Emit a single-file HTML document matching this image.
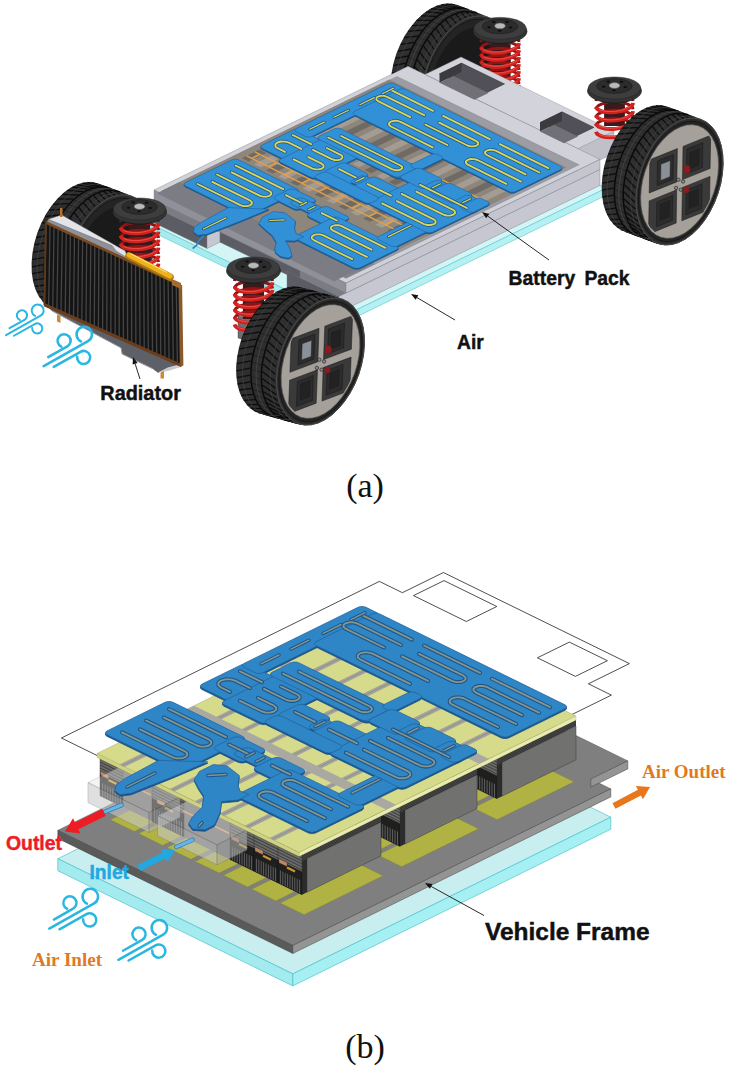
<!DOCTYPE html>
<html><head><meta charset="utf-8"><title>Battery pack cooling figure</title>
<style>html,body{margin:0;padding:0;background:#fff}svg{display:block}</style></head>
<body><svg width="730" height="1066" viewBox="0 0 730 1066">
<rect width="730" height="1066" fill="#fff"/>
<polygon points="57.8,858.7 292.8,973.9 610.8,817.2 375.8,702.1" fill="#c9eeef" stroke="#4cc3cc" stroke-width="0.70" stroke-linejoin="round"/>
<polygon points="57.8,858.7 292.8,973.9 292.8,985.9 57.8,870.7" fill="#a3ebef" stroke="#4cc3cc" stroke-width="0.70" stroke-linejoin="round"/>
<polygon points="292.8,973.9 610.8,817.2 610.8,829.2 292.8,985.9" fill="#a6f0f4" stroke="#4cc3cc" stroke-width="0.70" stroke-linejoin="round"/>
<polygon points="57.8,830.4 292.8,945.5 610.8,788.9 590.8,779.1 627.8,760.9 432.8,665.4 395.8,683.6 375.8,673.8" fill="#7f7f7f" stroke="#444" stroke-width="0.50" stroke-linejoin="round"/>
<polygon points="57.8,830.4 292.8,945.5 292.8,953.5 57.8,838.4" fill="#5a5a5a" stroke="#444" stroke-width="0.50" stroke-linejoin="round"/>
<polygon points="292.8,945.5 610.8,788.9 610.8,796.9 292.8,953.5" fill="#949494" stroke="#444" stroke-width="0.50" stroke-linejoin="round"/>
<polygon points="590.8,779.1 627.8,760.9 627.8,768.9 590.8,787.1" fill="#949494" stroke="#444" stroke-width="0.50" stroke-linejoin="round"/>
<polygon points="280.1,903 359.1,864.1 383.1,875.8 304.1,914.7" fill="#b0b344" stroke="#7d8028" stroke-width="0.40" stroke-linejoin="round"/>
<polygon points="377.7,854.9 454.6,817 478.6,828.8 401.7,866.7" fill="#b0b344" stroke="#7d8028" stroke-width="0.40" stroke-linejoin="round"/>
<polygon points="473.1,807.9 550.1,770 574.1,781.8 497.1,819.7" fill="#b0b344" stroke="#7d8028" stroke-width="0.40" stroke-linejoin="round"/>
<polygon points="251.8,889.1 330.8,850.2 354.8,862 275.8,900.9" fill="#b0b344" stroke="#7d8028" stroke-width="0.40" stroke-linejoin="round"/>
<polygon points="349.4,841 426.3,803.2 450.3,814.9 373.4,852.8" fill="#b0b344" stroke="#7d8028" stroke-width="0.40" stroke-linejoin="round"/>
<polygon points="444.8,794.1 521.8,756.1 545.8,767.9 468.8,805.8" fill="#b0b344" stroke="#7d8028" stroke-width="0.40" stroke-linejoin="round"/>
<polygon points="223.5,875.2 302.5,836.3 326.5,848.1 247.5,887" fill="#b0b344" stroke="#7d8028" stroke-width="0.40" stroke-linejoin="round"/>
<polygon points="321.1,827.2 398,789.3 422,801.1 345.1,838.9" fill="#b0b344" stroke="#7d8028" stroke-width="0.40" stroke-linejoin="round"/>
<polygon points="416.5,780.2 493.5,742.3 517.5,754 440.5,791.9" fill="#b0b344" stroke="#7d8028" stroke-width="0.40" stroke-linejoin="round"/>
<polygon points="195.2,861.4 274.2,822.5 298.2,834.2 219.2,873.1" fill="#b0b344" stroke="#7d8028" stroke-width="0.40" stroke-linejoin="round"/>
<polygon points="292.8,813.3 369.7,775.4 393.7,787.2 316.8,825.1" fill="#b0b344" stroke="#7d8028" stroke-width="0.40" stroke-linejoin="round"/>
<polygon points="388.2,766.3 465.2,728.4 489.2,740.2 412.2,778.1" fill="#b0b344" stroke="#7d8028" stroke-width="0.40" stroke-linejoin="round"/>
<polygon points="166.9,847.5 245.9,808.6 269.9,820.4 190.9,859.3" fill="#b0b344" stroke="#7d8028" stroke-width="0.40" stroke-linejoin="round"/>
<polygon points="264.5,799.4 341.4,761.6 365.4,773.3 288.5,811.2" fill="#b0b344" stroke="#7d8028" stroke-width="0.40" stroke-linejoin="round"/>
<polygon points="359.9,752.5 436.9,714.5 460.9,726.3 383.9,764.2" fill="#b0b344" stroke="#7d8028" stroke-width="0.40" stroke-linejoin="round"/>
<polygon points="138.6,833.6 217.6,794.7 241.6,806.5 162.6,845.4" fill="#b0b344" stroke="#7d8028" stroke-width="0.40" stroke-linejoin="round"/>
<polygon points="236.2,785.6 313.1,747.7 337.1,759.5 260.2,797.3" fill="#b0b344" stroke="#7d8028" stroke-width="0.40" stroke-linejoin="round"/>
<polygon points="331.6,738.6 408.6,700.7 432.6,712.4 355.6,750.3" fill="#b0b344" stroke="#7d8028" stroke-width="0.40" stroke-linejoin="round"/>
<polygon points="110.3,819.8 189.3,780.9 213.3,792.6 134.3,831.5" fill="#b0b344" stroke="#7d8028" stroke-width="0.40" stroke-linejoin="round"/>
<polygon points="207.9,771.7 284.8,733.8 308.8,745.6 231.9,783.5" fill="#b0b344" stroke="#7d8028" stroke-width="0.40" stroke-linejoin="round"/>
<polygon points="303.3,724.7 380.3,686.8 404.3,698.6 327.3,736.5" fill="#b0b344" stroke="#7d8028" stroke-width="0.40" stroke-linejoin="round"/>
<polygon points="61.4,738 293.4,851.7 611.4,695.1 588.4,683.8 629.4,663.6 443.4,572.5 402.4,592.7 379.4,581.4" fill="none" stroke="#222" stroke-width="0.80" stroke-linejoin="round"/>
<polygon points="413.5,595.6 444,580.6 496.8,606.5 466.3,621.5" fill="none" stroke="#222" stroke-width="0.80" stroke-linejoin="round"/>
<polygon points="537.4,657.8 569.4,642.1 607.4,660.7 575.4,676.4" fill="none" stroke="#222" stroke-width="0.80" stroke-linejoin="round"/>
<polygon points="445,733.5 497,759 497,776 445,750.5" fill="#6a6a68" stroke="#333" stroke-width="0.40" stroke-linejoin="round"/>
<polyline points="445,736.5 497,762" fill="none" stroke="#2a2a2a" stroke-width="0.70" stroke-linecap="butt" stroke-linejoin="round"/>
<polyline points="445,739.5 497,765" fill="none" stroke="#2a2a2a" stroke-width="0.70" stroke-linecap="butt" stroke-linejoin="round"/>
<polyline points="445,742.5 497,768" fill="none" stroke="#2a2a2a" stroke-width="0.70" stroke-linecap="butt" stroke-linejoin="round"/>
<polyline points="445,745.5 497,771" fill="none" stroke="#2a2a2a" stroke-width="0.70" stroke-linecap="butt" stroke-linejoin="round"/>
<polyline points="445,748.5 497,774" fill="none" stroke="#2a2a2a" stroke-width="0.70" stroke-linecap="butt" stroke-linejoin="round"/>
<polygon points="445,750.5 497,776 497,798.7 445,773.2" fill="#1f1f1f" stroke="#111" stroke-width="0.40" stroke-linejoin="round"/>
<polyline points="447.5,760.7 447.5,773.9" fill="none" stroke="#8a8a8a" stroke-width="0.60" stroke-linecap="butt" stroke-linejoin="round"/>
<polyline points="450,761.9 450,775.1" fill="none" stroke="#8a8a8a" stroke-width="0.60" stroke-linecap="butt" stroke-linejoin="round"/>
<polyline points="452.4,763.1 452.4,776.3" fill="none" stroke="#8a8a8a" stroke-width="0.60" stroke-linecap="butt" stroke-linejoin="round"/>
<polyline points="454.9,764.3 454.9,777.5" fill="none" stroke="#8a8a8a" stroke-width="0.60" stroke-linecap="butt" stroke-linejoin="round"/>
<polyline points="457.4,765.6 457.4,778.8" fill="none" stroke="#8a8a8a" stroke-width="0.60" stroke-linecap="butt" stroke-linejoin="round"/>
<polyline points="459.9,766.8 459.9,780" fill="none" stroke="#8a8a8a" stroke-width="0.60" stroke-linecap="butt" stroke-linejoin="round"/>
<polyline points="462.3,768 462.3,781.2" fill="none" stroke="#8a8a8a" stroke-width="0.60" stroke-linecap="butt" stroke-linejoin="round"/>
<polyline points="464.8,769.2 464.8,782.4" fill="none" stroke="#8a8a8a" stroke-width="0.60" stroke-linecap="butt" stroke-linejoin="round"/>
<polyline points="467.3,770.4 467.3,783.6" fill="none" stroke="#8a8a8a" stroke-width="0.60" stroke-linecap="butt" stroke-linejoin="round"/>
<polyline points="469.8,771.6 469.8,784.8" fill="none" stroke="#8a8a8a" stroke-width="0.60" stroke-linecap="butt" stroke-linejoin="round"/>
<polyline points="472.2,772.8 472.2,786" fill="none" stroke="#8a8a8a" stroke-width="0.60" stroke-linecap="butt" stroke-linejoin="round"/>
<polyline points="474.7,774 474.7,787.2" fill="none" stroke="#8a8a8a" stroke-width="0.60" stroke-linecap="butt" stroke-linejoin="round"/>
<polyline points="477.2,775.3 477.2,788.5" fill="none" stroke="#8a8a8a" stroke-width="0.60" stroke-linecap="butt" stroke-linejoin="round"/>
<polyline points="479.7,776.5 479.7,789.7" fill="none" stroke="#8a8a8a" stroke-width="0.60" stroke-linecap="butt" stroke-linejoin="round"/>
<polyline points="482.1,777.7 482.1,790.9" fill="none" stroke="#8a8a8a" stroke-width="0.60" stroke-linecap="butt" stroke-linejoin="round"/>
<polyline points="484.6,778.9 484.6,792.1" fill="none" stroke="#8a8a8a" stroke-width="0.60" stroke-linecap="butt" stroke-linejoin="round"/>
<polyline points="487.1,780.1 487.1,793.3" fill="none" stroke="#8a8a8a" stroke-width="0.60" stroke-linecap="butt" stroke-linejoin="round"/>
<polyline points="489.6,781.3 489.6,794.5" fill="none" stroke="#8a8a8a" stroke-width="0.60" stroke-linecap="butt" stroke-linejoin="round"/>
<polyline points="492,782.5 492,795.7" fill="none" stroke="#8a8a8a" stroke-width="0.60" stroke-linecap="butt" stroke-linejoin="round"/>
<polyline points="494.5,783.8 494.5,797" fill="none" stroke="#8a8a8a" stroke-width="0.60" stroke-linecap="butt" stroke-linejoin="round"/>
<polygon points="497,759 576,720.1 576,726.1 497,765" fill="#2a2a2a"/>
<polyline points="497,760.5 576,721.6" fill="none" stroke="#777" stroke-width="0.40" stroke-linecap="butt" stroke-linejoin="round"/>
<polyline points="497,762 576,723.1" fill="none" stroke="#777" stroke-width="0.40" stroke-linecap="butt" stroke-linejoin="round"/>
<polyline points="497,763.5 576,724.6" fill="none" stroke="#777" stroke-width="0.40" stroke-linecap="butt" stroke-linejoin="round"/>
<polygon points="502,762.5 576,726.1 576,759.8 502,796.2" fill="#717170" stroke="#3c3c3c" stroke-width="0.50" stroke-linejoin="round"/>
<polygon points="497,765 502,762.5 502,796.2 497,798.7" fill="#2c2c2c"/>
<polygon points="348,781.3 400,806.7 400,823.7 348,798.3" fill="#6a6a68" stroke="#333" stroke-width="0.40" stroke-linejoin="round"/>
<polyline points="348,784.3 400,809.7" fill="none" stroke="#2a2a2a" stroke-width="0.70" stroke-linecap="butt" stroke-linejoin="round"/>
<polyline points="348,787.3 400,812.7" fill="none" stroke="#2a2a2a" stroke-width="0.70" stroke-linecap="butt" stroke-linejoin="round"/>
<polyline points="348,790.3 400,815.7" fill="none" stroke="#2a2a2a" stroke-width="0.70" stroke-linecap="butt" stroke-linejoin="round"/>
<polyline points="348,793.3 400,818.7" fill="none" stroke="#2a2a2a" stroke-width="0.70" stroke-linecap="butt" stroke-linejoin="round"/>
<polyline points="348,796.3 400,821.7" fill="none" stroke="#2a2a2a" stroke-width="0.70" stroke-linecap="butt" stroke-linejoin="round"/>
<polygon points="348,798.3 400,823.7 400,846.4 348,821" fill="#1f1f1f" stroke="#111" stroke-width="0.40" stroke-linejoin="round"/>
<polyline points="350.5,808.5 350.5,821.7" fill="none" stroke="#8a8a8a" stroke-width="0.60" stroke-linecap="butt" stroke-linejoin="round"/>
<polyline points="353,809.7 353,822.9" fill="none" stroke="#8a8a8a" stroke-width="0.60" stroke-linecap="butt" stroke-linejoin="round"/>
<polyline points="355.4,810.9 355.4,824.1" fill="none" stroke="#8a8a8a" stroke-width="0.60" stroke-linecap="butt" stroke-linejoin="round"/>
<polyline points="357.9,812.1 357.9,825.3" fill="none" stroke="#8a8a8a" stroke-width="0.60" stroke-linecap="butt" stroke-linejoin="round"/>
<polyline points="360.4,813.3 360.4,826.5" fill="none" stroke="#8a8a8a" stroke-width="0.60" stroke-linecap="butt" stroke-linejoin="round"/>
<polyline points="362.9,814.5 362.9,827.7" fill="none" stroke="#8a8a8a" stroke-width="0.60" stroke-linecap="butt" stroke-linejoin="round"/>
<polyline points="365.3,815.8 365.3,829" fill="none" stroke="#8a8a8a" stroke-width="0.60" stroke-linecap="butt" stroke-linejoin="round"/>
<polyline points="367.8,817 367.8,830.2" fill="none" stroke="#8a8a8a" stroke-width="0.60" stroke-linecap="butt" stroke-linejoin="round"/>
<polyline points="370.3,818.2 370.3,831.4" fill="none" stroke="#8a8a8a" stroke-width="0.60" stroke-linecap="butt" stroke-linejoin="round"/>
<polyline points="372.8,819.4 372.8,832.6" fill="none" stroke="#8a8a8a" stroke-width="0.60" stroke-linecap="butt" stroke-linejoin="round"/>
<polyline points="375.2,820.6 375.2,833.8" fill="none" stroke="#8a8a8a" stroke-width="0.60" stroke-linecap="butt" stroke-linejoin="round"/>
<polyline points="377.7,821.8 377.7,835" fill="none" stroke="#8a8a8a" stroke-width="0.60" stroke-linecap="butt" stroke-linejoin="round"/>
<polyline points="380.2,823 380.2,836.2" fill="none" stroke="#8a8a8a" stroke-width="0.60" stroke-linecap="butt" stroke-linejoin="round"/>
<polyline points="382.7,824.2 382.7,837.4" fill="none" stroke="#8a8a8a" stroke-width="0.60" stroke-linecap="butt" stroke-linejoin="round"/>
<polyline points="385.1,825.5 385.1,838.7" fill="none" stroke="#8a8a8a" stroke-width="0.60" stroke-linecap="butt" stroke-linejoin="round"/>
<polyline points="387.6,826.7 387.6,839.9" fill="none" stroke="#8a8a8a" stroke-width="0.60" stroke-linecap="butt" stroke-linejoin="round"/>
<polyline points="390.1,827.9 390.1,841.1" fill="none" stroke="#8a8a8a" stroke-width="0.60" stroke-linecap="butt" stroke-linejoin="round"/>
<polyline points="392.6,829.1 392.6,842.3" fill="none" stroke="#8a8a8a" stroke-width="0.60" stroke-linecap="butt" stroke-linejoin="round"/>
<polyline points="395,830.3 395,843.5" fill="none" stroke="#8a8a8a" stroke-width="0.60" stroke-linecap="butt" stroke-linejoin="round"/>
<polyline points="397.5,831.5 397.5,844.7" fill="none" stroke="#8a8a8a" stroke-width="0.60" stroke-linecap="butt" stroke-linejoin="round"/>
<polygon points="400,806.7 477,768.8 477,774.8 400,812.7" fill="#2a2a2a"/>
<polyline points="400,808.2 477,770.3" fill="none" stroke="#777" stroke-width="0.40" stroke-linecap="butt" stroke-linejoin="round"/>
<polyline points="400,809.7 477,771.8" fill="none" stroke="#777" stroke-width="0.40" stroke-linecap="butt" stroke-linejoin="round"/>
<polyline points="400,811.2 477,773.3" fill="none" stroke="#777" stroke-width="0.40" stroke-linecap="butt" stroke-linejoin="round"/>
<polygon points="405,810.3 477,774.8 477,808.5 405,844" fill="#717170" stroke="#3c3c3c" stroke-width="0.50" stroke-linejoin="round"/>
<polygon points="400,812.7 405,810.3 405,844 400,846.4" fill="#2c2c2c"/>
<polygon points="302,855 381,816.1 381,822.1 302,861" fill="#2a2a2a"/>
<polyline points="302,856.5 381,817.6" fill="none" stroke="#777" stroke-width="0.40" stroke-linecap="butt" stroke-linejoin="round"/>
<polyline points="302,858 381,819.1" fill="none" stroke="#777" stroke-width="0.40" stroke-linecap="butt" stroke-linejoin="round"/>
<polyline points="302,859.5 381,820.6" fill="none" stroke="#777" stroke-width="0.40" stroke-linecap="butt" stroke-linejoin="round"/>
<polygon points="307,858.5 381,822.1 381,855.8 307,892.2" fill="#717170" stroke="#3c3c3c" stroke-width="0.50" stroke-linejoin="round"/>
<polygon points="302,861 307,858.5 307,892.2 302,894.7" fill="#2c2c2c"/>
<polygon points="100,756 302,855 302,894.7 100,795.7" fill="#6e6e70"/>
<polygon points="100,756 123,767.3 123,784.3 100,773" fill="#6a6a68" stroke="#333" stroke-width="0.40" stroke-linejoin="round"/>
<polyline points="100,759 123,770.3" fill="none" stroke="#2a2a2a" stroke-width="0.70" stroke-linecap="butt" stroke-linejoin="round"/>
<polyline points="100,762 123,773.3" fill="none" stroke="#2a2a2a" stroke-width="0.70" stroke-linecap="butt" stroke-linejoin="round"/>
<polyline points="100,765 123,776.3" fill="none" stroke="#2a2a2a" stroke-width="0.70" stroke-linecap="butt" stroke-linejoin="round"/>
<polyline points="100,768 123,779.3" fill="none" stroke="#2a2a2a" stroke-width="0.70" stroke-linecap="butt" stroke-linejoin="round"/>
<polyline points="100,771 123,782.3" fill="none" stroke="#2a2a2a" stroke-width="0.70" stroke-linecap="butt" stroke-linejoin="round"/>
<polygon points="100,773 123,784.3 123,807 100,795.7" fill="#1f1f1f" stroke="#111" stroke-width="0.40" stroke-linejoin="round"/>
<polyline points="102.6,783.3 102.6,796.5" fill="none" stroke="#8a8a8a" stroke-width="0.60" stroke-linecap="butt" stroke-linejoin="round"/>
<polyline points="105.1,784.5 105.1,797.7" fill="none" stroke="#8a8a8a" stroke-width="0.60" stroke-linecap="butt" stroke-linejoin="round"/>
<polyline points="107.7,785.8 107.7,799" fill="none" stroke="#8a8a8a" stroke-width="0.60" stroke-linecap="butt" stroke-linejoin="round"/>
<polyline points="110.2,787 110.2,800.2" fill="none" stroke="#8a8a8a" stroke-width="0.60" stroke-linecap="butt" stroke-linejoin="round"/>
<polyline points="112.8,788.3 112.8,801.5" fill="none" stroke="#8a8a8a" stroke-width="0.60" stroke-linecap="butt" stroke-linejoin="round"/>
<polyline points="115.3,789.5 115.3,802.7" fill="none" stroke="#8a8a8a" stroke-width="0.60" stroke-linecap="butt" stroke-linejoin="round"/>
<polyline points="117.9,790.8 117.9,804" fill="none" stroke="#8a8a8a" stroke-width="0.60" stroke-linecap="butt" stroke-linejoin="round"/>
<polyline points="120.4,792 120.4,805.2" fill="none" stroke="#8a8a8a" stroke-width="0.60" stroke-linecap="butt" stroke-linejoin="round"/>
<polygon points="100.5,771.2 108.5,775.1 108.5,779.1 100.5,775.2" fill="#b98a6a" stroke="#5c3a22" stroke-width="0.40" stroke-linejoin="round"/>
<polyline points="108.5,780.1 116.5,784" fill="none" stroke="#c89a2e" stroke-width="2.20" stroke-linecap="butt" stroke-linejoin="round"/>
<polygon points="152,781.5 184,797.2 184,814.2 152,798.5" fill="#6a6a68" stroke="#333" stroke-width="0.40" stroke-linejoin="round"/>
<polyline points="152,784.5 184,800.2" fill="none" stroke="#2a2a2a" stroke-width="0.70" stroke-linecap="butt" stroke-linejoin="round"/>
<polyline points="152,787.5 184,803.2" fill="none" stroke="#2a2a2a" stroke-width="0.70" stroke-linecap="butt" stroke-linejoin="round"/>
<polyline points="152,790.5 184,806.2" fill="none" stroke="#2a2a2a" stroke-width="0.70" stroke-linecap="butt" stroke-linejoin="round"/>
<polyline points="152,793.5 184,809.2" fill="none" stroke="#2a2a2a" stroke-width="0.70" stroke-linecap="butt" stroke-linejoin="round"/>
<polyline points="152,796.5 184,812.2" fill="none" stroke="#2a2a2a" stroke-width="0.70" stroke-linecap="butt" stroke-linejoin="round"/>
<polygon points="152,798.5 184,814.2 184,836.9 152,821.2" fill="#1f1f1f" stroke="#111" stroke-width="0.40" stroke-linejoin="round"/>
<polyline points="154.5,808.7 154.5,821.9" fill="none" stroke="#8a8a8a" stroke-width="0.60" stroke-linecap="butt" stroke-linejoin="round"/>
<polyline points="156.9,809.9 156.9,823.1" fill="none" stroke="#8a8a8a" stroke-width="0.60" stroke-linecap="butt" stroke-linejoin="round"/>
<polyline points="159.4,811.1 159.4,824.3" fill="none" stroke="#8a8a8a" stroke-width="0.60" stroke-linecap="butt" stroke-linejoin="round"/>
<polyline points="161.8,812.3 161.8,825.5" fill="none" stroke="#8a8a8a" stroke-width="0.60" stroke-linecap="butt" stroke-linejoin="round"/>
<polyline points="164.3,813.5 164.3,826.7" fill="none" stroke="#8a8a8a" stroke-width="0.60" stroke-linecap="butt" stroke-linejoin="round"/>
<polyline points="166.8,814.7 166.8,827.9" fill="none" stroke="#8a8a8a" stroke-width="0.60" stroke-linecap="butt" stroke-linejoin="round"/>
<polyline points="169.2,815.9 169.2,829.1" fill="none" stroke="#8a8a8a" stroke-width="0.60" stroke-linecap="butt" stroke-linejoin="round"/>
<polyline points="171.7,817.2 171.7,830.4" fill="none" stroke="#8a8a8a" stroke-width="0.60" stroke-linecap="butt" stroke-linejoin="round"/>
<polyline points="174.2,818.4 174.2,831.6" fill="none" stroke="#8a8a8a" stroke-width="0.60" stroke-linecap="butt" stroke-linejoin="round"/>
<polyline points="176.6,819.6 176.6,832.8" fill="none" stroke="#8a8a8a" stroke-width="0.60" stroke-linecap="butt" stroke-linejoin="round"/>
<polyline points="179.1,820.8 179.1,834" fill="none" stroke="#8a8a8a" stroke-width="0.60" stroke-linecap="butt" stroke-linejoin="round"/>
<polyline points="181.5,822 181.5,835.2" fill="none" stroke="#8a8a8a" stroke-width="0.60" stroke-linecap="butt" stroke-linejoin="round"/>
<polygon points="157,798.9 165,802.8 165,806.8 157,802.9" fill="#b98a6a" stroke="#5c3a22" stroke-width="0.40" stroke-linejoin="round"/>
<polyline points="165,807.8 173,811.7" fill="none" stroke="#c89a2e" stroke-width="2.20" stroke-linecap="butt" stroke-linejoin="round"/>
<polygon points="230,819.7 254,831.5 254,848.5 230,836.7" fill="#6a6a68" stroke="#333" stroke-width="0.40" stroke-linejoin="round"/>
<polyline points="230,822.7 254,834.5" fill="none" stroke="#2a2a2a" stroke-width="0.70" stroke-linecap="butt" stroke-linejoin="round"/>
<polyline points="230,825.7 254,837.5" fill="none" stroke="#2a2a2a" stroke-width="0.70" stroke-linecap="butt" stroke-linejoin="round"/>
<polyline points="230,828.7 254,840.5" fill="none" stroke="#2a2a2a" stroke-width="0.70" stroke-linecap="butt" stroke-linejoin="round"/>
<polyline points="230,831.7 254,843.5" fill="none" stroke="#2a2a2a" stroke-width="0.70" stroke-linecap="butt" stroke-linejoin="round"/>
<polyline points="230,834.7 254,846.5" fill="none" stroke="#2a2a2a" stroke-width="0.70" stroke-linecap="butt" stroke-linejoin="round"/>
<polygon points="230,836.7 254,848.5 254,871.2 230,859.4" fill="#1f1f1f" stroke="#111" stroke-width="0.40" stroke-linejoin="round"/>
<polyline points="232.4,846.9 232.4,860.1" fill="none" stroke="#8a8a8a" stroke-width="0.60" stroke-linecap="butt" stroke-linejoin="round"/>
<polyline points="234.8,848.1 234.8,861.3" fill="none" stroke="#8a8a8a" stroke-width="0.60" stroke-linecap="butt" stroke-linejoin="round"/>
<polyline points="237.2,849.3 237.2,862.5" fill="none" stroke="#8a8a8a" stroke-width="0.60" stroke-linecap="butt" stroke-linejoin="round"/>
<polyline points="239.6,850.4 239.6,863.6" fill="none" stroke="#8a8a8a" stroke-width="0.60" stroke-linecap="butt" stroke-linejoin="round"/>
<polyline points="242,851.6 242,864.8" fill="none" stroke="#8a8a8a" stroke-width="0.60" stroke-linecap="butt" stroke-linejoin="round"/>
<polyline points="244.4,852.8 244.4,866" fill="none" stroke="#8a8a8a" stroke-width="0.60" stroke-linecap="butt" stroke-linejoin="round"/>
<polyline points="246.8,854 246.8,867.2" fill="none" stroke="#8a8a8a" stroke-width="0.60" stroke-linecap="butt" stroke-linejoin="round"/>
<polyline points="249.2,855.1 249.2,868.3" fill="none" stroke="#8a8a8a" stroke-width="0.60" stroke-linecap="butt" stroke-linejoin="round"/>
<polyline points="251.6,856.3 251.6,869.5" fill="none" stroke="#8a8a8a" stroke-width="0.60" stroke-linecap="butt" stroke-linejoin="round"/>
<polygon points="231,835.1 239,839.1 239,843.1 231,839.1" fill="#b98a6a" stroke="#5c3a22" stroke-width="0.40" stroke-linejoin="round"/>
<polyline points="239,844.1 247,848" fill="none" stroke="#c89a2e" stroke-width="2.20" stroke-linecap="butt" stroke-linejoin="round"/>
<polygon points="254,831.5 278,843.2 278,860.2 254,848.5" fill="#6a6a68" stroke="#333" stroke-width="0.40" stroke-linejoin="round"/>
<polyline points="254,834.5 278,846.2" fill="none" stroke="#2a2a2a" stroke-width="0.70" stroke-linecap="butt" stroke-linejoin="round"/>
<polyline points="254,837.5 278,849.2" fill="none" stroke="#2a2a2a" stroke-width="0.70" stroke-linecap="butt" stroke-linejoin="round"/>
<polyline points="254,840.5 278,852.2" fill="none" stroke="#2a2a2a" stroke-width="0.70" stroke-linecap="butt" stroke-linejoin="round"/>
<polyline points="254,843.5 278,855.2" fill="none" stroke="#2a2a2a" stroke-width="0.70" stroke-linecap="butt" stroke-linejoin="round"/>
<polyline points="254,846.5 278,858.2" fill="none" stroke="#2a2a2a" stroke-width="0.70" stroke-linecap="butt" stroke-linejoin="round"/>
<polygon points="254,848.5 278,860.2 278,882.9 254,871.2" fill="#1f1f1f" stroke="#111" stroke-width="0.40" stroke-linejoin="round"/>
<polyline points="256.4,858.7 256.4,871.9" fill="none" stroke="#8a8a8a" stroke-width="0.60" stroke-linecap="butt" stroke-linejoin="round"/>
<polyline points="258.8,859.8 258.8,873" fill="none" stroke="#8a8a8a" stroke-width="0.60" stroke-linecap="butt" stroke-linejoin="round"/>
<polyline points="261.2,861 261.2,874.2" fill="none" stroke="#8a8a8a" stroke-width="0.60" stroke-linecap="butt" stroke-linejoin="round"/>
<polyline points="263.6,862.2 263.6,875.4" fill="none" stroke="#8a8a8a" stroke-width="0.60" stroke-linecap="butt" stroke-linejoin="round"/>
<polyline points="266,863.4 266,876.6" fill="none" stroke="#8a8a8a" stroke-width="0.60" stroke-linecap="butt" stroke-linejoin="round"/>
<polyline points="268.4,864.5 268.4,877.7" fill="none" stroke="#8a8a8a" stroke-width="0.60" stroke-linecap="butt" stroke-linejoin="round"/>
<polyline points="270.8,865.7 270.8,878.9" fill="none" stroke="#8a8a8a" stroke-width="0.60" stroke-linecap="butt" stroke-linejoin="round"/>
<polyline points="273.2,866.9 273.2,880.1" fill="none" stroke="#8a8a8a" stroke-width="0.60" stroke-linecap="butt" stroke-linejoin="round"/>
<polyline points="275.6,868.1 275.6,881.3" fill="none" stroke="#8a8a8a" stroke-width="0.60" stroke-linecap="butt" stroke-linejoin="round"/>
<polygon points="255,846.9 263,850.8 263,854.8 255,850.9" fill="#b98a6a" stroke="#5c3a22" stroke-width="0.40" stroke-linejoin="round"/>
<polyline points="263,855.8 271,859.7" fill="none" stroke="#c89a2e" stroke-width="2.20" stroke-linecap="butt" stroke-linejoin="round"/>
<polygon points="278,843.2 302,855 302,872 278,860.2" fill="#6a6a68" stroke="#333" stroke-width="0.40" stroke-linejoin="round"/>
<polyline points="278,846.2 302,858" fill="none" stroke="#2a2a2a" stroke-width="0.70" stroke-linecap="butt" stroke-linejoin="round"/>
<polyline points="278,849.2 302,861" fill="none" stroke="#2a2a2a" stroke-width="0.70" stroke-linecap="butt" stroke-linejoin="round"/>
<polyline points="278,852.2 302,864" fill="none" stroke="#2a2a2a" stroke-width="0.70" stroke-linecap="butt" stroke-linejoin="round"/>
<polyline points="278,855.2 302,867" fill="none" stroke="#2a2a2a" stroke-width="0.70" stroke-linecap="butt" stroke-linejoin="round"/>
<polyline points="278,858.2 302,870" fill="none" stroke="#2a2a2a" stroke-width="0.70" stroke-linecap="butt" stroke-linejoin="round"/>
<polygon points="278,860.2 302,872 302,894.7 278,882.9" fill="#1f1f1f" stroke="#111" stroke-width="0.40" stroke-linejoin="round"/>
<polyline points="280.4,870.4 280.4,883.6" fill="none" stroke="#8a8a8a" stroke-width="0.60" stroke-linecap="butt" stroke-linejoin="round"/>
<polyline points="282.8,871.6 282.8,884.8" fill="none" stroke="#8a8a8a" stroke-width="0.60" stroke-linecap="butt" stroke-linejoin="round"/>
<polyline points="285.2,872.8 285.2,886" fill="none" stroke="#8a8a8a" stroke-width="0.60" stroke-linecap="butt" stroke-linejoin="round"/>
<polyline points="287.6,873.9 287.6,887.1" fill="none" stroke="#8a8a8a" stroke-width="0.60" stroke-linecap="butt" stroke-linejoin="round"/>
<polyline points="290,875.1 290,888.3" fill="none" stroke="#8a8a8a" stroke-width="0.60" stroke-linecap="butt" stroke-linejoin="round"/>
<polyline points="292.4,876.3 292.4,889.5" fill="none" stroke="#8a8a8a" stroke-width="0.60" stroke-linecap="butt" stroke-linejoin="round"/>
<polyline points="294.8,877.5 294.8,890.7" fill="none" stroke="#8a8a8a" stroke-width="0.60" stroke-linecap="butt" stroke-linejoin="round"/>
<polyline points="297.2,878.7 297.2,891.9" fill="none" stroke="#8a8a8a" stroke-width="0.60" stroke-linecap="butt" stroke-linejoin="round"/>
<polyline points="299.6,879.8 299.6,893" fill="none" stroke="#8a8a8a" stroke-width="0.60" stroke-linecap="butt" stroke-linejoin="round"/>
<polygon points="279,858.7 287,862.6 287,866.6 279,862.7" fill="#b98a6a" stroke="#5c3a22" stroke-width="0.40" stroke-linejoin="round"/>
<polyline points="287,867.6 295,871.5" fill="none" stroke="#c89a2e" stroke-width="2.20" stroke-linecap="butt" stroke-linejoin="round"/>
<polyline points="122,780.8 151,795" fill="none" stroke="#d79a5e" stroke-width="1.60" stroke-linecap="butt" stroke-linejoin="round"/>
<polyline points="183,810.7 229,833.2" fill="none" stroke="#d79a5e" stroke-width="1.60" stroke-linecap="butt" stroke-linejoin="round"/>
<polygon points="88,782.6 119,767.3 180,797.2 149,812.5" fill="#e4e4e4" stroke="#6f6f6f" stroke-width="0.50" stroke-linejoin="round" opacity="0.42"/>
<polygon points="88,782.6 149,812.5 149,832.5 88,802.6" fill="#c9c9c9" stroke="#6f6f6f" stroke-width="0.50" stroke-linejoin="round" opacity="0.58"/>
<polygon points="149,812.5 180,797.2 180,817.2 149,832.5" fill="#b0b0b0" stroke="#6f6f6f" stroke-width="0.50" stroke-linejoin="round" opacity="0.6"/>
<polygon points="157.5,815.7 187.5,800.9 247,830.1 217,844.8" fill="#e4e4e4" stroke="#6f6f6f" stroke-width="0.50" stroke-linejoin="round" opacity="0.42"/>
<polygon points="157.5,815.7 217,844.8 217,864.8 157.5,835.7" fill="#c9c9c9" stroke="#6f6f6f" stroke-width="0.50" stroke-linejoin="round" opacity="0.58"/>
<polygon points="217,844.8 247,830.1 247,850.1 217,864.8" fill="#b0b0b0" stroke="#6f6f6f" stroke-width="0.50" stroke-linejoin="round" opacity="0.6"/>
<polyline points="105.5,811.6 121.5,805" fill="none" stroke="#2f7fb8" stroke-width="4.60" stroke-linecap="round" stroke-linejoin="round"/>
<polyline points="105.5,811.6 121.5,805" fill="none" stroke="#6ab4e4" stroke-width="3.00" stroke-linecap="round" stroke-linejoin="round"/>
<polyline points="176.3,846.9 192.4,840" fill="none" stroke="#2f7fb8" stroke-width="4.60" stroke-linecap="round" stroke-linejoin="round"/>
<polyline points="176.3,846.9 192.4,840" fill="none" stroke="#6ab4e4" stroke-width="3.00" stroke-linecap="round" stroke-linejoin="round"/>
<polygon points="97,753.5 374,617.1 576,716.1 299,852.5" fill="#d6da8b" stroke="#9a9c50" stroke-width="0.40" stroke-linejoin="round"/>
<polygon points="299,852.5 576,716.1 576,720.1 299,856.5" fill="#e9ebb0" stroke="#9a9c50" stroke-width="0.30" stroke-linejoin="round"/>
<polygon points="97,753.5 299,852.5 299,856.5 97,757.5" fill="#cfd283" stroke="#9a9c50" stroke-width="0.30" stroke-linejoin="round"/>
<polygon points="119.5,764.5 396.5,628.1 401.5,630.6 124.5,767" fill="#a3a39c"/>
<polyline points="122,765.8 399,629.3" fill="none" stroke="#7f7f7a" stroke-width="0.50" stroke-linecap="butt" stroke-linejoin="round"/>
<polygon points="144.5,776.8 421.5,640.4 426.5,642.8 149.5,779.2" fill="#a3a39c"/>
<polyline points="147,778 424,641.6" fill="none" stroke="#7f7f7a" stroke-width="0.50" stroke-linecap="butt" stroke-linejoin="round"/>
<polygon points="169.5,789 446.5,652.6 451.5,655.1 174.5,791.5" fill="#a3a39c"/>
<polyline points="172,790.2 449,653.8" fill="none" stroke="#7f7f7a" stroke-width="0.50" stroke-linecap="butt" stroke-linejoin="round"/>
<polygon points="194.5,801.3 471.5,664.9 476.5,667.3 199.5,803.7" fill="#a3a39c"/>
<polyline points="197,802.5 474,666.1" fill="none" stroke="#7f7f7a" stroke-width="0.50" stroke-linecap="butt" stroke-linejoin="round"/>
<polygon points="219.5,813.5 496.5,677.1 501.5,679.6 224.5,816" fill="#a3a39c"/>
<polyline points="222,814.8 499,678.3" fill="none" stroke="#7f7f7a" stroke-width="0.50" stroke-linecap="butt" stroke-linejoin="round"/>
<polygon points="244.5,825.8 521.5,689.4 526.5,691.8 249.5,828.2" fill="#a3a39c"/>
<polyline points="247,827 524,690.6" fill="none" stroke="#7f7f7a" stroke-width="0.50" stroke-linecap="butt" stroke-linejoin="round"/>
<polygon points="269.5,838 546.5,701.6 551.5,704.1 274.5,840.5" fill="#a3a39c"/>
<polyline points="272,839.2 549,702.8" fill="none" stroke="#7f7f7a" stroke-width="0.50" stroke-linecap="butt" stroke-linejoin="round"/>
<polygon points="184,710.7 194,705.7 396,804.7 386,809.6" fill="#a9a9a2"/>
<polygon points="277,664.9 287,659.9 489,758.9 479,763.8" fill="#a9a9a2"/>
<polygon points="243,738.1 244.5,739.4 244.5,740.8 243,742 185,770.6 182.5,771.3 179.5,771.3 177,770.6 107,736.3 105.5,735.1 105.5,733.6 107,732.4 165,703.8 167.5,703.1 170.5,703.1 173,703.8" fill="#1b5488" stroke="#1b5488" stroke-width="0.80" stroke-linejoin="round"/>
<polygon points="263,749.9 264.5,751.1 264.5,752.6 263,753.8 246,762.2 243.5,762.9 240.5,762.9 238,762.2 216,751.4 214.5,750.2 214.5,748.7 216,747.5 233,739.1 235.5,738.4 238.5,738.4 241,739.1" fill="#1b5488" stroke="#1b5488" stroke-width="0.80" stroke-linejoin="round"/>
<polygon points="273,760.7 274.5,761.9 274.5,763.4 273,764.6 266,768.1 263.5,768.8 260.5,768.8 258,768.1 236,757.3 234.5,756 234.5,754.6 236,753.4 243,749.9 245.5,749.2 248.5,749.2 251,749.9" fill="#1b5488" stroke="#1b5488" stroke-width="0.80" stroke-linejoin="round"/>
<polygon points="303,770.5 304.5,771.7 304.5,773.1 303,774.4 286,782.8 283.5,783.5 280.5,783.5 278,782.8 256,772 254.5,770.7 254.5,769.3 256,768.1 273,759.7 275.5,759 278.5,759 281,759.7" fill="#1b5488" stroke="#1b5488" stroke-width="0.80" stroke-linejoin="round"/>
<polygon points="362,806.2 363.5,807.5 363.5,808.9 362,810.2 316,832.8 313.5,833.6 310.5,833.6 308,832.8 239,799 237.5,797.8 237.5,796.4 239,795.1 285,772.4 287.5,771.7 290.5,771.7 293,772.4" fill="#1b5488" stroke="#1b5488" stroke-width="0.80" stroke-linejoin="round"/>
<polygon points="403,782.1 404.5,783.4 404.5,784.8 403,786.1 363,805.8 360.5,806.5 357.5,806.5 355,805.8 340,798.4 338.5,797.2 338.5,795.7 340,794.5 380,774.8 382.5,774.1 385.5,774.1 388,774.8" fill="#1b5488" stroke="#1b5488" stroke-width="0.80" stroke-linejoin="round"/>
<polygon points="275,679.1 276.5,680.4 276.5,681.8 275,683.1 236,702.3 233.5,703 230.5,703 228,702.3 202,689.5 200.5,688.3 200.5,686.8 202,685.6 241,666.4 243.5,665.7 246.5,665.7 249,666.4" fill="#1b5488" stroke="#1b5488" stroke-width="0.80" stroke-linejoin="round"/>
<polygon points="316,696.3 317.5,697.5 317.5,698.9 316,700.2 268,723.8 265.5,724.6 262.5,724.6 260,723.8 224,706.2 222.5,705 222.5,703.5 224,702.3 272,678.6 274.5,677.9 277.5,677.9 280,678.6" fill="#1b5488" stroke="#1b5488" stroke-width="0.80" stroke-linejoin="round"/>
<polygon points="328,717.9 329.5,719.1 329.5,720.5 328,721.8 311,730.2 308.5,730.9 305.5,730.9 303,730.2 280,718.9 278.5,717.7 278.5,716.2 280,715 297,706.6 299.5,705.9 302.5,705.9 305,706.6" fill="#1b5488" stroke="#1b5488" stroke-width="0.80" stroke-linejoin="round"/>
<polygon points="334,724.7 335.5,726 335.5,727.4 334,728.7 325,733.1 322.5,733.8 319.5,733.8 317,733.1 311,730.2 309.5,728.9 309.5,727.5 311,726.2 320,721.8 322.5,721.1 325.5,721.1 328,721.8" fill="#1b5488" stroke="#1b5488" stroke-width="0.80" stroke-linejoin="round"/>
<polygon points="374,739.4 375.5,740.7 375.5,742.1 374,743.4 354,753.2 351.5,753.9 348.5,753.9 346,753.2 313,737 311.5,735.8 311.5,734.4 313,733.1 333,723.3 335.5,722.5 338.5,722.5 341,723.3" fill="#1b5488" stroke="#1b5488" stroke-width="0.80" stroke-linejoin="round"/>
<polygon points="461,757.5 462.5,758.7 462.5,760.2 461,761.4 406,788.5 403.5,789.2 400.5,789.2 398,788.5 332,756.2 330.5,754.9 330.5,753.5 332,752.2 387,725.2 389.5,724.4 392.5,724.4 395,725.2" fill="#1b5488" stroke="#1b5488" stroke-width="0.80" stroke-linejoin="round"/>
<polygon points="377,614.2 378.5,615.4 378.5,616.8 377,618.1 263,674.2 260.5,674.9 257.5,675 255,674.2 244,668.8 242.5,667.6 242.5,666.2 244,664.9 358,608.8 360.5,608 363.5,608 366,608.8" fill="#1b5488" stroke="#1b5488" stroke-width="0.80" stroke-linejoin="round"/>
<polygon points="390,708.9 391.5,710.2 391.5,711.6 390,712.9 371,722.2 368.5,723 365.5,723 363,722.2 357,719.3 355.5,718.1 355.5,716.6 357,715.4 376,706 378.5,705.3 381.5,705.3 384,706" fill="#1b5488" stroke="#1b5488" stroke-width="0.80" stroke-linejoin="round"/>
<polygon points="565,706.3 566.5,707.5 566.5,709 565,710.2 509,737.8 506.5,738.5 503.5,738.5 501,737.8 316,647.1 314.5,645.9 314.5,644.5 316,643.2 372,615.6 374.5,614.9 377.5,614.9 380,615.6" fill="#1b5488" stroke="#1b5488" stroke-width="0.80" stroke-linejoin="round"/>
<polygon points="388,708 389.5,709.2 389.5,710.6 388,711.9 369,721.3 366.5,722 363.5,722 361,721.3 272,677.7 270.5,676.4 270.5,675 272,673.7 291,664.4 293.5,663.6 296.5,663.6 299,664.4" fill="#1b5488" stroke="#1b5488" stroke-width="0.80" stroke-linejoin="round"/>
<polygon points="420,696.1 421.5,697.4 421.5,698.8 420,700.1 396,711.9 393.5,712.6 390.5,712.6 388,711.9 384,709.9 382.5,708.7 382.5,707.3 384,706 408,694.2 410.5,693.5 413.5,693.5 416,694.2" fill="#1b5488" stroke="#1b5488" stroke-width="0.80" stroke-linejoin="round"/>
<polygon points="418,722.7 419.5,723.9 419.5,725.3 418,726.6 401,735 398.5,735.7 395.5,735.7 393,735 371,724.2 369.5,723 369.5,721.5 371,720.3 388,711.9 390.5,711.2 393.5,711.2 396,711.9" fill="#1b5488" stroke="#1b5488" stroke-width="0.80" stroke-linejoin="round"/>
<polygon points="425,729 426.5,730.3 426.5,731.7 425,733 414,738.4 411.5,739.1 408.5,739.1 406,738.4 400,735.5 398.5,734.2 398.5,732.8 400,731.5 411,726.1 413.5,725.4 416.5,725.4 419,726.1" fill="#1b5488" stroke="#1b5488" stroke-width="0.80" stroke-linejoin="round"/>
<polygon points="454,740.3 455.5,741.5 455.5,743 454,744.2 437,752.6 434.5,753.3 431.5,753.3 429,752.6 407,741.8 405.5,740.6 405.5,739.2 407,737.9 424,729.5 426.5,728.8 429.5,728.8 432,729.5" fill="#1b5488" stroke="#1b5488" stroke-width="0.80" stroke-linejoin="round"/>
<polygon points="461,746.7 462.5,747.9 462.5,749.4 461,750.6 450,756 447.5,756.8 444.5,756.8 442,756 436,753.1 434.5,751.9 434.5,750.4 436,749.2 447,743.8 449.5,743 452.5,743 455,743.7" fill="#1b5488" stroke="#1b5488" stroke-width="0.80" stroke-linejoin="round"/>
<polygon points="475,750.6 476.5,751.8 476.5,753.3 475,754.5 458,762.9 455.5,763.6 452.5,763.6 450,762.9 443,759.5 441.5,758.2 441.5,756.8 443,755.5 460,747.2 462.5,746.5 465.5,746.4 468,747.2" fill="#1b5488" stroke="#1b5488" stroke-width="0.80" stroke-linejoin="round"/>
<polygon points="340,746.3 341.5,747.6 341.5,749 340,750.3 333,753.7 330.5,754.4 327.5,754.4 325,753.7 267,725.3 265.5,724.1 265.5,722.6 267,721.4 274,717.9 276.5,717.2 279.5,717.2 282,717.9" fill="#1b5488" stroke="#1b5488" stroke-width="0.80" stroke-linejoin="round"/>
<polygon points="158.5,761.9 125.6,779.7 116.1,786.6 114.7,792.1 120.1,796.2 131.1,794.8 172.2,778.4 207.8,763.3" fill="#1b5488" stroke="#1b5488" stroke-width="0.80" stroke-linejoin="round"/>
<polygon points="194.1,781.1 199.6,772.8 213.3,766 227,767.4 239.3,777 238,786.6 240,792.6 249,796.1 238,801.5 221.5,803 220.1,813.9 214.6,826.3 205.1,831.3 192.7,830.4 188.6,824.9 192.7,818.1 202.3,808.5 203.7,797.6 198.3,789.3" fill="#1b5488" stroke="#1b5488" stroke-width="0.80" stroke-linejoin="round"/>
<polygon points="243,736.6 244.5,737.9 244.5,739.3 243,740.5 185,769.1 182.5,769.8 179.5,769.8 177,769.1 107,734.8 105.5,733.6 105.5,732.1 107,730.9 165,702.3 167.5,701.6 170.5,701.6 173,702.3" fill="#2f86c6" stroke="#1f609a" stroke-width="0.70" stroke-linejoin="round"/>
<polygon points="263,748.4 264.5,749.6 264.5,751.1 263,752.3 246,760.7 243.5,761.4 240.5,761.4 238,760.7 216,749.9 214.5,748.7 214.5,747.2 216,746 233,737.6 235.5,736.9 238.5,736.9 241,737.6" fill="#2f86c6" stroke="#1f609a" stroke-width="0.70" stroke-linejoin="round"/>
<polygon points="273,759.2 274.5,760.4 274.5,761.9 273,763.1 266,766.6 263.5,767.3 260.5,767.3 258,766.6 236,755.8 234.5,754.5 234.5,753.1 236,751.9 243,748.4 245.5,747.7 248.5,747.7 251,748.4" fill="#2f86c6" stroke="#1f609a" stroke-width="0.70" stroke-linejoin="round"/>
<polygon points="303,769 304.5,770.2 304.5,771.6 303,772.9 286,781.3 283.5,782 280.5,782 278,781.3 256,770.5 254.5,769.2 254.5,767.8 256,766.6 273,758.2 275.5,757.5 278.5,757.5 281,758.2" fill="#2f86c6" stroke="#1f609a" stroke-width="0.70" stroke-linejoin="round"/>
<polygon points="362,804.7 363.5,806 363.5,807.4 362,808.7 316,831.3 313.5,832.1 310.5,832.1 308,831.3 239,797.5 237.5,796.3 237.5,794.9 239,793.6 285,770.9 287.5,770.2 290.5,770.2 293,770.9" fill="#2f86c6" stroke="#1f609a" stroke-width="0.70" stroke-linejoin="round"/>
<polygon points="403,780.6 404.5,781.9 404.5,783.3 403,784.6 363,804.3 360.5,805 357.5,805 355,804.3 340,796.9 338.5,795.7 338.5,794.2 340,793 380,773.3 382.5,772.6 385.5,772.6 388,773.3" fill="#2f86c6" stroke="#1f609a" stroke-width="0.70" stroke-linejoin="round"/>
<polygon points="275,677.6 276.5,678.9 276.5,680.3 275,681.6 236,700.8 233.5,701.5 230.5,701.5 228,700.8 202,688 200.5,686.8 200.5,685.3 202,684.1 241,664.9 243.5,664.2 246.5,664.2 249,664.9" fill="#2f86c6" stroke="#1f609a" stroke-width="0.70" stroke-linejoin="round"/>
<polygon points="316,694.8 317.5,696 317.5,697.4 316,698.7 268,722.3 265.5,723.1 262.5,723.1 260,722.3 224,704.7 222.5,703.5 222.5,702 224,700.8 272,677.1 274.5,676.4 277.5,676.4 280,677.1" fill="#2f86c6" stroke="#1f609a" stroke-width="0.70" stroke-linejoin="round"/>
<polygon points="328,716.4 329.5,717.6 329.5,719 328,720.3 311,728.7 308.5,729.4 305.5,729.4 303,728.7 280,717.4 278.5,716.2 278.5,714.7 280,713.5 297,705.1 299.5,704.4 302.5,704.4 305,705.1" fill="#2f86c6" stroke="#1f609a" stroke-width="0.70" stroke-linejoin="round"/>
<polygon points="334,723.2 335.5,724.5 335.5,725.9 334,727.2 325,731.6 322.5,732.3 319.5,732.3 317,731.6 311,728.7 309.5,727.4 309.5,726 311,724.7 320,720.3 322.5,719.6 325.5,719.6 328,720.3" fill="#2f86c6" stroke="#1f609a" stroke-width="0.70" stroke-linejoin="round"/>
<polygon points="374,737.9 375.5,739.2 375.5,740.6 374,741.9 354,751.7 351.5,752.4 348.5,752.4 346,751.7 313,735.5 311.5,734.3 311.5,732.9 313,731.6 333,721.8 335.5,721 338.5,721 341,721.8" fill="#2f86c6" stroke="#1f609a" stroke-width="0.70" stroke-linejoin="round"/>
<polygon points="461,756 462.5,757.2 462.5,758.7 461,759.9 406,787 403.5,787.7 400.5,787.7 398,787 332,754.7 330.5,753.4 330.5,752 332,750.7 387,723.7 389.5,722.9 392.5,722.9 395,723.7" fill="#2f86c6" stroke="#1f609a" stroke-width="0.70" stroke-linejoin="round"/>
<polygon points="377,612.7 378.5,613.9 378.5,615.3 377,616.6 263,672.7 260.5,673.4 257.5,673.5 255,672.7 244,667.3 242.5,666.1 242.5,664.7 244,663.4 358,607.3 360.5,606.5 363.5,606.5 366,607.3" fill="#2f86c6" stroke="#1f609a" stroke-width="0.70" stroke-linejoin="round"/>
<polygon points="390,707.4 391.5,708.7 391.5,710.1 390,711.4 371,720.7 368.5,721.5 365.5,721.5 363,720.7 357,717.8 355.5,716.6 355.5,715.1 357,713.9 376,704.5 378.5,703.8 381.5,703.8 384,704.5" fill="#2f86c6" stroke="#1f609a" stroke-width="0.70" stroke-linejoin="round"/>
<polygon points="565,704.8 566.5,706 566.5,707.5 565,708.7 509,736.3 506.5,737 503.5,737 501,736.3 316,645.6 314.5,644.4 314.5,643 316,641.7 372,614.1 374.5,613.4 377.5,613.4 380,614.1" fill="#2f86c6" stroke="#1f609a" stroke-width="0.70" stroke-linejoin="round"/>
<polygon points="388,706.5 389.5,707.7 389.5,709.1 388,710.4 369,719.8 366.5,720.5 363.5,720.5 361,719.8 272,676.2 270.5,674.9 270.5,673.5 272,672.2 291,662.9 293.5,662.1 296.5,662.1 299,662.9" fill="#2f86c6" stroke="#1f609a" stroke-width="0.70" stroke-linejoin="round"/>
<polygon points="420,694.6 421.5,695.9 421.5,697.3 420,698.6 396,710.4 393.5,711.1 390.5,711.1 388,710.4 384,708.4 382.5,707.2 382.5,705.8 384,704.5 408,692.7 410.5,692 413.5,692 416,692.7" fill="#2f86c6" stroke="#1f609a" stroke-width="0.70" stroke-linejoin="round"/>
<polygon points="418,721.2 419.5,722.4 419.5,723.8 418,725.1 401,733.5 398.5,734.2 395.5,734.2 393,733.5 371,722.7 369.5,721.5 369.5,720 371,718.8 388,710.4 390.5,709.7 393.5,709.7 396,710.4" fill="#2f86c6" stroke="#1f609a" stroke-width="0.70" stroke-linejoin="round"/>
<polygon points="425,727.5 426.5,728.8 426.5,730.2 425,731.5 414,736.9 411.5,737.6 408.5,737.6 406,736.9 400,734 398.5,732.7 398.5,731.3 400,730 411,724.6 413.5,723.9 416.5,723.9 419,724.6" fill="#2f86c6" stroke="#1f609a" stroke-width="0.70" stroke-linejoin="round"/>
<polygon points="454,738.8 455.5,740 455.5,741.5 454,742.7 437,751.1 434.5,751.8 431.5,751.8 429,751.1 407,740.3 405.5,739.1 405.5,737.7 407,736.4 424,728 426.5,727.3 429.5,727.3 432,728" fill="#2f86c6" stroke="#1f609a" stroke-width="0.70" stroke-linejoin="round"/>
<polygon points="461,745.2 462.5,746.4 462.5,747.9 461,749.1 450,754.5 447.5,755.3 444.5,755.3 442,754.5 436,751.6 434.5,750.4 434.5,748.9 436,747.7 447,742.3 449.5,741.5 452.5,741.5 455,742.2" fill="#2f86c6" stroke="#1f609a" stroke-width="0.70" stroke-linejoin="round"/>
<polygon points="475,749.1 476.5,750.3 476.5,751.8 475,753 458,761.4 455.5,762.1 452.5,762.1 450,761.4 443,758 441.5,756.7 441.5,755.3 443,754 460,745.7 462.5,745 465.5,744.9 468,745.7" fill="#2f86c6" stroke="#1f609a" stroke-width="0.70" stroke-linejoin="round"/>
<polygon points="340,744.8 341.5,746.1 341.5,747.5 340,748.8 333,752.2 330.5,752.9 327.5,752.9 325,752.2 267,723.8 265.5,722.6 265.5,721.1 267,719.9 274,716.4 276.5,715.7 279.5,715.7 282,716.4" fill="#2f86c6" stroke="#1f609a" stroke-width="0.70" stroke-linejoin="round"/>
<polygon points="158.5,760.4 125.6,778.2 116.1,785.1 114.7,790.6 120.1,794.7 131.1,793.3 172.2,776.9 207.8,761.8" fill="#2f86c6" stroke="#1f609a" stroke-width="0.70" stroke-linejoin="round"/>
<polygon points="194.1,779.6 199.6,771.3 213.3,764.5 227,765.9 239.3,775.5 238,785.1 240,791.1 249,794.6 238,800 221.5,801.5 220.1,812.4 214.6,824.8 205.1,829.8 192.7,828.9 188.6,823.4 192.7,816.6 202.3,807 203.7,796.1 198.3,787.8" fill="#2f86c6" stroke="#1f609a" stroke-width="0.70" stroke-linejoin="round"/>
<polyline points="122,732.3 173,757.3 176.8,758.4 181.2,758.4 185,757.3 187.2,755.4 187.2,753.3 185,751.4 140,729.4" fill="none" stroke="#1b5488" stroke-width="4.00" stroke-linecap="round" stroke-linejoin="round"/>
<polyline points="146,720.5 197,745.5 200.8,746.6 205.2,746.6 209,745.5 211.2,743.6 211.2,741.5 209,739.6 164,717.6" fill="none" stroke="#1b5488" stroke-width="4.00" stroke-linecap="round" stroke-linejoin="round"/>
<polyline points="169,709.2 226,737.1" fill="none" stroke="#1b5488" stroke-width="4.00" stroke-linecap="round" stroke-linejoin="round"/>
<polyline points="307,821 261,798.5 258.8,796.6 258.8,794.5 261,792.6 264.8,791.5 269.2,791.5 273,792.6 325,818.1" fill="none" stroke="#1b5488" stroke-width="4.00" stroke-linecap="round" stroke-linejoin="round"/>
<polyline points="331,809.2 284.5,786.4 282.5,784.7 282.5,782.7 284.5,781 288,780 292,780 295.5,781 348,806.7" fill="none" stroke="#1b5488" stroke-width="4.00" stroke-linecap="round" stroke-linejoin="round"/>
<polyline points="498,727 452,704.4 449.8,702.6 449.8,700.4 452,698.5 455.8,697.4 460.2,697.4 464,698.5 516,724" fill="none" stroke="#1b5488" stroke-width="4.00" stroke-linecap="round" stroke-linejoin="round"/>
<polyline points="522,715.1 475.5,692.4 473.5,690.6 473.5,688.7 475.5,687 479,686 483,686 486.5,686.9 539,712.7" fill="none" stroke="#1b5488" stroke-width="4.00" stroke-linecap="round" stroke-linejoin="round"/>
<polyline points="492,678.8 550,707.2" fill="none" stroke="#1b5488" stroke-width="4.00" stroke-linecap="round" stroke-linejoin="round"/>
<polyline points="240,700.8 262,711.5 265.8,712.6 270.2,712.6 274,711.5 276.2,709.6 276.2,707.5 274,705.6 258,697.8" fill="none" stroke="#1b5488" stroke-width="4.00" stroke-linecap="round" stroke-linejoin="round"/>
<polyline points="264,688.9 286.5,700 290,700.9 294,700.9 297.5,699.9 299.5,698.2 299.5,696.3 297.5,694.5 281,686.5" fill="none" stroke="#1b5488" stroke-width="4.00" stroke-linecap="round" stroke-linejoin="round"/>
<polyline points="230,691.9 221,687.5 218.4,685.3 218.4,682.8 221,680.6 225.4,679.4 230.6,679.4 235,680.6 250,688" fill="none" stroke="#1b5488" stroke-width="4.00" stroke-linecap="round" stroke-linejoin="round"/>
<polyline points="240,671.3 262,682.1" fill="none" stroke="#1b5488" stroke-width="4.00" stroke-linecap="round" stroke-linejoin="round"/>
<polyline points="346,752.7 396,777.2 399.8,778.3 404.2,778.3 408,777.2 410.2,775.3 410.2,773.2 408,771.3 364,749.7" fill="none" stroke="#1b5488" stroke-width="4.00" stroke-linecap="round" stroke-linejoin="round"/>
<polyline points="370,740.9 420,765.4 423.8,766.4 428.2,766.4 432,765.4 434.2,763.5 434.2,761.3 432,759.5 388,737.9" fill="none" stroke="#1b5488" stroke-width="4.00" stroke-linecap="round" stroke-linejoin="round"/>
<polyline points="393,729.5 449,757" fill="none" stroke="#1b5488" stroke-width="4.00" stroke-linecap="round" stroke-linejoin="round"/>
<polyline points="410,683.8 360,659.3 357.8,657.5 357.8,655.3 360,653.4 363.8,652.4 368.2,652.4 372,653.4 428,680.9" fill="none" stroke="#1b5488" stroke-width="4.00" stroke-linecap="round" stroke-linejoin="round"/>
<polyline points="283,673.7 360,711.4 363.2,712.3 366.8,712.3 370,711.4 371.8,709.8 371.8,708 370,706.5 299,671.7" fill="none" stroke="#1b5488" stroke-width="4.00" stroke-linecap="round" stroke-linejoin="round"/>
<polyline points="384,647.5 345.5,628.7 343.5,626.9 343.5,625 345.5,623.3 349,622.3 353,622.3 356.5,623.2 401,645" fill="none" stroke="#1b5488" stroke-width="4.00" stroke-linecap="round" stroke-linejoin="round"/>
<polyline points="362,615.1 412,639.6" fill="none" stroke="#1b5488" stroke-width="4.00" stroke-linecap="round" stroke-linejoin="round"/>
<polyline points="402,656.3 452.5,681.1 456,682.1 460,682.1 463.5,681.1 465.5,679.4 465.5,677.4 463.5,675.7 419,653.9" fill="none" stroke="#1b5488" stroke-width="4.00" stroke-linecap="round" stroke-linejoin="round"/>
<polyline points="424,645.5 480,672.9" fill="none" stroke="#1b5488" stroke-width="4.00" stroke-linecap="round" stroke-linejoin="round"/>
<polyline points="229,744.5 249,754.3" fill="none" stroke="#1b5488" stroke-width="4.00" stroke-linecap="round" stroke-linejoin="round"/>
<polyline points="295,712 315,721.8" fill="none" stroke="#1b5488" stroke-width="4.00" stroke-linecap="round" stroke-linejoin="round"/>
<polyline points="272,765.6 290,774.4" fill="none" stroke="#1b5488" stroke-width="4.00" stroke-linecap="round" stroke-linejoin="round"/>
<polyline points="329,729.6 357,743.3" fill="none" stroke="#1b5488" stroke-width="4.00" stroke-linecap="round" stroke-linejoin="round"/>
<polyline points="122,732.3 173,757.3 176.8,758.4 181.2,758.4 185,757.3 187.2,755.4 187.2,753.3 185,751.4 140,729.4" fill="none" stroke="#84958f" stroke-width="1.90" stroke-linecap="round" stroke-linejoin="round"/>
<polyline points="146,720.5 197,745.5 200.8,746.6 205.2,746.6 209,745.5 211.2,743.6 211.2,741.5 209,739.6 164,717.6" fill="none" stroke="#84958f" stroke-width="1.90" stroke-linecap="round" stroke-linejoin="round"/>
<polyline points="169,709.2 226,737.1" fill="none" stroke="#84958f" stroke-width="1.90" stroke-linecap="round" stroke-linejoin="round"/>
<polyline points="307,821 261,798.5 258.8,796.6 258.8,794.5 261,792.6 264.8,791.5 269.2,791.5 273,792.6 325,818.1" fill="none" stroke="#84958f" stroke-width="1.90" stroke-linecap="round" stroke-linejoin="round"/>
<polyline points="331,809.2 284.5,786.4 282.5,784.7 282.5,782.7 284.5,781 288,780 292,780 295.5,781 348,806.7" fill="none" stroke="#84958f" stroke-width="1.90" stroke-linecap="round" stroke-linejoin="round"/>
<polyline points="498,727 452,704.4 449.8,702.6 449.8,700.4 452,698.5 455.8,697.4 460.2,697.4 464,698.5 516,724" fill="none" stroke="#84958f" stroke-width="1.90" stroke-linecap="round" stroke-linejoin="round"/>
<polyline points="522,715.1 475.5,692.4 473.5,690.6 473.5,688.7 475.5,687 479,686 483,686 486.5,686.9 539,712.7" fill="none" stroke="#84958f" stroke-width="1.90" stroke-linecap="round" stroke-linejoin="round"/>
<polyline points="492,678.8 550,707.2" fill="none" stroke="#84958f" stroke-width="1.90" stroke-linecap="round" stroke-linejoin="round"/>
<polyline points="240,700.8 262,711.5 265.8,712.6 270.2,712.6 274,711.5 276.2,709.6 276.2,707.5 274,705.6 258,697.8" fill="none" stroke="#84958f" stroke-width="1.90" stroke-linecap="round" stroke-linejoin="round"/>
<polyline points="264,688.9 286.5,700 290,700.9 294,700.9 297.5,699.9 299.5,698.2 299.5,696.3 297.5,694.5 281,686.5" fill="none" stroke="#84958f" stroke-width="1.90" stroke-linecap="round" stroke-linejoin="round"/>
<polyline points="230,691.9 221,687.5 218.4,685.3 218.4,682.8 221,680.6 225.4,679.4 230.6,679.4 235,680.6 250,688" fill="none" stroke="#84958f" stroke-width="1.90" stroke-linecap="round" stroke-linejoin="round"/>
<polyline points="240,671.3 262,682.1" fill="none" stroke="#84958f" stroke-width="1.90" stroke-linecap="round" stroke-linejoin="round"/>
<polyline points="346,752.7 396,777.2 399.8,778.3 404.2,778.3 408,777.2 410.2,775.3 410.2,773.2 408,771.3 364,749.7" fill="none" stroke="#84958f" stroke-width="1.90" stroke-linecap="round" stroke-linejoin="round"/>
<polyline points="370,740.9 420,765.4 423.8,766.4 428.2,766.4 432,765.4 434.2,763.5 434.2,761.3 432,759.5 388,737.9" fill="none" stroke="#84958f" stroke-width="1.90" stroke-linecap="round" stroke-linejoin="round"/>
<polyline points="393,729.5 449,757" fill="none" stroke="#84958f" stroke-width="1.90" stroke-linecap="round" stroke-linejoin="round"/>
<polyline points="410,683.8 360,659.3 357.8,657.5 357.8,655.3 360,653.4 363.8,652.4 368.2,652.4 372,653.4 428,680.9" fill="none" stroke="#84958f" stroke-width="1.90" stroke-linecap="round" stroke-linejoin="round"/>
<polyline points="283,673.7 360,711.4 363.2,712.3 366.8,712.3 370,711.4 371.8,709.8 371.8,708 370,706.5 299,671.7" fill="none" stroke="#84958f" stroke-width="1.90" stroke-linecap="round" stroke-linejoin="round"/>
<polyline points="384,647.5 345.5,628.7 343.5,626.9 343.5,625 345.5,623.3 349,622.3 353,622.3 356.5,623.2 401,645" fill="none" stroke="#84958f" stroke-width="1.90" stroke-linecap="round" stroke-linejoin="round"/>
<polyline points="362,615.1 412,639.6" fill="none" stroke="#84958f" stroke-width="1.90" stroke-linecap="round" stroke-linejoin="round"/>
<polyline points="402,656.3 452.5,681.1 456,682.1 460,682.1 463.5,681.1 465.5,679.4 465.5,677.4 463.5,675.7 419,653.9" fill="none" stroke="#84958f" stroke-width="1.90" stroke-linecap="round" stroke-linejoin="round"/>
<polyline points="424,645.5 480,672.9" fill="none" stroke="#84958f" stroke-width="1.90" stroke-linecap="round" stroke-linejoin="round"/>
<polyline points="229,744.5 249,754.3" fill="none" stroke="#84958f" stroke-width="1.90" stroke-linecap="round" stroke-linejoin="round"/>
<polyline points="295,712 315,721.8" fill="none" stroke="#84958f" stroke-width="1.90" stroke-linecap="round" stroke-linejoin="round"/>
<polyline points="272,765.6 290,774.4" fill="none" stroke="#84958f" stroke-width="1.90" stroke-linecap="round" stroke-linejoin="round"/>
<polyline points="329,729.6 357,743.3" fill="none" stroke="#84958f" stroke-width="1.90" stroke-linecap="round" stroke-linejoin="round"/>
<polyline points="246,756.8 254,752.8" fill="none" stroke="#1b5488" stroke-width="3.40" stroke-linecap="round" stroke-linejoin="round"/>
<polyline points="246,756.8 254,752.8" fill="none" stroke="#84958f" stroke-width="1.50" stroke-linecap="round" stroke-linejoin="round"/>
<polyline points="256,761.7 264,757.7" fill="none" stroke="#1b5488" stroke-width="3.40" stroke-linecap="round" stroke-linejoin="round"/>
<polyline points="256,761.7 264,757.7" fill="none" stroke="#84958f" stroke-width="1.50" stroke-linecap="round" stroke-linejoin="round"/>
<polyline points="315,726.7 325,721.8" fill="none" stroke="#1b5488" stroke-width="3.40" stroke-linecap="round" stroke-linejoin="round"/>
<polyline points="315,726.7 325,721.8" fill="none" stroke="#84958f" stroke-width="1.50" stroke-linecap="round" stroke-linejoin="round"/>
<polyline points="352,793 380,779.2" fill="none" stroke="#1b5488" stroke-width="3.40" stroke-linecap="round" stroke-linejoin="round"/>
<polyline points="352,793 380,779.2" fill="none" stroke="#84958f" stroke-width="1.50" stroke-linecap="round" stroke-linejoin="round"/>
<polyline points="261,663.9 279,655" fill="none" stroke="#1b5488" stroke-width="3.40" stroke-linecap="round" stroke-linejoin="round"/>
<polyline points="261,663.9 279,655" fill="none" stroke="#84958f" stroke-width="1.50" stroke-linecap="round" stroke-linejoin="round"/>
<polyline points="291,649.1 309,640.2" fill="none" stroke="#1b5488" stroke-width="3.40" stroke-linecap="round" stroke-linejoin="round"/>
<polyline points="291,649.1 309,640.2" fill="none" stroke="#84958f" stroke-width="1.50" stroke-linecap="round" stroke-linejoin="round"/>
<polyline points="323,633.4 341,624.5" fill="none" stroke="#1b5488" stroke-width="3.40" stroke-linecap="round" stroke-linejoin="round"/>
<polyline points="323,633.4 341,624.5" fill="none" stroke="#84958f" stroke-width="1.50" stroke-linecap="round" stroke-linejoin="round"/>
<polyline points="351,619.6 365,612.7" fill="none" stroke="#1b5488" stroke-width="3.40" stroke-linecap="round" stroke-linejoin="round"/>
<polyline points="351,619.6 365,612.7" fill="none" stroke="#84958f" stroke-width="1.50" stroke-linecap="round" stroke-linejoin="round"/>
<polyline points="408,733 418,728" fill="none" stroke="#1b5488" stroke-width="3.40" stroke-linecap="round" stroke-linejoin="round"/>
<polyline points="408,733 418,728" fill="none" stroke="#84958f" stroke-width="1.50" stroke-linecap="round" stroke-linejoin="round"/>
<polyline points="444,750.6 454,745.7" fill="none" stroke="#1b5488" stroke-width="3.40" stroke-linecap="round" stroke-linejoin="round"/>
<polyline points="444,750.6 454,745.7" fill="none" stroke="#84958f" stroke-width="1.50" stroke-linecap="round" stroke-linejoin="round"/>
<polyline points="155,773.1 127,786.9" fill="none" stroke="#1b5488" stroke-width="3.40" stroke-linecap="round" stroke-linejoin="round"/>
<polyline points="155,773.1 127,786.9" fill="none" stroke="#84958f" stroke-width="1.50" stroke-linecap="round" stroke-linejoin="round"/>
<polyline points="202,822.6 199,826.1" fill="none" stroke="#1b5488" stroke-width="3.40" stroke-linecap="round" stroke-linejoin="round"/>
<polyline points="202,822.6 199,826.1" fill="none" stroke="#84958f" stroke-width="1.50" stroke-linecap="round" stroke-linejoin="round"/>
<polyline points="208,775.5 226,774.5" fill="none" stroke="#1b5488" stroke-width="3.40" stroke-linecap="round" stroke-linejoin="round"/>
<polyline points="208,775.5 226,774.5" fill="none" stroke="#84958f" stroke-width="1.50" stroke-linecap="round" stroke-linejoin="round"/>
<text x="6" y="850.3" font-size="19.5" fill="#ee1c24" font-weight="bold" font-family="&quot;Liberation Sans&quot;, sans-serif" text-anchor="start" textLength="56" lengthAdjust="spacingAndGlyphs" stroke="#ee1c24" stroke-width="0.45">Outlet</text>
<text x="89.5" y="879.3" font-size="19.5" fill="#22a7e0" font-weight="bold" font-family="&quot;Liberation Sans&quot;, sans-serif" text-anchor="start" textLength="39.5" lengthAdjust="spacingAndGlyphs" stroke="#22a7e0" stroke-width="0.45">Inlet</text>
<text x="32" y="966" font-size="19.5" fill="#e07a1f" font-weight="bold" font-family="&quot;Liberation Serif&quot;, serif" text-anchor="start" textLength="70" lengthAdjust="spacingAndGlyphs">Air Inlet</text>
<text x="642" y="778" font-size="19.5" fill="#e07a1f" font-weight="bold" font-family="&quot;Liberation Serif&quot;, serif" text-anchor="start" textLength="83.5" lengthAdjust="spacingAndGlyphs">Air Outlet</text>
<text x="485" y="940" font-size="24" fill="#111" font-weight="bold" font-family="&quot;Liberation Sans&quot;, sans-serif" text-anchor="start" textLength="164.5" lengthAdjust="spacingAndGlyphs" stroke="#111" stroke-width="0.45">Vehicle Frame</text>
<text x="365" y="1058" font-size="34" fill="#111" font-weight="normal" font-family="&quot;Liberation Serif&quot;, serif" text-anchor="middle">(b)</text>
<polyline points="484,915.5 431.1,886.4" fill="none" stroke="#111" stroke-width="0.90" stroke-linecap="butt" stroke-linejoin="round"/>
<polygon points="425,883 432.4,884.1 429.9,888.7" fill="#111"/>
<polygon points="102.4,809.1 75,822.4 73,818.2 65,831.5 80.4,833.4 78.3,829.2 105.6,815.9" fill="#ee1c24"/>
<polygon points="140.5,871 165.7,858.3 167.6,862.1 175,850 160.9,848.7 162.8,852.4 137.5,865" fill="#22a7e0"/>
<polygon points="615.5,808.8 640.9,795.4 642.9,799.2 650,787 635.9,786 637.9,789.8 612.5,803.2" fill="#e8761a"/>
<path d="M0,0 H53 a8,8 0 1 0 -6.55,-3.41 M8.7,-5.8 H31.5 a6.8,6.8 0 1 0 -5.57,-2.9 M8.8,5.8 H40.7 a6.8,6.8 0 1 1 -5.57,2.9" fill="none" stroke="#2bb6e2" stroke-width="2.58" stroke-linecap="round" transform="translate(49.3 928.6) rotate(-29.4) scale(0.970)"/>
<path d="M0,0 H53 a8,8 0 1 0 -6.55,-3.41 M8.7,-5.8 H31.5 a6.8,6.8 0 1 0 -5.57,-2.9 M8.8,5.8 H40.7 a6.8,6.8 0 1 1 -5.57,2.9" fill="none" stroke="#2bb6e2" stroke-width="2.58" stroke-linecap="round" transform="translate(118.4 959.8) rotate(-29.4) scale(0.970)"/>
<g>
<polygon points="391,83.5 391.9,73.8 393.8,63.8 396.7,54 400.6,44.5 405.3,35.5 410.8,27.4 416.8,20.1 423.3,14.1 430.1,9.3 437,6 443.9,4.2 450.5,3.9 456.8,5.2 487.8,17.2 493.5,19.9 498.5,24.2 502.8,29.8 506.1,36.6 508.5,44.5 509.8,53.2 510,62.5 509.1,72.2 507.2,82.2 504.3,92 500.4,101.5 495.7,110.5 490.2,118.7 484.2,125.9 477.7,131.9 470.9,136.7 464,140 457.1,141.8 450.5,142.1 444.2,140.8 413.2,128.8 407.5,126 402.5,121.8 398.2,116.2 394.9,109.4 392.5,101.5 391.2,92.8" fill="#2f2f2f" stroke="#0c0c0c" stroke-width="0.70" stroke-linejoin="round"/>
<polyline points="427.7,129.6 433.7,134.2" fill="none" stroke="#090909" stroke-width="1.30" stroke-linecap="butt" stroke-linejoin="round" opacity="0.9"/>
<polyline points="443,137.8 457.4,141.1" fill="none" stroke="#090909" stroke-width="1.30" stroke-linecap="butt" stroke-linejoin="round" opacity="0.9"/>
<polyline points="435.7,134.7 442.5,137.3" fill="none" stroke="#121212" stroke-width="0.70" stroke-linecap="butt" stroke-linejoin="round" opacity="0.7"/>
<polyline points="422.7,130.2 428.9,134.1" fill="none" stroke="#090909" stroke-width="1.30" stroke-linecap="butt" stroke-linejoin="round" opacity="0.9"/>
<polyline points="438.2,137.7 452.5,141.7" fill="none" stroke="#090909" stroke-width="1.30" stroke-linecap="butt" stroke-linejoin="round" opacity="0.9"/>
<polyline points="430.8,134.6 437.7,137.3" fill="none" stroke="#121212" stroke-width="0.70" stroke-linecap="butt" stroke-linejoin="round" opacity="0.7"/>
<polyline points="417.9,129.9 424.3,133.1" fill="none" stroke="#090909" stroke-width="1.30" stroke-linecap="butt" stroke-linejoin="round" opacity="0.9"/>
<polyline points="433.6,136.7 447.7,141.5" fill="none" stroke="#090909" stroke-width="1.30" stroke-linecap="butt" stroke-linejoin="round" opacity="0.9"/>
<polyline points="426.2,133.8 433,136.4" fill="none" stroke="#121212" stroke-width="0.70" stroke-linecap="butt" stroke-linejoin="round" opacity="0.7"/>
<polyline points="413.3,128.9 420,131.3" fill="none" stroke="#090909" stroke-width="1.30" stroke-linecap="butt" stroke-linejoin="round" opacity="0.9"/>
<polyline points="429.3,134.9 443.1,140.4" fill="none" stroke="#090909" stroke-width="1.30" stroke-linecap="butt" stroke-linejoin="round" opacity="0.9"/>
<polyline points="421.9,132.1 428.7,134.7" fill="none" stroke="#121212" stroke-width="0.70" stroke-linecap="butt" stroke-linejoin="round" opacity="0.7"/>
<polyline points="409.1,127 416,128.7" fill="none" stroke="#090909" stroke-width="1.30" stroke-linecap="butt" stroke-linejoin="round" opacity="0.9"/>
<polyline points="425.3,132.3 438.8,138.5" fill="none" stroke="#090909" stroke-width="1.30" stroke-linecap="butt" stroke-linejoin="round" opacity="0.9"/>
<polyline points="417.8,129.6 424.7,132.2" fill="none" stroke="#121212" stroke-width="0.70" stroke-linecap="butt" stroke-linejoin="round" opacity="0.7"/>
<polyline points="405.1,124.3 412.4,125.3" fill="none" stroke="#090909" stroke-width="1.30" stroke-linecap="butt" stroke-linejoin="round" opacity="0.9"/>
<polyline points="421.7,128.9 434.9,135.8" fill="none" stroke="#090909" stroke-width="1.30" stroke-linecap="butt" stroke-linejoin="round" opacity="0.9"/>
<polyline points="414.2,126.3 421,128.9" fill="none" stroke="#121212" stroke-width="0.70" stroke-linecap="butt" stroke-linejoin="round" opacity="0.7"/>
<polyline points="401.6,120.8 409.3,121.2" fill="none" stroke="#090909" stroke-width="1.30" stroke-linecap="butt" stroke-linejoin="round" opacity="0.9"/>
<polyline points="418.6,124.8 431.4,132.3" fill="none" stroke="#090909" stroke-width="1.30" stroke-linecap="butt" stroke-linejoin="round" opacity="0.9"/>
<polyline points="411,122.3 417.8,124.9" fill="none" stroke="#121212" stroke-width="0.70" stroke-linecap="butt" stroke-linejoin="round" opacity="0.7"/>
<polyline points="398.5,116.7 406.7,116.4" fill="none" stroke="#090909" stroke-width="1.30" stroke-linecap="butt" stroke-linejoin="round" opacity="0.9"/>
<polyline points="416,120 428.3,128.2" fill="none" stroke="#090909" stroke-width="1.30" stroke-linecap="butt" stroke-linejoin="round" opacity="0.9"/>
<polyline points="408.3,117.6 415.1,120.3" fill="none" stroke="#121212" stroke-width="0.70" stroke-linecap="butt" stroke-linejoin="round" opacity="0.7"/>
<polyline points="395.9,111.8 404.5,111" fill="none" stroke="#090909" stroke-width="1.30" stroke-linecap="butt" stroke-linejoin="round" opacity="0.9"/>
<polyline points="413.8,114.6 425.7,123.3" fill="none" stroke="#090909" stroke-width="1.30" stroke-linecap="butt" stroke-linejoin="round" opacity="0.9"/>
<polyline points="406.1,112.3 412.9,115" fill="none" stroke="#121212" stroke-width="0.70" stroke-linecap="butt" stroke-linejoin="round" opacity="0.7"/>
<polyline points="393.8,106.4 403,105.1" fill="none" stroke="#090909" stroke-width="1.30" stroke-linecap="butt" stroke-linejoin="round" opacity="0.9"/>
<polyline points="412.3,108.7 423.6,117.9" fill="none" stroke="#090909" stroke-width="1.30" stroke-linecap="butt" stroke-linejoin="round" opacity="0.9"/>
<polyline points="404.4,106.5 411.2,109.1" fill="none" stroke="#121212" stroke-width="0.70" stroke-linecap="butt" stroke-linejoin="round" opacity="0.7"/>
<polyline points="392.3,100.4 401.9,98.7" fill="none" stroke="#090909" stroke-width="1.30" stroke-linecap="butt" stroke-linejoin="round" opacity="0.9"/>
<polyline points="411.2,102.3 422.1,111.9" fill="none" stroke="#090909" stroke-width="1.30" stroke-linecap="butt" stroke-linejoin="round" opacity="0.9"/>
<polyline points="403.3,100.2 410.1,102.8" fill="none" stroke="#121212" stroke-width="0.70" stroke-linecap="butt" stroke-linejoin="round" opacity="0.7"/>
<polyline points="391.3,94 401.5,92" fill="none" stroke="#090909" stroke-width="1.30" stroke-linecap="butt" stroke-linejoin="round" opacity="0.9"/>
<polyline points="410.8,95.6 421.1,105.5" fill="none" stroke="#090909" stroke-width="1.30" stroke-linecap="butt" stroke-linejoin="round" opacity="0.9"/>
<polyline points="402.8,93.5 409.6,96.1" fill="none" stroke="#121212" stroke-width="0.70" stroke-linecap="butt" stroke-linejoin="round" opacity="0.7"/>
<polyline points="391,87.2 401.7,85" fill="none" stroke="#090909" stroke-width="1.30" stroke-linecap="butt" stroke-linejoin="round" opacity="0.9"/>
<polyline points="411,88.6 420.7,98.8" fill="none" stroke="#090909" stroke-width="1.30" stroke-linecap="butt" stroke-linejoin="round" opacity="0.9"/>
<polyline points="402.8,86.5 409.7,89.2" fill="none" stroke="#121212" stroke-width="0.70" stroke-linecap="butt" stroke-linejoin="round" opacity="0.7"/>
<polyline points="391.2,80.2 402.4,77.8" fill="none" stroke="#090909" stroke-width="1.30" stroke-linecap="butt" stroke-linejoin="round" opacity="0.9"/>
<polyline points="411.7,81.4 420.9,91.7" fill="none" stroke="#090909" stroke-width="1.30" stroke-linecap="butt" stroke-linejoin="round" opacity="0.9"/>
<polyline points="403.5,79.3 410.3,82" fill="none" stroke="#121212" stroke-width="0.70" stroke-linecap="butt" stroke-linejoin="round" opacity="0.7"/>
<polyline points="392,73 403.7,70.5" fill="none" stroke="#090909" stroke-width="1.30" stroke-linecap="butt" stroke-linejoin="round" opacity="0.9"/>
<polyline points="413,74.1 421.7,84.5" fill="none" stroke="#090909" stroke-width="1.30" stroke-linecap="butt" stroke-linejoin="round" opacity="0.9"/>
<polyline points="404.7,72.1 411.5,74.7" fill="none" stroke="#121212" stroke-width="0.70" stroke-linecap="butt" stroke-linejoin="round" opacity="0.7"/>
<polyline points="393.3,65.7 405.6,63.2" fill="none" stroke="#090909" stroke-width="1.30" stroke-linecap="butt" stroke-linejoin="round" opacity="0.9"/>
<polyline points="414.9,66.8 423.1,77.2" fill="none" stroke="#090909" stroke-width="1.30" stroke-linecap="butt" stroke-linejoin="round" opacity="0.9"/>
<polyline points="406.5,64.8 413.3,67.4" fill="none" stroke="#121212" stroke-width="0.70" stroke-linecap="butt" stroke-linejoin="round" opacity="0.7"/>
<polyline points="395.3,58.4 408,56" fill="none" stroke="#090909" stroke-width="1.30" stroke-linecap="butt" stroke-linejoin="round" opacity="0.9"/>
<polyline points="417.3,59.6 425,69.9" fill="none" stroke="#090909" stroke-width="1.30" stroke-linecap="butt" stroke-linejoin="round" opacity="0.9"/>
<polyline points="408.8,57.6 415.7,60.2" fill="none" stroke="#121212" stroke-width="0.70" stroke-linecap="butt" stroke-linejoin="round" opacity="0.7"/>
<polyline points="397.7,51.3 410.9,49" fill="none" stroke="#090909" stroke-width="1.30" stroke-linecap="butt" stroke-linejoin="round" opacity="0.9"/>
<polyline points="420.2,52.6 427.5,62.8" fill="none" stroke="#090909" stroke-width="1.30" stroke-linecap="butt" stroke-linejoin="round" opacity="0.9"/>
<polyline points="411.7,50.6 418.5,53.2" fill="none" stroke="#121212" stroke-width="0.70" stroke-linecap="butt" stroke-linejoin="round" opacity="0.7"/>
<polyline points="400.7,44.3 414.3,42.4" fill="none" stroke="#090909" stroke-width="1.30" stroke-linecap="butt" stroke-linejoin="round" opacity="0.9"/>
<polyline points="423.6,46 430.4,55.8" fill="none" stroke="#090909" stroke-width="1.30" stroke-linecap="butt" stroke-linejoin="round" opacity="0.9"/>
<polyline points="415,43.8 421.8,46.5" fill="none" stroke="#121212" stroke-width="0.70" stroke-linecap="butt" stroke-linejoin="round" opacity="0.7"/>
<polyline points="404.1,37.7 418.1,36.1" fill="none" stroke="#090909" stroke-width="1.30" stroke-linecap="butt" stroke-linejoin="round" opacity="0.9"/>
<polyline points="427.4,39.7 433.8,49.2" fill="none" stroke="#090909" stroke-width="1.30" stroke-linecap="butt" stroke-linejoin="round" opacity="0.9"/>
<polyline points="418.7,37.5 425.5,40.1" fill="none" stroke="#121212" stroke-width="0.70" stroke-linecap="butt" stroke-linejoin="round" opacity="0.7"/>
<polyline points="407.9,31.4 422.2,30.2" fill="none" stroke="#090909" stroke-width="1.30" stroke-linecap="butt" stroke-linejoin="round" opacity="0.9"/>
<polyline points="431.5,33.8 437.7,42.9" fill="none" stroke="#090909" stroke-width="1.30" stroke-linecap="butt" stroke-linejoin="round" opacity="0.9"/>
<polyline points="422.8,31.6 429.6,34.2" fill="none" stroke="#121212" stroke-width="0.70" stroke-linecap="butt" stroke-linejoin="round" opacity="0.7"/>
<polyline points="412.1,25.6 426.7,24.9" fill="none" stroke="#090909" stroke-width="1.30" stroke-linecap="butt" stroke-linejoin="round" opacity="0.9"/>
<polyline points="436,28.5 441.8,37.1" fill="none" stroke="#090909" stroke-width="1.30" stroke-linecap="butt" stroke-linejoin="round" opacity="0.9"/>
<polyline points="427.2,26.2 434,28.8" fill="none" stroke="#121212" stroke-width="0.70" stroke-linecap="butt" stroke-linejoin="round" opacity="0.7"/>
<polyline points="416.6,20.4 431.4,20.3" fill="none" stroke="#090909" stroke-width="1.30" stroke-linecap="butt" stroke-linejoin="round" opacity="0.9"/>
<polyline points="440.7,23.9 446.3,31.9" fill="none" stroke="#090909" stroke-width="1.30" stroke-linecap="butt" stroke-linejoin="round" opacity="0.9"/>
<polyline points="431.9,21.4 438.7,24.1" fill="none" stroke="#121212" stroke-width="0.70" stroke-linecap="butt" stroke-linejoin="round" opacity="0.7"/>
<polyline points="421.3,15.8 436.3,16.3" fill="none" stroke="#090909" stroke-width="1.30" stroke-linecap="butt" stroke-linejoin="round" opacity="0.9"/>
<polyline points="445.6,19.9 451.1,27.3" fill="none" stroke="#090909" stroke-width="1.30" stroke-linecap="butt" stroke-linejoin="round" opacity="0.9"/>
<polyline points="436.8,17.3 443.6,20" fill="none" stroke="#121212" stroke-width="0.70" stroke-linecap="butt" stroke-linejoin="round" opacity="0.7"/>
<polyline points="426.2,11.9 441.3,13" fill="none" stroke="#090909" stroke-width="1.30" stroke-linecap="butt" stroke-linejoin="round" opacity="0.9"/>
<polyline points="450.6,16.6 456,23.4" fill="none" stroke="#090909" stroke-width="1.30" stroke-linecap="butt" stroke-linejoin="round" opacity="0.9"/>
<polyline points="441.8,13.9 448.6,16.6" fill="none" stroke="#121212" stroke-width="0.70" stroke-linecap="butt" stroke-linejoin="round" opacity="0.7"/>
<polyline points="431.3,8.7 446.4,10.5" fill="none" stroke="#090909" stroke-width="1.30" stroke-linecap="butt" stroke-linejoin="round" opacity="0.9"/>
<polyline points="455.7,14.1 461,20.2" fill="none" stroke="#090909" stroke-width="1.30" stroke-linecap="butt" stroke-linejoin="round" opacity="0.9"/>
<polyline points="446.9,11.3 453.7,14" fill="none" stroke="#121212" stroke-width="0.70" stroke-linecap="butt" stroke-linejoin="round" opacity="0.7"/>
<polyline points="436.3,6.3 451.5,8.8" fill="none" stroke="#090909" stroke-width="1.30" stroke-linecap="butt" stroke-linejoin="round" opacity="0.9"/>
<polyline points="460.8,12.4 466.1,17.8" fill="none" stroke="#090909" stroke-width="1.30" stroke-linecap="butt" stroke-linejoin="round" opacity="0.9"/>
<polyline points="451.9,9.5 458.8,12.2" fill="none" stroke="#121212" stroke-width="0.70" stroke-linecap="butt" stroke-linejoin="round" opacity="0.7"/>
<polyline points="441.4,4.7 456.5,8" fill="none" stroke="#090909" stroke-width="1.30" stroke-linecap="butt" stroke-linejoin="round" opacity="0.9"/>
<polyline points="465.8,11.6 471.2,16.2" fill="none" stroke="#090909" stroke-width="1.30" stroke-linecap="butt" stroke-linejoin="round" opacity="0.9"/>
<polyline points="457,8.6 463.8,11.2" fill="none" stroke="#121212" stroke-width="0.70" stroke-linecap="butt" stroke-linejoin="round" opacity="0.7"/>
<polyline points="446.4,3.9 461.3,8" fill="none" stroke="#090909" stroke-width="1.30" stroke-linecap="butt" stroke-linejoin="round" opacity="0.9"/>
<polyline points="470.6,11.6 476.1,15.4" fill="none" stroke="#090909" stroke-width="1.30" stroke-linecap="butt" stroke-linejoin="round" opacity="0.9"/>
<polyline points="461.8,8.4 468.7,11.1" fill="none" stroke="#121212" stroke-width="0.70" stroke-linecap="butt" stroke-linejoin="round" opacity="0.7"/>
<polyline points="451.2,4 465.9,8.8" fill="none" stroke="#090909" stroke-width="1.30" stroke-linecap="butt" stroke-linejoin="round" opacity="0.9"/>
<polyline points="475.2,12.4 481,15.5" fill="none" stroke="#090909" stroke-width="1.30" stroke-linecap="butt" stroke-linejoin="round" opacity="0.9"/>
<polyline points="466.5,9.1 473.3,11.8" fill="none" stroke="#121212" stroke-width="0.70" stroke-linecap="butt" stroke-linejoin="round" opacity="0.7"/>
<polyline points="450.7,136 446.3,137.1 442,137.6 437.9,137.5 433.9,136.7 430.1,135.3 426.5,133.4 423.3,130.8 420.3,127.7 417.7,124 415.4,119.8 413.5,115.2 412,110.2 411,104.8 410.4,99.2 410.2,93.2 410.4,87.1 411.1,80.9 412.2,74.6 413.8,68.3 415.7,62 418,55.9 420.7,50 423.7,44.3 427.1,38.9 430.7,33.9 434.5,29.3 438.5,25.1 442.7,21.4 447,18.2 451.4,15.6 455.8,13.6 460.1,12.2 464.5,11.4 468.7,11.3 472.8,11.7 476.6,12.8" fill="none" stroke="#070707" stroke-width="1.50" stroke-linecap="butt" stroke-linejoin="round" opacity="0.9"/>
<polyline points="442.6,132.9 438.3,134 434,134.5 429.8,134.4 425.8,133.6 422,132.2 418.5,130.2 415.2,127.7 412.2,124.5 409.6,120.9 407.3,116.7 405.5,112.1 404,107.1 402.9,101.7 402.3,96 402.1,90.1 402.4,84 403.1,77.8 404.2,71.5 405.7,65.2 407.7,58.9 410,52.8 412.7,46.9 415.7,41.2 419,35.8 422.6,30.8 426.4,26.1 430.4,22 434.6,18.3 438.9,15.1 443.3,12.5 447.7,10.5 452.1,9.1 456.4,8.3 460.6,8.1 464.7,8.6 468.6,9.7" fill="none" stroke="#070707" stroke-width="1.50" stroke-linecap="butt" stroke-linejoin="round" opacity="0.9"/>
<polyline points="446.7,134.4 442.3,135.5 438,136 433.9,135.9 429.9,135.2 426.1,133.8 422.5,131.8 419.2,129.2 416.3,126.1 413.6,122.4 411.4,118.3 409.5,113.7 408,108.6 407,103.3 406.3,97.6 406.1,91.7 406.4,85.6 407.1,79.3 408.2,73 409.7,66.7 411.7,60.5 414,54.4 416.7,48.4 419.7,42.8 423,37.4 426.6,32.3 430.5,27.7 434.5,23.5 438.7,19.8 443,16.7 447.3,14.1 451.7,12.1 456.1,10.7 460.4,9.9 464.6,9.7 468.7,10.2 472.6,11.3" fill="none" stroke="#474747" stroke-width="0.90" stroke-linecap="butt" stroke-linejoin="round" opacity="0.9"/>
<polyline points="436.1,130.3 431.8,131.5 427.5,132 423.3,131.8 419.3,131.1 415.5,129.7 412,127.7 408.7,125.1 405.7,122 403.1,118.3 400.8,114.2 398.9,109.6 397.5,104.6 396.4,99.2 395.8,93.5 395.6,87.6 395.9,81.5 396.5,75.2 397.7,68.9 399.2,62.6 401.1,56.4 403.5,50.3 406.2,44.4 409.2,38.7 412.5,33.3 416.1,28.2 419.9,23.6 423.9,19.4 428.1,15.8 432.4,12.6 436.8,10 441.2,8 445.6,6.6 449.9,5.8 454.1,5.6 458.2,6.1 462.1,7.2" fill="none" stroke="#444" stroke-width="0.70" stroke-linecap="butt" stroke-linejoin="round" opacity="0.9"/>
<polyline points="457.5,138.6 453.1,139.7 448.9,140.2 444.7,140.1 440.7,139.4 436.9,138 433.4,136 430.1,133.4 427.1,130.3 424.5,126.6 422.2,122.5 420.3,117.9 418.9,112.8 417.8,107.5 417.2,101.8 417,95.9 417.2,89.8 417.9,83.5 419.1,77.2 420.6,70.9 422.5,64.7 424.9,58.6 427.5,52.6 430.6,47 433.9,41.6 437.5,36.5 441.3,31.9 445.3,27.7 449.5,24 453.8,20.9 458.2,18.3 462.6,16.3 467,14.9 471.3,14.1 475.5,13.9 479.6,14.4 483.5,15.5" fill="none" stroke="#444" stroke-width="0.70" stroke-linecap="butt" stroke-linejoin="round" opacity="0.9"/>
<polygon points="510,62.5 509.1,72.2 507.2,82.2 504.3,92 500.4,101.5 495.7,110.5 490.2,118.7 484.2,125.9 477.7,131.9 470.9,136.7 464,140 457.1,141.8 450.5,142.1 444.2,140.8 438.5,138 433.5,133.8 429.2,128.2 425.9,121.4 423.5,113.5 422.2,104.8 422,95.5 422.9,85.8 424.8,75.8 427.7,66 431.6,56.5 436.3,47.5 441.8,39.3 447.8,32.1 454.3,26.1 461.1,21.3 468,18 474.9,16.2 481.5,15.9 487.8,17.2 493.5,20 498.5,24.2 502.8,29.8 506.1,36.6 508.5,44.5 509.8,53.2 510,62.5" fill="#2c2c2c" stroke="#505050" stroke-width="0.90" stroke-linejoin="round"/>
<polygon points="507.8,63.3 507,72.6 505.2,82 502.4,91.3 498.7,100.4 494.2,108.9 489,116.7 483.3,123.5 477.1,129.3 470.7,133.8 464.1,136.9 457.6,138.7 451.3,139 445.3,137.8 439.9,135.1 435.1,131.1 431.1,125.7 427.9,119.3 425.7,111.8 424.4,103.5 424.2,94.7 425,85.4 426.8,76 429.6,66.7 433.3,57.6 437.8,49.1 443,41.3 448.7,34.5 454.9,28.7 461.3,24.2 467.9,21.1 474.4,19.3 480.7,19 486.7,20.2 492.1,22.9 496.9,26.9 500.9,32.3 504.1,38.7 506.3,46.2 507.6,54.5 507.8,63.3" fill="#242424" stroke="#0e0e0e" stroke-width="0.60" stroke-linejoin="round"/>
</g>
<polygon points="502.1,65.5 501.4,73.5 499.8,81.6 497.4,89.7 494.2,97.5 490.4,104.8 485.9,111.5 480.9,117.4 475.6,122.4 470,126.3 464.4,129 458.7,130.5 453.3,130.8 448.2,129.7 443.5,127.4 439.3,123.9 435.8,119.3 433.1,113.8 431.2,107.3 430.1,100.2 429.9,92.5 430.6,84.5 432.2,76.4 434.6,68.3 437.8,60.5 441.6,53.2 446.1,46.5 451.1,40.6 456.4,35.6 462,31.7 467.6,29 473.3,27.5 478.7,27.2 483.8,28.3 488.5,30.6 492.7,34.1 496.2,38.7 498.9,44.2 500.8,50.7 501.9,57.8 502.1,65.5" fill="#1a1a1a"/>
<polygon points="489.4,42 510.6,42 510.6,84 489.4,84" fill="#3a1a1a"/>
<polyline points="481,42 481.2,40.8 481.9,39.7 483.1,38.5 484.6,37.5 486.6,36.6 488.8,35.9 491.4,35.2 494.1,34.8 497,34.5 500,34.4 503,34.5 505.9,34.8 508.6,35.2 511.2,35.9 513.4,36.6 515.4,37.5 516.9,38.5 518.1,39.7 518.8,40.8 519,42" fill="none" stroke="#8f1414" stroke-width="3.00" stroke-linecap="butt" stroke-linejoin="round"/>
<polyline points="481,49 481.2,47.8 481.9,46.7 483.1,45.5 484.6,44.5 486.6,43.6 488.8,42.9 491.4,42.2 494.1,41.8 497,41.5 500,41.4 503,41.5 505.9,41.8 508.6,42.2 511.2,42.9 513.4,43.6 515.4,44.5 516.9,45.5 518.1,46.7 518.8,47.8 519,49" fill="none" stroke="#8f1414" stroke-width="3.00" stroke-linecap="butt" stroke-linejoin="round"/>
<polyline points="481,56 481.2,54.8 481.9,53.7 483.1,52.5 484.6,51.5 486.6,50.6 488.8,49.9 491.4,49.2 494.1,48.8 497,48.5 500,48.4 503,48.5 505.9,48.8 508.6,49.2 511.2,49.9 513.4,50.6 515.4,51.5 516.9,52.5 518.1,53.7 518.8,54.8 519,56" fill="none" stroke="#8f1414" stroke-width="3.00" stroke-linecap="butt" stroke-linejoin="round"/>
<polyline points="481,63 481.2,61.8 481.9,60.7 483.1,59.5 484.6,58.5 486.6,57.6 488.8,56.9 491.4,56.2 494.1,55.8 497,55.5 500,55.4 503,55.5 505.9,55.8 508.6,56.2 511.2,56.9 513.4,57.6 515.4,58.5 516.9,59.5 518.1,60.7 518.8,61.8 519,63" fill="none" stroke="#8f1414" stroke-width="3.00" stroke-linecap="butt" stroke-linejoin="round"/>
<polyline points="481,70 481.2,68.8 481.9,67.7 483.1,66.5 484.6,65.5 486.6,64.6 488.8,63.9 491.4,63.2 494.1,62.8 497,62.5 500,62.4 503,62.5 505.9,62.8 508.6,63.2 511.2,63.9 513.4,64.6 515.4,65.5 516.9,66.5 518.1,67.7 518.8,68.8 519,70" fill="none" stroke="#8f1414" stroke-width="3.00" stroke-linecap="butt" stroke-linejoin="round"/>
<polyline points="481,77 481.2,75.8 481.9,74.7 483.1,73.5 484.6,72.5 486.6,71.6 488.8,70.9 491.4,70.2 494.1,69.8 497,69.5 500,69.4 503,69.5 505.9,69.8 508.6,70.2 511.2,70.9 513.4,71.6 515.4,72.5 516.9,73.5 518.1,74.7 518.8,75.8 519,77" fill="none" stroke="#8f1414" stroke-width="3.00" stroke-linecap="butt" stroke-linejoin="round"/>
<polyline points="481,84 481.2,82.8 481.9,81.7 483.1,80.5 484.6,79.5 486.6,78.6 488.8,77.9 491.4,77.2 494.1,76.8 497,76.5 500,76.4 503,76.5 505.9,76.8 508.6,77.2 511.2,77.9 513.4,78.6 515.4,79.5 516.9,80.5 518.1,81.7 518.8,82.8 519,84" fill="none" stroke="#8f1414" stroke-width="3.00" stroke-linecap="butt" stroke-linejoin="round"/>
<polyline points="518.9,43.2 518.8,44.4 518.2,45.6 517.2,46.8 515.8,48 513.9,49.1 511.7,50.1 509.3,51 506.6,51.7 503.7,52.3 500.8,52.7 497.8,52.9 494.9,53 492.1,52.8 489.5,52.4 487.2,51.9 485.2,51.2 483.5,50.4 482.3,49.4 481.5,48.3 481.1,47.1" fill="none" stroke="#d3211f" stroke-width="3.80" stroke-linecap="butt" stroke-linejoin="round"/>
<polyline points="516.8,46.4 515,47.7 512.8,48.9 510.1,49.9 507.2,50.8 504.1,51.4 500.8,51.9 497.5,52.1 494.3,52.1 491.2,51.9 488.5,51.4 486,50.7 484,49.8" fill="none" stroke="#ef5a50" stroke-width="0.80" stroke-linecap="butt" stroke-linejoin="round"/>
<polyline points="518.9,50.2 518.8,51.4 518.2,52.6 517.2,53.8 515.8,55 513.9,56.1 511.7,57.1 509.3,58 506.6,58.7 503.7,59.3 500.8,59.7 497.8,59.9 494.9,60 492.1,59.8 489.5,59.4 487.2,58.9 485.2,58.2 483.5,57.4 482.3,56.4 481.5,55.3 481.1,54.1" fill="none" stroke="#d3211f" stroke-width="3.80" stroke-linecap="butt" stroke-linejoin="round"/>
<polyline points="516.8,53.4 515,54.7 512.8,55.9 510.1,56.9 507.2,57.8 504.1,58.4 500.8,58.9 497.5,59.1 494.3,59.1 491.2,58.9 488.5,58.4 486,57.7 484,56.8" fill="none" stroke="#ef5a50" stroke-width="0.80" stroke-linecap="butt" stroke-linejoin="round"/>
<polyline points="518.9,57.2 518.8,58.4 518.2,59.6 517.2,60.8 515.8,62 513.9,63.1 511.7,64.1 509.3,65 506.6,65.7 503.7,66.3 500.8,66.7 497.8,66.9 494.9,67 492.1,66.8 489.5,66.4 487.2,65.9 485.2,65.2 483.5,64.4 482.3,63.4 481.5,62.3 481.1,61.1" fill="none" stroke="#d3211f" stroke-width="3.80" stroke-linecap="butt" stroke-linejoin="round"/>
<polyline points="516.8,60.4 515,61.7 512.8,62.9 510.1,63.9 507.2,64.8 504.1,65.4 500.8,65.9 497.5,66.1 494.3,66.1 491.2,65.9 488.5,65.4 486,64.7 484,63.8" fill="none" stroke="#ef5a50" stroke-width="0.80" stroke-linecap="butt" stroke-linejoin="round"/>
<polyline points="518.9,64.2 518.8,65.4 518.2,66.6 517.2,67.8 515.8,69 513.9,70.1 511.7,71.1 509.3,72 506.6,72.7 503.7,73.3 500.8,73.7 497.8,73.9 494.9,74 492.1,73.8 489.5,73.4 487.2,72.9 485.2,72.2 483.5,71.4 482.3,70.4 481.5,69.3 481.1,68.1" fill="none" stroke="#d3211f" stroke-width="3.80" stroke-linecap="butt" stroke-linejoin="round"/>
<polyline points="516.8,67.4 515,68.7 512.8,69.9 510.1,70.9 507.2,71.8 504.1,72.4 500.8,72.9 497.5,73.1 494.3,73.1 491.2,72.9 488.5,72.4 486,71.7 484,70.8" fill="none" stroke="#ef5a50" stroke-width="0.80" stroke-linecap="butt" stroke-linejoin="round"/>
<polyline points="518.9,71.2 518.8,72.4 518.2,73.6 517.2,74.8 515.8,76 513.9,77.1 511.7,78.1 509.3,79 506.6,79.7 503.7,80.3 500.8,80.7 497.8,80.9 494.9,81 492.1,80.8 489.5,80.4 487.2,79.9 485.2,79.2 483.5,78.4 482.3,77.4 481.5,76.3 481.1,75.1" fill="none" stroke="#d3211f" stroke-width="3.80" stroke-linecap="butt" stroke-linejoin="round"/>
<polyline points="516.8,74.4 515,75.7 512.8,76.9 510.1,77.9 507.2,78.8 504.1,79.4 500.8,79.9 497.5,80.1 494.3,80.1 491.2,79.9 488.5,79.4 486,78.7 484,77.8" fill="none" stroke="#ef5a50" stroke-width="0.80" stroke-linecap="butt" stroke-linejoin="round"/>
<polyline points="518.9,78.2 518.8,79.4 518.2,80.6 517.2,81.8 515.8,83 513.9,84.1 511.7,85.1 509.3,86 506.6,86.7 503.7,87.3 500.8,87.7 497.8,87.9 494.9,88 492.1,87.8 489.5,87.4 487.2,86.9 485.2,86.2 483.5,85.4 482.3,84.4 481.5,83.3 481.1,82.1" fill="none" stroke="#d3211f" stroke-width="3.80" stroke-linecap="butt" stroke-linejoin="round"/>
<polyline points="516.8,81.4 515,82.7 512.8,83.9 510.1,84.9 507.2,85.8 504.1,86.4 500.8,86.9 497.5,87.1 494.3,87.1 491.2,86.9 488.5,86.4 486,85.7 484,84.8" fill="none" stroke="#ef5a50" stroke-width="0.80" stroke-linecap="butt" stroke-linejoin="round"/>
<polyline points="518.9,85.2 518.8,86.4 518.2,87.6 517.2,88.8 515.8,90 513.9,91.1 511.7,92.1 509.3,93 506.6,93.7 503.7,94.3 500.8,94.7 497.8,94.9 494.9,95 492.1,94.8 489.5,94.4 487.2,93.9 485.2,93.2 483.5,92.4 482.3,91.4 481.5,90.3 481.1,89.1" fill="none" stroke="#d3211f" stroke-width="3.80" stroke-linecap="butt" stroke-linejoin="round"/>
<polyline points="516.8,88.4 515,89.7 512.8,90.9 510.1,91.9 507.2,92.8 504.1,93.4 500.8,93.9 497.5,94.1 494.3,94.1 491.2,93.9 488.5,93.4 486,92.7 484,91.8" fill="none" stroke="#ef5a50" stroke-width="0.80" stroke-linecap="butt" stroke-linejoin="round"/>
<ellipse cx="500" cy="34.4" rx="21.1" ry="9.6" fill="#1e1e1e"/>
<ellipse cx="500" cy="31.4" rx="27" ry="12" fill="#333" stroke="#161616" stroke-width="0.60"/>
<ellipse cx="500" cy="28.4" rx="26.2" ry="11" fill="#3d3d3d" stroke="#222" stroke-width="0.50"/>
<ellipse cx="500" cy="26.4" rx="17.8" ry="7.4" fill="#2c2c2c" stroke="#181818" stroke-width="0.50"/>
<ellipse cx="500" cy="25.9" rx="5.4" ry="2.9" fill="#b9b9b9" stroke="#555" stroke-width="0.50"/>
<ellipse cx="510.7" cy="27.5" rx="1.8" ry="1" fill="#0d0d0d"/>
<ellipse cx="499.6" cy="30.7" rx="1.8" ry="1" fill="#0d0d0d"/>
<ellipse cx="489.1" cy="27.2" rx="1.8" ry="1" fill="#0d0d0d"/>
<ellipse cx="493.7" cy="21.9" rx="1.8" ry="1" fill="#0d0d0d"/>
<ellipse cx="507" cy="22.1" rx="1.8" ry="1" fill="#0d0d0d"/>
<g>
<polygon points="32,263 32.9,253.1 34.8,243 37.7,233.1 41.6,223.4 46.3,214.3 51.8,206 57.8,198.8 64.3,192.6 71.1,187.8 78,184.5 84.9,182.7 91.5,182.4 97.8,183.8 131.8,196.3 137.5,199.1 142.5,203.5 146.8,209.2 150.1,216.2 152.5,224.2 153.8,233 154,242.5 153.2,252.4 151.2,262.5 148.3,272.4 144.4,282.1 139.7,291.2 134.2,299.5 128.2,306.8 121.7,312.9 114.9,317.7 108,321 101.1,322.8 94.5,323.1 88.2,321.7 54.2,309.2 48.5,306.4 43.5,302 39.2,296.3 35.9,289.4 33.5,281.4 32.2,272.5" fill="#2f2f2f" stroke="#0c0c0c" stroke-width="0.70" stroke-linejoin="round"/>
<polyline points="68.7,310 75.7,314.9" fill="none" stroke="#090909" stroke-width="1.30" stroke-linecap="butt" stroke-linejoin="round" opacity="0.9"/>
<polyline points="85.9,318.6 101.3,322" fill="none" stroke="#090909" stroke-width="1.30" stroke-linecap="butt" stroke-linejoin="round" opacity="0.9"/>
<polyline points="77.8,315.3 85.3,318.1" fill="none" stroke="#121212" stroke-width="0.70" stroke-linecap="butt" stroke-linejoin="round" opacity="0.7"/>
<polyline points="63.7,310.6 70.9,314.7" fill="none" stroke="#090909" stroke-width="1.30" stroke-linecap="butt" stroke-linejoin="round" opacity="0.9"/>
<polyline points="81.1,318.4 96.3,322.6" fill="none" stroke="#090909" stroke-width="1.30" stroke-linecap="butt" stroke-linejoin="round" opacity="0.9"/>
<polyline points="73,315.3 80.5,318" fill="none" stroke="#121212" stroke-width="0.70" stroke-linecap="butt" stroke-linejoin="round" opacity="0.7"/>
<polyline points="58.9,310.4 66.3,313.7" fill="none" stroke="#090909" stroke-width="1.30" stroke-linecap="butt" stroke-linejoin="round" opacity="0.9"/>
<polyline points="76.5,317.4 91.5,322.4" fill="none" stroke="#090909" stroke-width="1.30" stroke-linecap="butt" stroke-linejoin="round" opacity="0.9"/>
<polyline points="68.3,314.4 75.8,317.1" fill="none" stroke="#121212" stroke-width="0.70" stroke-linecap="butt" stroke-linejoin="round" opacity="0.7"/>
<polyline points="54.3,309.3 62,311.8" fill="none" stroke="#090909" stroke-width="1.30" stroke-linecap="butt" stroke-linejoin="round" opacity="0.9"/>
<polyline points="72.2,315.5 87,321.3" fill="none" stroke="#090909" stroke-width="1.30" stroke-linecap="butt" stroke-linejoin="round" opacity="0.9"/>
<polyline points="64,312.6 71.5,315.4" fill="none" stroke="#121212" stroke-width="0.70" stroke-linecap="butt" stroke-linejoin="round" opacity="0.7"/>
<polyline points="50.1,307.3 58,309.1" fill="none" stroke="#090909" stroke-width="1.30" stroke-linecap="butt" stroke-linejoin="round" opacity="0.9"/>
<polyline points="68.2,312.8 82.7,319.3" fill="none" stroke="#090909" stroke-width="1.30" stroke-linecap="butt" stroke-linejoin="round" opacity="0.9"/>
<polyline points="60,310.1 67.5,312.8" fill="none" stroke="#121212" stroke-width="0.70" stroke-linecap="butt" stroke-linejoin="round" opacity="0.7"/>
<polyline points="46.1,304.6 54.5,305.6" fill="none" stroke="#090909" stroke-width="1.30" stroke-linecap="butt" stroke-linejoin="round" opacity="0.9"/>
<polyline points="64.7,309.4 78.8,316.6" fill="none" stroke="#090909" stroke-width="1.30" stroke-linecap="butt" stroke-linejoin="round" opacity="0.9"/>
<polyline points="56.3,306.7 63.8,309.4" fill="none" stroke="#121212" stroke-width="0.70" stroke-linecap="butt" stroke-linejoin="round" opacity="0.7"/>
<polyline points="42.6,301 51.3,301.4" fill="none" stroke="#090909" stroke-width="1.30" stroke-linecap="butt" stroke-linejoin="round" opacity="0.9"/>
<polyline points="61.5,305.2 75.2,313" fill="none" stroke="#090909" stroke-width="1.30" stroke-linecap="butt" stroke-linejoin="round" opacity="0.9"/>
<polyline points="53.1,302.6 60.6,305.4" fill="none" stroke="#121212" stroke-width="0.70" stroke-linecap="butt" stroke-linejoin="round" opacity="0.7"/>
<polyline points="39.5,296.8 48.7,296.6" fill="none" stroke="#090909" stroke-width="1.30" stroke-linecap="butt" stroke-linejoin="round" opacity="0.9"/>
<polyline points="58.9,300.3 72.1,308.8" fill="none" stroke="#090909" stroke-width="1.30" stroke-linecap="butt" stroke-linejoin="round" opacity="0.9"/>
<polyline points="50.4,297.8 57.9,300.6" fill="none" stroke="#121212" stroke-width="0.70" stroke-linecap="butt" stroke-linejoin="round" opacity="0.7"/>
<polyline points="36.9,291.8 46.6,291.1" fill="none" stroke="#090909" stroke-width="1.30" stroke-linecap="butt" stroke-linejoin="round" opacity="0.9"/>
<polyline points="56.8,294.8 69.5,303.8" fill="none" stroke="#090909" stroke-width="1.30" stroke-linecap="butt" stroke-linejoin="round" opacity="0.9"/>
<polyline points="48.2,292.4 55.7,295.2" fill="none" stroke="#121212" stroke-width="0.70" stroke-linecap="butt" stroke-linejoin="round" opacity="0.7"/>
<polyline points="34.8,286.3 45,285" fill="none" stroke="#090909" stroke-width="1.30" stroke-linecap="butt" stroke-linejoin="round" opacity="0.9"/>
<polyline points="55.2,288.8 67.5,298.3" fill="none" stroke="#090909" stroke-width="1.30" stroke-linecap="butt" stroke-linejoin="round" opacity="0.9"/>
<polyline points="46.5,286.5 54,289.2" fill="none" stroke="#121212" stroke-width="0.70" stroke-linecap="butt" stroke-linejoin="round" opacity="0.7"/>
<polyline points="33.3,280.2 44,278.6" fill="none" stroke="#090909" stroke-width="1.30" stroke-linecap="butt" stroke-linejoin="round" opacity="0.9"/>
<polyline points="54.2,282.3 65.9,292.2" fill="none" stroke="#090909" stroke-width="1.30" stroke-linecap="butt" stroke-linejoin="round" opacity="0.9"/>
<polyline points="45.4,280.1 52.9,282.8" fill="none" stroke="#121212" stroke-width="0.70" stroke-linecap="butt" stroke-linejoin="round" opacity="0.7"/>
<polyline points="32.3,273.7 43.5,271.7" fill="none" stroke="#090909" stroke-width="1.30" stroke-linecap="butt" stroke-linejoin="round" opacity="0.9"/>
<polyline points="53.7,275.5 65,285.7" fill="none" stroke="#090909" stroke-width="1.30" stroke-linecap="butt" stroke-linejoin="round" opacity="0.9"/>
<polyline points="44.9,273.3 52.4,276" fill="none" stroke="#121212" stroke-width="0.70" stroke-linecap="butt" stroke-linejoin="round" opacity="0.7"/>
<polyline points="32,266.8 43.7,264.6" fill="none" stroke="#090909" stroke-width="1.30" stroke-linecap="butt" stroke-linejoin="round" opacity="0.9"/>
<polyline points="53.9,268.3 64.6,278.8" fill="none" stroke="#090909" stroke-width="1.30" stroke-linecap="butt" stroke-linejoin="round" opacity="0.9"/>
<polyline points="45,266.2 52.5,268.9" fill="none" stroke="#121212" stroke-width="0.70" stroke-linecap="butt" stroke-linejoin="round" opacity="0.7"/>
<polyline points="32.2,259.7 44.4,257.3" fill="none" stroke="#090909" stroke-width="1.30" stroke-linecap="butt" stroke-linejoin="round" opacity="0.9"/>
<polyline points="54.6,261 64.8,271.7" fill="none" stroke="#090909" stroke-width="1.30" stroke-linecap="butt" stroke-linejoin="round" opacity="0.9"/>
<polyline points="45.6,258.9 53.1,261.6" fill="none" stroke="#121212" stroke-width="0.70" stroke-linecap="butt" stroke-linejoin="round" opacity="0.7"/>
<polyline points="33,252.3 45.7,249.9" fill="none" stroke="#090909" stroke-width="1.30" stroke-linecap="butt" stroke-linejoin="round" opacity="0.9"/>
<polyline points="55.9,253.6 65.6,264.3" fill="none" stroke="#090909" stroke-width="1.30" stroke-linecap="butt" stroke-linejoin="round" opacity="0.9"/>
<polyline points="46.9,251.5 54.3,254.2" fill="none" stroke="#121212" stroke-width="0.70" stroke-linecap="butt" stroke-linejoin="round" opacity="0.7"/>
<polyline points="34.3,244.9 47.6,242.5" fill="none" stroke="#090909" stroke-width="1.30" stroke-linecap="butt" stroke-linejoin="round" opacity="0.9"/>
<polyline points="57.8,246.2 67,256.9" fill="none" stroke="#090909" stroke-width="1.30" stroke-linecap="butt" stroke-linejoin="round" opacity="0.9"/>
<polyline points="48.7,244.1 56.1,246.8" fill="none" stroke="#121212" stroke-width="0.70" stroke-linecap="butt" stroke-linejoin="round" opacity="0.7"/>
<polyline points="36.3,237.5 50,235.2" fill="none" stroke="#090909" stroke-width="1.30" stroke-linecap="butt" stroke-linejoin="round" opacity="0.9"/>
<polyline points="60.2,238.9 68.9,249.5" fill="none" stroke="#090909" stroke-width="1.30" stroke-linecap="butt" stroke-linejoin="round" opacity="0.9"/>
<polyline points="51,236.8 58.5,239.5" fill="none" stroke="#121212" stroke-width="0.70" stroke-linecap="butt" stroke-linejoin="round" opacity="0.7"/>
<polyline points="38.7,230.3 52.9,228.1" fill="none" stroke="#090909" stroke-width="1.30" stroke-linecap="butt" stroke-linejoin="round" opacity="0.9"/>
<polyline points="63.1,231.9 71.4,242.3" fill="none" stroke="#090909" stroke-width="1.30" stroke-linecap="butt" stroke-linejoin="round" opacity="0.9"/>
<polyline points="53.8,229.7 61.3,232.4" fill="none" stroke="#121212" stroke-width="0.70" stroke-linecap="butt" stroke-linejoin="round" opacity="0.7"/>
<polyline points="41.7,223.2 56.3,221.4" fill="none" stroke="#090909" stroke-width="1.30" stroke-linecap="butt" stroke-linejoin="round" opacity="0.9"/>
<polyline points="66.5,225.1 74.3,235.2" fill="none" stroke="#090909" stroke-width="1.30" stroke-linecap="butt" stroke-linejoin="round" opacity="0.9"/>
<polyline points="57.1,222.9 64.6,225.6" fill="none" stroke="#121212" stroke-width="0.70" stroke-linecap="butt" stroke-linejoin="round" opacity="0.7"/>
<polyline points="45.1,216.5 60.1,215" fill="none" stroke="#090909" stroke-width="1.30" stroke-linecap="butt" stroke-linejoin="round" opacity="0.9"/>
<polyline points="70.3,218.7 77.7,228.5" fill="none" stroke="#090909" stroke-width="1.30" stroke-linecap="butt" stroke-linejoin="round" opacity="0.9"/>
<polyline points="60.8,216.4 68.3,219.2" fill="none" stroke="#121212" stroke-width="0.70" stroke-linecap="butt" stroke-linejoin="round" opacity="0.7"/>
<polyline points="48.9,210.2 64.2,209.1" fill="none" stroke="#090909" stroke-width="1.30" stroke-linecap="butt" stroke-linejoin="round" opacity="0.9"/>
<polyline points="74.4,212.8 81.5,222.2" fill="none" stroke="#090909" stroke-width="1.30" stroke-linecap="butt" stroke-linejoin="round" opacity="0.9"/>
<polyline points="64.9,210.4 72.4,213.2" fill="none" stroke="#121212" stroke-width="0.70" stroke-linecap="butt" stroke-linejoin="round" opacity="0.7"/>
<polyline points="53.1,204.3 68.7,203.7" fill="none" stroke="#090909" stroke-width="1.30" stroke-linecap="butt" stroke-linejoin="round" opacity="0.9"/>
<polyline points="78.9,207.5 85.7,216.3" fill="none" stroke="#090909" stroke-width="1.30" stroke-linecap="butt" stroke-linejoin="round" opacity="0.9"/>
<polyline points="69.4,205 76.8,207.7" fill="none" stroke="#121212" stroke-width="0.70" stroke-linecap="butt" stroke-linejoin="round" opacity="0.7"/>
<polyline points="57.6,199 73.4,199" fill="none" stroke="#090909" stroke-width="1.30" stroke-linecap="butt" stroke-linejoin="round" opacity="0.9"/>
<polyline points="83.6,202.8 90.2,211" fill="none" stroke="#090909" stroke-width="1.30" stroke-linecap="butt" stroke-linejoin="round" opacity="0.9"/>
<polyline points="74,200.2 81.5,202.9" fill="none" stroke="#121212" stroke-width="0.70" stroke-linecap="butt" stroke-linejoin="round" opacity="0.7"/>
<polyline points="62.3,194.4 78.3,195" fill="none" stroke="#090909" stroke-width="1.30" stroke-linecap="butt" stroke-linejoin="round" opacity="0.9"/>
<polyline points="88.5,198.7 94.9,206.4" fill="none" stroke="#090909" stroke-width="1.30" stroke-linecap="butt" stroke-linejoin="round" opacity="0.9"/>
<polyline points="78.9,196 86.4,198.8" fill="none" stroke="#121212" stroke-width="0.70" stroke-linecap="butt" stroke-linejoin="round" opacity="0.7"/>
<polyline points="67.2,190.4 83.3,191.7" fill="none" stroke="#090909" stroke-width="1.30" stroke-linecap="butt" stroke-linejoin="round" opacity="0.9"/>
<polyline points="93.5,195.4 99.9,202.4" fill="none" stroke="#090909" stroke-width="1.30" stroke-linecap="butt" stroke-linejoin="round" opacity="0.9"/>
<polyline points="83.9,192.6 91.4,195.4" fill="none" stroke="#121212" stroke-width="0.70" stroke-linecap="butt" stroke-linejoin="round" opacity="0.7"/>
<polyline points="72.3,187.2 88.4,189.2" fill="none" stroke="#090909" stroke-width="1.30" stroke-linecap="butt" stroke-linejoin="round" opacity="0.9"/>
<polyline points="98.6,192.9 104.9,199.2" fill="none" stroke="#090909" stroke-width="1.30" stroke-linecap="butt" stroke-linejoin="round" opacity="0.9"/>
<polyline points="89,190 96.5,192.8" fill="none" stroke="#121212" stroke-width="0.70" stroke-linecap="butt" stroke-linejoin="round" opacity="0.7"/>
<polyline points="77.3,184.8 93.5,187.5" fill="none" stroke="#090909" stroke-width="1.30" stroke-linecap="butt" stroke-linejoin="round" opacity="0.9"/>
<polyline points="103.7,191.3 110,196.8" fill="none" stroke="#090909" stroke-width="1.30" stroke-linecap="butt" stroke-linejoin="round" opacity="0.9"/>
<polyline points="94.1,188.2 101.6,191" fill="none" stroke="#121212" stroke-width="0.70" stroke-linecap="butt" stroke-linejoin="round" opacity="0.7"/>
<polyline points="82.4,183.2 98.5,186.7" fill="none" stroke="#090909" stroke-width="1.30" stroke-linecap="butt" stroke-linejoin="round" opacity="0.9"/>
<polyline points="108.7,190.4 115,195.2" fill="none" stroke="#090909" stroke-width="1.30" stroke-linecap="butt" stroke-linejoin="round" opacity="0.9"/>
<polyline points="99.1,187.3 106.6,190" fill="none" stroke="#121212" stroke-width="0.70" stroke-linecap="butt" stroke-linejoin="round" opacity="0.7"/>
<polyline points="87.4,182.4 103.3,186.7" fill="none" stroke="#090909" stroke-width="1.30" stroke-linecap="butt" stroke-linejoin="round" opacity="0.9"/>
<polyline points="113.5,190.5 120,194.4" fill="none" stroke="#090909" stroke-width="1.30" stroke-linecap="butt" stroke-linejoin="round" opacity="0.9"/>
<polyline points="104,187.2 111.5,189.9" fill="none" stroke="#121212" stroke-width="0.70" stroke-linecap="butt" stroke-linejoin="round" opacity="0.7"/>
<polyline points="92.2,182.5 108,187.6" fill="none" stroke="#090909" stroke-width="1.30" stroke-linecap="butt" stroke-linejoin="round" opacity="0.9"/>
<polyline points="118.2,191.3 124.9,194.5" fill="none" stroke="#090909" stroke-width="1.30" stroke-linecap="butt" stroke-linejoin="round" opacity="0.9"/>
<polyline points="108.6,187.9 116.1,190.6" fill="none" stroke="#121212" stroke-width="0.70" stroke-linecap="butt" stroke-linejoin="round" opacity="0.7"/>
<polyline points="93.5,316.8 89.2,317.9 84.9,318.4 80.7,318.2 76.7,317.4 73,316 69.4,314 66.1,311.3 63.2,308.1 60.5,304.4 58.3,300.2 56.4,295.5 54.9,290.3 53.8,284.9 53.2,279.1 53,273.1 53.3,266.9 54,260.5 55.1,254.1 56.6,247.7 58.6,241.4 60.9,235.2 63.6,229.2 66.6,223.4 69.9,218 73.5,212.9 77.3,208.2 81.4,204 85.6,200.2 89.8,197.1 94.2,194.4 98.6,192.4 103,191 107.3,190.3 111.5,190.1 115.6,190.6 119.5,191.8" fill="none" stroke="#070707" stroke-width="1.50" stroke-linecap="butt" stroke-linejoin="round" opacity="0.9"/>
<polyline points="84.7,313.5 80.3,314.7 76.1,315.1 71.9,315 67.9,314.2 64.1,312.8 60.6,310.7 57.3,308.1 54.3,304.9 51.7,301.1 49.4,296.9 47.5,292.2 46.1,287.1 45,281.6 44.4,275.9 44.2,269.8 44.4,263.6 45.1,257.3 46.3,250.9 47.8,244.5 49.7,238.2 52.1,232 54.7,225.9 57.8,220.2 61.1,214.7 64.7,209.6 68.5,204.9 72.5,200.7 76.7,197 81,193.8 85.4,191.2 89.8,189.2 94.2,187.8 98.5,187 102.7,186.9 106.8,187.4 110.7,188.5" fill="none" stroke="#070707" stroke-width="1.50" stroke-linecap="butt" stroke-linejoin="round" opacity="0.9"/>
<polyline points="89.1,315.2 84.8,316.3 80.5,316.8 76.3,316.6 72.3,315.8 68.5,314.4 65,312.3 61.7,309.7 58.7,306.5 56.1,302.8 53.8,298.5 52,293.8 50.5,288.7 49.4,283.3 48.8,277.5 48.6,271.5 48.9,265.2 49.6,258.9 50.7,252.5 52.2,246.1 54.2,239.8 56.5,233.6 59.2,227.6 62.2,221.8 65.5,216.3 69.1,211.3 72.9,206.6 76.9,202.3 81.1,198.6 85.4,195.4 89.8,192.8 94.2,190.8 98.6,189.4 102.9,188.6 107.1,188.5 111.2,189 115.1,190.1" fill="none" stroke="#474747" stroke-width="0.90" stroke-linecap="butt" stroke-linejoin="round" opacity="0.9"/>
<polyline points="77.6,310.9 73.2,312 68.9,312.5 64.8,312.4 60.8,311.6 57,310.1 53.4,308.1 50.1,305.5 47.2,302.3 44.5,298.5 42.3,294.3 40.4,289.6 38.9,284.5 37.9,279 37.2,273.2 37.1,267.2 37.3,261 38,254.7 39.1,248.3 40.7,241.9 42.6,235.5 44.9,229.3 47.6,223.3 50.6,217.6 53.9,212.1 57.5,207 61.4,202.3 65.4,198.1 69.6,194.4 73.9,191.2 78.2,188.6 82.6,186.6 87,185.2 91.3,184.4 95.6,184.2 99.6,184.7 103.5,185.9" fill="none" stroke="#444" stroke-width="0.70" stroke-linecap="butt" stroke-linejoin="round" opacity="0.9"/>
<polyline points="101,319.5 96.7,320.7 92.4,321.1 88.2,321 84.2,320.2 80.4,318.8 76.9,316.7 73.6,314.1 70.6,310.9 68,307.1 65.7,302.9 63.9,298.2 62.4,293.1 61.3,287.6 60.7,281.9 60.5,275.8 60.8,269.6 61.5,263.3 62.6,256.9 64.1,250.5 66.1,244.2 68.4,238 71.1,231.9 74.1,226.2 77.4,220.7 81,215.6 84.8,210.9 88.8,206.7 93,203 97.3,199.8 101.7,197.2 106.1,195.2 110.5,193.8 114.8,193 119,192.9 123.1,193.4 127,194.5" fill="none" stroke="#444" stroke-width="0.70" stroke-linecap="butt" stroke-linejoin="round" opacity="0.9"/>
<polygon points="154,242.5 153.1,252.4 151.2,262.5 148.3,272.4 144.4,282.1 139.7,291.2 134.2,299.5 128.2,306.8 121.7,312.9 114.9,317.7 108,321 101.1,322.8 94.5,323.1 88.2,321.7 82.5,318.9 77.5,314.5 73.2,308.8 69.9,301.8 67.5,293.9 66.2,285 66,275.5 66.9,265.6 68.8,255.5 71.7,245.6 75.6,235.9 80.3,226.8 85.8,218.5 91.8,211.2 98.3,205.1 105.1,200.3 112,197 118.9,195.2 125.5,194.9 131.8,196.3 137.5,199.1 142.5,203.5 146.8,209.2 150.1,216.2 152.5,224.1 153.8,233 154,242.5" fill="#2c2c2c" stroke="#505050" stroke-width="0.90" stroke-linejoin="round"/>
<polygon points="151.8,243.3 151,252.7 149.2,262.3 146.4,271.8 142.7,280.9 138.2,289.6 133,297.4 127.3,304.4 121.1,310.2 114.7,314.7 108.1,317.9 101.6,319.6 95.3,319.9 89.3,318.6 83.9,315.9 79.1,311.7 75.1,306.3 71.9,299.7 69.7,292.1 68.4,283.7 68.2,274.7 69,265.3 70.8,255.7 73.6,246.2 77.3,237.1 81.8,228.4 87,220.6 92.7,213.6 98.9,207.8 105.3,203.3 111.9,200.1 118.4,198.4 124.7,198.1 130.7,199.4 136.1,202.1 140.9,206.3 144.9,211.7 148.1,218.3 150.3,225.9 151.6,234.3 151.8,243.3" fill="#242424" stroke="#0e0e0e" stroke-width="0.60" stroke-linejoin="round"/>
</g>
<polygon points="146.1,245.5 145.4,253.6 143.8,261.8 141.4,270 138.2,277.9 134.4,285.4 129.9,292.2 124.9,298.2 119.6,303.2 114,307.1 108.4,309.8 102.7,311.3 97.3,311.5 92.2,310.4 87.5,308.1 83.3,304.5 79.8,299.8 77.1,294.1 75.2,287.6 74.1,280.3 73.9,272.5 74.6,264.4 76.2,256.2 78.6,248 81.8,240.1 85.6,232.6 90.1,225.8 95.1,219.8 100.4,214.8 106,210.9 111.6,208.2 117.3,206.7 122.7,206.5 127.8,207.6 132.5,209.9 136.7,213.5 140.2,218.2 142.9,223.9 144.8,230.4 145.9,237.7 146.1,245.5" fill="#1a1a1a"/>
<polygon points="142,219.9 342,316.9 606,188.3 406,91.3" fill="#d3f5f6" stroke="#58c7cf" stroke-width="0.60" stroke-linejoin="round"/>
<polygon points="142,219.9 342,316.9 342,323.9 142,226.9" fill="#a8ebee" stroke="#58c7cf" stroke-width="0.60" stroke-linejoin="round"/>
<polygon points="342,316.9 606,188.3 606,195.3 342,323.9" fill="#b5f0f2" stroke="#58c7cf" stroke-width="0.60" stroke-linejoin="round"/>
<polygon points="147,203.4 207,232.5 220,226.2 300,265 287,271.3 339,296.5 600,169.4 408,76.3" fill="#7b7b83" stroke="#777880" stroke-width="0.40" stroke-linejoin="round"/>
<polygon points="147,203.4 207,232.5 207,248.5 147,219.4" fill="#5c5c64" stroke="#777880" stroke-width="0.40" stroke-linejoin="round"/>
<polygon points="207,232.5 220,226.2 220,242.2 207,248.5" fill="#c6c7d1" stroke="#777880" stroke-width="0.40" stroke-linejoin="round"/>
<polygon points="220,226.2 300,265 300,281 220,242.2" fill="#5c5c64" stroke="#777880" stroke-width="0.40" stroke-linejoin="round"/>
<polygon points="287,271.3 339,296.5 339,312.5 287,287.3" fill="#5c5c64" stroke="#777880" stroke-width="0.40" stroke-linejoin="round"/>
<polygon points="339,296.5 600,169.4 600,185.4 339,312.5" fill="#c6c7d1" stroke="#777880" stroke-width="0.40" stroke-linejoin="round"/>
<polygon points="425,74.5 578,148.8 614,131.2 461,57" fill="#d2d3db" stroke="#8a8b93" stroke-width="0.40" stroke-linejoin="round"/>
<polygon points="425,74.5 578,148.8 578,170.8 425,96.5" fill="#b0b1ba" stroke="#8a8b93" stroke-width="0.40" stroke-linejoin="round"/>
<polygon points="578,148.8 614,131.2 614,153.2 578,170.8" fill="#bfc0ca" stroke="#8a8b93" stroke-width="0.40" stroke-linejoin="round"/>
<polygon points="154,190 346,283.1 600,159.4 408,66.3" fill="#d0d1d9" stroke="#7c7d86" stroke-width="0.40" stroke-linejoin="round"/>
<polygon points="154,190 346,283.1 346,293.1 154,200" fill="#8f9099" stroke="#7c7d86" stroke-width="0.40" stroke-linejoin="round"/>
<polygon points="346,283.1 600,159.4 600,169.4 346,293.1" fill="#c4c5cf" stroke="#7c7d86" stroke-width="0.40" stroke-linejoin="round"/>
<polygon points="439.5,73.8 461.5,63.1 504.5,83.9 482.5,94.7" fill="#505056" stroke="#2a2a2e" stroke-width="0.50" stroke-linejoin="round"/>
<polygon points="439.5,73.8 461.5,63.1 461.5,72.1 439.5,82.8" fill="#3a3a3f"/>
<polygon points="439.5,82.8 453.5,76 488.5,93 474.5,99.8" fill="#707076"/>
<polygon points="540,122.5 562,111.8 594,127.4 572,138.1" fill="#505056" stroke="#2a2a2e" stroke-width="0.50" stroke-linejoin="round"/>
<polygon points="540,122.5 562,111.8 562,120.8 540,131.5" fill="#3a3a3f"/>
<polygon points="540,131.5 554,124.7 578,136.4 564,143.2" fill="#707076"/>
<polygon points="164,190 397,76.5 579,164.8 346,278.3" fill="#9c9ca4" stroke="#80808a" stroke-width="0.40" stroke-linejoin="round"/>
<polygon points="164,190 193,175.9 375,264.1 346,278.3" fill="#83838b"/>
<polygon points="161.8,190.8 389.2,79.6 566.4,167.6 339,278.8" fill="#8e857b"/>
<polygon points="156.9,193.2 179.5,182.2 356.7,270.1 334.1,281.2" fill="#7c7c84"/>
<polygon points="241.8,158.3 259.6,149.6 266.3,152.9 248.5,161.6" fill="#6f6a64"/>
<polygon points="254,164.3 271.7,155.6 278.4,158.9 260.7,167.6" fill="#a39c93"/>
<polygon points="266.1,170.3 283.8,161.6 290.5,164.9 272.8,173.6" fill="#6f6a64"/>
<polygon points="278.2,176.3 296,167.6 302.6,171 284.9,179.6" fill="#a39c93"/>
<polygon points="290.3,182.3 308.1,173.7 314.8,177 297,185.7" fill="#6f6a64"/>
<polygon points="302.5,188.3 320.2,179.7 326.9,183 309.1,191.7" fill="#a39c93"/>
<polygon points="314.6,194.4 332.3,185.7 339,189 321.3,197.7" fill="#6f6a64"/>
<polygon points="326.7,200.4 344.4,191.7 351.1,195 333.4,203.7" fill="#a39c93"/>
<polygon points="338.8,206.4 356.6,197.7 363.3,201 345.5,209.7" fill="#6f6a64"/>
<polygon points="350.9,212.4 368.7,203.7 375.4,207.1 357.6,215.7" fill="#a39c93"/>
<polygon points="363.1,218.4 380.8,209.8 387.5,213.1 369.8,221.8" fill="#6f6a64"/>
<polygon points="375.2,224.5 392.9,215.8 399.6,219.1 381.9,227.8" fill="#a39c93"/>
<polygon points="387.3,230.5 405.1,221.8 411.7,225.1 394,233.8" fill="#6f6a64"/>
<polygon points="399.4,236.5 417.2,227.8 423.9,231.1 406.1,239.8" fill="#a39c93"/>
<polyline points="246.7,155.9 413.9,238.9" fill="none" stroke="#e0a04e" stroke-width="1.40" stroke-linecap="butt" stroke-linejoin="round"/>
<polyline points="254.8,151.9 422,234.9" fill="none" stroke="#e0a04e" stroke-width="1.40" stroke-linecap="butt" stroke-linejoin="round"/>
<polyline points="251.7,158.4 259.8,154.4" fill="none" stroke="#e0a04e" stroke-width="1.60" stroke-linecap="butt" stroke-linejoin="round"/>
<polyline points="268.4,166.7 276.5,162.7" fill="none" stroke="#e0a04e" stroke-width="1.60" stroke-linecap="butt" stroke-linejoin="round"/>
<polyline points="285.1,175 293.2,171" fill="none" stroke="#e0a04e" stroke-width="1.60" stroke-linecap="butt" stroke-linejoin="round"/>
<polyline points="301.9,183.3 309.9,179.3" fill="none" stroke="#e0a04e" stroke-width="1.60" stroke-linecap="butt" stroke-linejoin="round"/>
<polyline points="318.6,191.6 326.6,187.6" fill="none" stroke="#e0a04e" stroke-width="1.60" stroke-linecap="butt" stroke-linejoin="round"/>
<polyline points="335.3,199.9 343.4,195.9" fill="none" stroke="#e0a04e" stroke-width="1.60" stroke-linecap="butt" stroke-linejoin="round"/>
<polyline points="352,208.2 360.1,204.2" fill="none" stroke="#e0a04e" stroke-width="1.60" stroke-linecap="butt" stroke-linejoin="round"/>
<polyline points="368.7,216.5 376.8,212.5" fill="none" stroke="#e0a04e" stroke-width="1.60" stroke-linecap="butt" stroke-linejoin="round"/>
<polyline points="385.5,224.8 393.5,220.8" fill="none" stroke="#e0a04e" stroke-width="1.60" stroke-linecap="butt" stroke-linejoin="round"/>
<polyline points="402.2,233.1 410.2,229.1" fill="none" stroke="#e0a04e" stroke-width="1.60" stroke-linecap="butt" stroke-linejoin="round"/>
<polygon points="291.9,133.8 341.9,109.3 348.6,112.7 298.5,137.1" fill="#6f6a64"/>
<polygon points="304,139.8 354,115.4 360.7,118.7 310.7,143.1" fill="#a39c93"/>
<polygon points="316.1,145.8 366.1,121.4 372.8,124.7 322.8,149.2" fill="#6f6a64"/>
<polygon points="328.2,151.9 378.2,127.4 384.9,130.7 334.9,155.2" fill="#a39c93"/>
<polygon points="340.3,157.9 390.4,133.4 397,136.7 347,161.2" fill="#6f6a64"/>
<polygon points="352.5,163.9 402.5,139.4 409.2,142.8 359.2,167.2" fill="#a39c93"/>
<polygon points="364.6,169.9 414.6,145.4 421.3,148.8 371.3,173.2" fill="#6f6a64"/>
<polygon points="376.7,175.9 426.7,151.5 433.4,154.8 383.4,179.2" fill="#a39c93"/>
<polygon points="388.8,181.9 438.8,157.5 445.5,160.8 395.5,185.3" fill="#6f6a64"/>
<polygon points="401,188 451,163.5 457.6,166.8 407.6,191.3" fill="#a39c93"/>
<polygon points="413.1,194 463.1,169.5 469.8,172.8 419.8,197.3" fill="#6f6a64"/>
<polygon points="425.2,200 475.2,175.5 481.9,178.9 431.9,203.3" fill="#a39c93"/>
<polygon points="437.3,206 487.3,181.6 494,184.9 444,209.3" fill="#6f6a64"/>
<polygon points="449.4,212 499.4,187.6 506.1,190.9 456.1,215.3" fill="#a39c93"/>
<polyline points="312.8,123.5 480,206.5" fill="none" stroke="#e0a04e" stroke-width="1.40" stroke-linecap="butt" stroke-linejoin="round"/>
<polyline points="320.9,119.6 488.1,202.6" fill="none" stroke="#e0a04e" stroke-width="1.40" stroke-linecap="butt" stroke-linejoin="round"/>
<polyline points="317.8,126 325.9,122.1" fill="none" stroke="#e0a04e" stroke-width="1.60" stroke-linecap="butt" stroke-linejoin="round"/>
<polyline points="334.6,134.3 342.6,130.4" fill="none" stroke="#e0a04e" stroke-width="1.60" stroke-linecap="butt" stroke-linejoin="round"/>
<polyline points="351.3,142.6 359.3,138.7" fill="none" stroke="#e0a04e" stroke-width="1.60" stroke-linecap="butt" stroke-linejoin="round"/>
<polyline points="368,150.9 376.1,147" fill="none" stroke="#e0a04e" stroke-width="1.60" stroke-linecap="butt" stroke-linejoin="round"/>
<polyline points="384.7,159.2 392.8,155.3" fill="none" stroke="#e0a04e" stroke-width="1.60" stroke-linecap="butt" stroke-linejoin="round"/>
<polyline points="401.4,167.5 409.5,163.6" fill="none" stroke="#e0a04e" stroke-width="1.60" stroke-linecap="butt" stroke-linejoin="round"/>
<polyline points="418.2,175.8 426.2,171.9" fill="none" stroke="#e0a04e" stroke-width="1.60" stroke-linecap="butt" stroke-linejoin="round"/>
<polyline points="434.9,184.1 442.9,180.2" fill="none" stroke="#e0a04e" stroke-width="1.60" stroke-linecap="butt" stroke-linejoin="round"/>
<polyline points="451.6,192.4 459.7,188.5" fill="none" stroke="#e0a04e" stroke-width="1.60" stroke-linecap="butt" stroke-linejoin="round"/>
<polyline points="468.3,200.7 476.4,196.8" fill="none" stroke="#e0a04e" stroke-width="1.60" stroke-linecap="butt" stroke-linejoin="round"/>
<polygon points="297.1,189.9 298.4,190.9 298.4,192.1 297.3,193.1 250.5,216 248.4,216.6 246,216.5 243.9,215.9 185.4,186.9 184.1,185.8 184.1,184.6 185.3,183.6 232,160.8 234.1,160.2 236.5,160.2 238.6,160.8" fill="#1b5488" stroke="#1b5488" stroke-width="0.66" stroke-linejoin="round"/>
<polygon points="313.9,199.8 315.2,200.8 315.2,202 314,203 300.3,209.8 298.3,210.3 295.9,210.3 293.8,209.7 275.4,200.5 274.1,199.5 274.1,198.3 275.2,197.3 289,190.6 291,190 293.4,190.1 295.5,190.7" fill="#1b5488" stroke="#1b5488" stroke-width="0.66" stroke-linejoin="round"/>
<polygon points="322.5,208.8 323.7,209.9 323.7,211 322.6,212.1 316.9,214.8 314.9,215.4 312.5,215.4 310.4,214.7 292,205.6 290.7,204.6 290.7,203.4 291.8,202.4 297.5,199.6 299.6,199 302,199.1 304.1,199.7" fill="#1b5488" stroke="#1b5488" stroke-width="0.66" stroke-linejoin="round"/>
<polygon points="347.4,217.2 348.6,218.3 348.7,219.4 347.5,220.5 333.8,227.2 331.7,227.7 329.3,227.7 327.2,227.1 308.8,217.9 307.6,216.9 307.5,215.7 308.7,214.7 322.4,208 324.5,207.4 326.9,207.5 329,208.1" fill="#1b5488" stroke="#1b5488" stroke-width="0.66" stroke-linejoin="round"/>
<polygon points="396.9,247.4 398.2,248.4 398.2,249.6 397,250.6 359.9,268.8 357.9,269.3 355.5,269.3 353.4,268.7 295.7,240 294.4,239 294.4,237.8 295.6,236.8 332.7,218.7 334.7,218.1 337.1,218.1 339.2,218.7" fill="#1b5488" stroke="#1b5488" stroke-width="0.66" stroke-linejoin="round"/>
<polygon points="429.9,228 431.1,229 431.2,230.2 430,231.2 397.7,247 395.7,247.5 393.3,247.5 391.2,246.9 378.6,240.7 377.4,239.6 377.3,238.4 378.5,237.4 410.8,221.6 412.8,221.1 415.2,221.1 417.3,221.7" fill="#1b5488" stroke="#1b5488" stroke-width="0.66" stroke-linejoin="round"/>
<polygon points="321.7,141.6 322.9,142.7 322.9,143.9 321.8,144.9 290.3,160.3 288.3,160.8 285.8,160.8 283.7,160.2 262,149.4 260.8,148.4 260.7,147.2 261.9,146.2 293.3,130.8 295.4,130.2 297.8,130.2 299.9,130.9" fill="#1b5488" stroke="#1b5488" stroke-width="0.66" stroke-linejoin="round"/>
<polygon points="355.8,156.2 357.1,157.3 357.1,158.5 356,159.5 317.2,178.4 315.2,179 312.8,178.9 310.7,178.3 280.6,163.4 279.3,162.3 279.3,161.2 280.5,160.1 319.2,141.2 321.2,140.6 323.6,140.7 325.7,141.3" fill="#1b5488" stroke="#1b5488" stroke-width="0.66" stroke-linejoin="round"/>
<polygon points="366.3,174.2 367.6,175.2 367.6,176.4 366.5,177.4 352.8,184.1 350.7,184.7 348.3,184.6 346.2,184 327,174.5 325.7,173.4 325.7,172.3 326.8,171.2 340.5,164.5 342.6,164 345,164 347.1,164.6" fill="#1b5488" stroke="#1b5488" stroke-width="0.66" stroke-linejoin="round"/>
<polygon points="371.5,179.9 372.7,180.9 372.8,182.1 371.6,183.1 364.3,186.7 362.3,187.2 359.9,187.2 357.8,186.6 352.8,184.1 351.5,183.1 351.5,181.9 352.6,180.9 359.9,177.3 362,176.8 364.4,176.8 366.5,177.4" fill="#1b5488" stroke="#1b5488" stroke-width="0.66" stroke-linejoin="round"/>
<polygon points="404.8,192.4 406,193.5 406.1,194.7 404.9,195.7 388.8,203.6 386.7,204.1 384.3,204.1 382.2,203.5 354.6,189.8 353.4,188.8 353.3,187.6 354.5,186.6 370.6,178.7 372.7,178.1 375.1,178.1 377.2,178.8" fill="#1b5488" stroke="#1b5488" stroke-width="0.66" stroke-linejoin="round"/>
<polygon points="476.8,208.3 478,209.4 478.1,210.5 476.9,211.6 432.5,233.2 430.5,233.8 428.1,233.8 426,233.2 370.8,205.8 369.5,204.7 369.5,203.5 370.7,202.5 415,180.8 417.1,180.3 419.5,180.3 421.6,180.9" fill="#1b5488" stroke="#1b5488" stroke-width="0.66" stroke-linejoin="round"/>
<polygon points="403.5,89.3 404.7,90.3 404.8,91.5 403.6,92.5 311.7,137.5 309.6,138 307.2,138 305.1,137.4 295.9,132.8 294.6,131.8 294.6,130.6 295.8,129.6 387.7,84.6 389.8,84.1 392.2,84.1 394.3,84.7" fill="#1b5488" stroke="#1b5488" stroke-width="0.66" stroke-linejoin="round"/>
<polygon points="417,167.5 418.2,168.6 418.3,169.7 417.1,170.8 401.8,178.2 399.7,178.8 397.3,178.8 395.2,178.2 390.2,175.7 389,174.6 388.9,173.4 390.1,172.4 405.4,164.9 407.5,164.4 409.9,164.4 412,165" fill="#1b5488" stroke="#1b5488" stroke-width="0.66" stroke-linejoin="round"/>
<polygon points="560.7,167.3 561.9,168.3 561.9,169.5 560.8,170.5 515.6,192.6 513.5,193.2 511.1,193.2 509,192.5 354.4,115.8 353.1,114.7 353.1,113.5 354.3,112.5 399.4,90.4 401.5,89.9 403.9,89.9 406,90.5" fill="#1b5488" stroke="#1b5488" stroke-width="0.66" stroke-linejoin="round"/>
<polygon points="415.3,166.7 416.6,167.7 416.6,168.9 415.4,169.9 400.1,177.4 398.1,178 395.7,178 393.6,177.3 319.1,140.4 317.9,139.4 317.9,138.2 319,137.2 334.4,129.7 336.4,129.1 338.8,129.1 340.9,129.8" fill="#1b5488" stroke="#1b5488" stroke-width="0.66" stroke-linejoin="round"/>
<polygon points="441.3,157.3 442.5,158.3 442.5,159.5 441.4,160.5 422,170 420,170.6 417.6,170.5 415.4,169.9 412.1,168.3 410.9,167.2 410.8,166 412,165 431.3,155.6 433.4,155 435.8,155 437.9,155.6" fill="#1b5488" stroke="#1b5488" stroke-width="0.66" stroke-linejoin="round"/>
<polygon points="440.4,179.1 441.6,180.2 441.7,181.4 440.5,182.4 426.8,189.1 424.8,189.6 422.3,189.6 420.2,189 401.9,179.9 400.6,178.8 400.6,177.6 401.7,176.6 415.4,169.9 417.5,169.4 419.9,169.4 422,170" fill="#1b5488" stroke="#1b5488" stroke-width="0.66" stroke-linejoin="round"/>
<polygon points="446.4,184.5 447.6,185.5 447.6,186.7 446.5,187.7 437.6,192 435.5,192.6 433.1,192.6 431,192 426,189.5 424.8,188.4 424.7,187.2 425.9,186.2 434.8,181.9 436.8,181.3 439.2,181.4 441.3,182" fill="#1b5488" stroke="#1b5488" stroke-width="0.66" stroke-linejoin="round"/>
<polygon points="470.5,194.1 471.7,195.1 471.8,196.3 470.6,197.3 456.9,204 454.9,204.6 452.4,204.6 450.3,203.9 431.9,194.8 430.7,193.8 430.7,192.6 431.8,191.6 445.5,184.9 447.6,184.3 450,184.3 452.1,184.9" fill="#1b5488" stroke="#1b5488" stroke-width="0.66" stroke-linejoin="round"/>
<polygon points="476.4,199.4 477.7,200.4 477.7,201.6 476.6,202.6 467.7,207 465.6,207.6 463.2,207.5 461.1,206.9 456.1,204.4 454.9,203.4 454.8,202.2 456,201.2 464.9,196.8 466.9,196.3 469.3,196.3 471.4,196.9" fill="#1b5488" stroke="#1b5488" stroke-width="0.66" stroke-linejoin="round"/>
<polygon points="488.1,202.8 489.3,203.8 489.3,205 488.2,206 474.5,212.7 472.4,213.3 470,213.3 467.9,212.7 462,209.7 460.8,208.7 460.8,207.5 461.9,206.5 475.6,199.8 477.7,199.2 480.1,199.3 482.2,199.9" fill="#1b5488" stroke="#1b5488" stroke-width="0.66" stroke-linejoin="round"/>
<polygon points="377.1,197.8 378.3,198.8 378.3,200 377.2,201 371.5,203.8 369.5,204.3 367.1,204.3 365,203.7 316.5,179.6 315.2,178.6 315.2,177.4 316.3,176.4 322,173.6 324.1,173 326.5,173.1 328.6,173.7" fill="#1b5488" stroke="#1b5488" stroke-width="0.66" stroke-linejoin="round"/>
<polygon points="228.4,208.6 202,222.8 194.4,228.4 193.4,232.9 197.9,236.3 206.9,235.3 240.2,222.3 269,210.3" fill="#1b5488" stroke="#1b5488" stroke-width="0.66" stroke-linejoin="round"/>
<polygon points="258.7,224.6 262.5,218 273.6,212.5 284.9,213.8 295.3,221.9 294.5,229.7 296.3,234.8 303.8,237.7 294.9,242.1 285.6,241.7 289.7,248.9 292,256.7 288.5,259.3 280.5,257.6 275.5,253.6 274.9,249.4 276.3,243.7 272.2,236.5 265.1,230.5" fill="#1b5488" stroke="#1b5488" stroke-width="0.66" stroke-linejoin="round"/>
<polygon points="297.1,188.9 298.4,189.9 298.4,191.1 297.3,192.1 250.5,215 248.4,215.6 246,215.5 243.9,214.9 185.4,185.9 184.1,184.8 184.1,183.6 185.3,182.6 232,159.8 234.1,159.2 236.5,159.2 238.6,159.8" fill="#3190d6" stroke="#1f609a" stroke-width="0.57" stroke-linejoin="round"/>
<polygon points="313.9,198.8 315.2,199.8 315.2,201 314,202 300.3,208.8 298.3,209.3 295.9,209.3 293.8,208.7 275.4,199.5 274.1,198.5 274.1,197.3 275.2,196.3 289,189.6 291,189 293.4,189.1 295.5,189.7" fill="#3190d6" stroke="#1f609a" stroke-width="0.57" stroke-linejoin="round"/>
<polygon points="322.5,207.8 323.7,208.9 323.7,210 322.6,211.1 316.9,213.8 314.9,214.4 312.5,214.4 310.4,213.7 292,204.6 290.7,203.6 290.7,202.4 291.8,201.4 297.5,198.6 299.6,198 302,198.1 304.1,198.7" fill="#3190d6" stroke="#1f609a" stroke-width="0.57" stroke-linejoin="round"/>
<polygon points="347.4,216.2 348.6,217.3 348.7,218.4 347.5,219.5 333.8,226.2 331.7,226.7 329.3,226.7 327.2,226.1 308.8,216.9 307.6,215.9 307.5,214.7 308.7,213.7 322.4,207 324.5,206.4 326.9,206.5 329,207.1" fill="#3190d6" stroke="#1f609a" stroke-width="0.57" stroke-linejoin="round"/>
<polygon points="396.9,246.4 398.2,247.4 398.2,248.6 397,249.6 359.9,267.8 357.9,268.3 355.5,268.3 353.4,267.7 295.7,239 294.4,238 294.4,236.8 295.6,235.8 332.7,217.7 334.7,217.1 337.1,217.1 339.2,217.7" fill="#3190d6" stroke="#1f609a" stroke-width="0.57" stroke-linejoin="round"/>
<polygon points="429.9,227 431.1,228 431.2,229.2 430,230.2 397.7,246 395.7,246.5 393.3,246.5 391.2,245.9 378.6,239.7 377.4,238.6 377.3,237.4 378.5,236.4 410.8,220.6 412.8,220.1 415.2,220.1 417.3,220.7" fill="#3190d6" stroke="#1f609a" stroke-width="0.57" stroke-linejoin="round"/>
<polygon points="321.7,140.6 322.9,141.7 322.9,142.9 321.8,143.9 290.3,159.3 288.3,159.8 285.8,159.8 283.7,159.2 262,148.4 260.8,147.4 260.7,146.2 261.9,145.2 293.3,129.8 295.4,129.2 297.8,129.2 299.9,129.9" fill="#3190d6" stroke="#1f609a" stroke-width="0.57" stroke-linejoin="round"/>
<polygon points="355.8,155.2 357.1,156.3 357.1,157.5 356,158.5 317.2,177.4 315.2,178 312.8,177.9 310.7,177.3 280.6,162.4 279.3,161.3 279.3,160.2 280.5,159.1 319.2,140.2 321.2,139.6 323.6,139.7 325.7,140.3" fill="#3190d6" stroke="#1f609a" stroke-width="0.57" stroke-linejoin="round"/>
<polygon points="366.3,173.2 367.6,174.2 367.6,175.4 366.5,176.4 352.8,183.1 350.7,183.7 348.3,183.6 346.2,183 327,173.5 325.7,172.4 325.7,171.3 326.8,170.2 340.5,163.5 342.6,163 345,163 347.1,163.6" fill="#3190d6" stroke="#1f609a" stroke-width="0.57" stroke-linejoin="round"/>
<polygon points="371.5,178.9 372.7,179.9 372.8,181.1 371.6,182.1 364.3,185.7 362.3,186.2 359.9,186.2 357.8,185.6 352.8,183.1 351.5,182.1 351.5,180.9 352.6,179.9 359.9,176.3 362,175.8 364.4,175.8 366.5,176.4" fill="#3190d6" stroke="#1f609a" stroke-width="0.57" stroke-linejoin="round"/>
<polygon points="404.8,191.4 406,192.5 406.1,193.7 404.9,194.7 388.8,202.6 386.7,203.1 384.3,203.1 382.2,202.5 354.6,188.8 353.4,187.8 353.3,186.6 354.5,185.6 370.6,177.7 372.7,177.1 375.1,177.1 377.2,177.8" fill="#3190d6" stroke="#1f609a" stroke-width="0.57" stroke-linejoin="round"/>
<polygon points="476.8,207.3 478,208.4 478.1,209.5 476.9,210.6 432.5,232.2 430.5,232.8 428.1,232.8 426,232.2 370.8,204.8 369.5,203.7 369.5,202.5 370.7,201.5 415,179.8 417.1,179.3 419.5,179.3 421.6,179.9" fill="#3190d6" stroke="#1f609a" stroke-width="0.57" stroke-linejoin="round"/>
<polygon points="403.5,88.3 404.7,89.3 404.8,90.5 403.6,91.5 311.7,136.5 309.6,137 307.2,137 305.1,136.4 295.9,131.8 294.6,130.8 294.6,129.6 295.8,128.6 387.7,83.6 389.8,83.1 392.2,83.1 394.3,83.7" fill="#3190d6" stroke="#1f609a" stroke-width="0.57" stroke-linejoin="round"/>
<polygon points="417,166.5 418.2,167.6 418.3,168.7 417.1,169.8 401.8,177.2 399.7,177.8 397.3,177.8 395.2,177.2 390.2,174.7 389,173.6 388.9,172.4 390.1,171.4 405.4,163.9 407.5,163.4 409.9,163.4 412,164" fill="#3190d6" stroke="#1f609a" stroke-width="0.57" stroke-linejoin="round"/>
<polygon points="560.7,166.3 561.9,167.3 561.9,168.5 560.8,169.5 515.6,191.6 513.5,192.2 511.1,192.2 509,191.5 354.4,114.8 353.1,113.7 353.1,112.5 354.3,111.5 399.4,89.4 401.5,88.9 403.9,88.9 406,89.5" fill="#3190d6" stroke="#1f609a" stroke-width="0.57" stroke-linejoin="round"/>
<polygon points="415.3,165.7 416.6,166.7 416.6,167.9 415.4,168.9 400.1,176.4 398.1,177 395.7,177 393.6,176.3 319.1,139.4 317.9,138.4 317.9,137.2 319,136.2 334.4,128.7 336.4,128.1 338.8,128.1 340.9,128.8" fill="#3190d6" stroke="#1f609a" stroke-width="0.57" stroke-linejoin="round"/>
<polygon points="441.3,156.3 442.5,157.3 442.5,158.5 441.4,159.5 422,169 420,169.6 417.6,169.5 415.4,168.9 412.1,167.3 410.9,166.2 410.8,165 412,164 431.3,154.6 433.4,154 435.8,154 437.9,154.6" fill="#3190d6" stroke="#1f609a" stroke-width="0.57" stroke-linejoin="round"/>
<polygon points="440.4,178.1 441.6,179.2 441.7,180.4 440.5,181.4 426.8,188.1 424.8,188.6 422.3,188.6 420.2,188 401.9,178.9 400.6,177.8 400.6,176.6 401.7,175.6 415.4,168.9 417.5,168.4 419.9,168.4 422,169" fill="#3190d6" stroke="#1f609a" stroke-width="0.57" stroke-linejoin="round"/>
<polygon points="446.4,183.5 447.6,184.5 447.6,185.7 446.5,186.7 437.6,191 435.5,191.6 433.1,191.6 431,191 426,188.5 424.8,187.4 424.7,186.2 425.9,185.2 434.8,180.9 436.8,180.3 439.2,180.4 441.3,181" fill="#3190d6" stroke="#1f609a" stroke-width="0.57" stroke-linejoin="round"/>
<polygon points="470.5,193.1 471.7,194.1 471.8,195.3 470.6,196.3 456.9,203 454.9,203.6 452.4,203.6 450.3,202.9 431.9,193.8 430.7,192.8 430.7,191.6 431.8,190.6 445.5,183.9 447.6,183.3 450,183.3 452.1,183.9" fill="#3190d6" stroke="#1f609a" stroke-width="0.57" stroke-linejoin="round"/>
<polygon points="476.4,198.4 477.7,199.4 477.7,200.6 476.6,201.6 467.7,206 465.6,206.6 463.2,206.5 461.1,205.9 456.1,203.4 454.9,202.4 454.8,201.2 456,200.2 464.9,195.8 466.9,195.3 469.3,195.3 471.4,195.9" fill="#3190d6" stroke="#1f609a" stroke-width="0.57" stroke-linejoin="round"/>
<polygon points="488.1,201.8 489.3,202.8 489.3,204 488.2,205 474.5,211.7 472.4,212.3 470,212.3 467.9,211.7 462,208.7 460.8,207.7 460.8,206.5 461.9,205.5 475.6,198.8 477.7,198.2 480.1,198.3 482.2,198.9" fill="#3190d6" stroke="#1f609a" stroke-width="0.57" stroke-linejoin="round"/>
<polygon points="377.1,196.8 378.3,197.8 378.3,199 377.2,200 371.5,202.8 369.5,203.3 367.1,203.3 365,202.7 316.5,178.6 315.2,177.6 315.2,176.4 316.3,175.4 322,172.6 324.1,172 326.5,172.1 328.6,172.7" fill="#3190d6" stroke="#1f609a" stroke-width="0.57" stroke-linejoin="round"/>
<polygon points="228.4,207.6 202,221.8 194.4,227.4 193.4,231.9 197.9,235.3 206.9,234.3 240.2,221.3 269,209.3" fill="#3190d6" stroke="#1f609a" stroke-width="0.57" stroke-linejoin="round"/>
<polygon points="258.7,223.6 262.5,217 273.6,211.5 284.9,212.8 295.3,220.9 294.5,228.7 296.3,233.8 303.8,236.7 294.9,241.1 285.6,240.7 289.7,247.9 292,255.7 288.5,258.3 280.5,256.6 275.5,252.6 274.9,248.4 276.3,242.7 272.2,235.5 265.1,229.5" fill="#3190d6" stroke="#1f609a" stroke-width="0.57" stroke-linejoin="round"/>
<polyline points="197.6,184 240.3,205.2 243.4,206.1 247,206.1 250.1,205.3 251.9,203.8 251.8,202 249.9,200.4 212.3,181.8" fill="none" stroke="#1b5488" stroke-width="3.28" stroke-linecap="round" stroke-linejoin="round"/>
<polyline points="217,174.5 259.6,195.7 262.8,196.6 266.4,196.7 269.5,195.8 271.2,194.3 271.2,192.5 269.3,191 231.7,172.3" fill="none" stroke="#1b5488" stroke-width="3.28" stroke-linecap="round" stroke-linejoin="round"/>
<polyline points="235.5,165.5 283.2,189.1" fill="none" stroke="#1b5488" stroke-width="3.28" stroke-linecap="round" stroke-linejoin="round"/>
<polyline points="352.2,259.2 313.8,240.1 311.9,238.5 311.8,236.7 313.6,235.2 316.7,234.4 320.3,234.4 323.5,235.3 366.9,256.9" fill="none" stroke="#1b5488" stroke-width="3.28" stroke-linecap="round" stroke-linejoin="round"/>
<polyline points="371.6,249.7 332.7,230.4 331,229 331,227.3 332.6,225.9 335.4,225.2 338.7,225.2 341.6,226.1 385.5,247.8" fill="none" stroke="#1b5488" stroke-width="3.28" stroke-linecap="round" stroke-linejoin="round"/>
<polyline points="506.3,183.8 467.8,164.7 466,163.2 465.9,161.4 467.7,159.9 470.7,159 474.4,159.1 477.5,160 521,181.6" fill="none" stroke="#1b5488" stroke-width="3.28" stroke-linecap="round" stroke-linejoin="round"/>
<polyline points="525.6,174.3 486.8,155 485.1,153.6 485,152 486.6,150.6 489.4,149.8 492.8,149.9 495.6,150.7 539.5,172.5" fill="none" stroke="#1b5488" stroke-width="3.28" stroke-linecap="round" stroke-linejoin="round"/>
<polyline points="499.9,144.1 548.4,168.2" fill="none" stroke="#1b5488" stroke-width="3.28" stroke-linecap="round" stroke-linejoin="round"/>
<polyline points="293.6,159.3 312,168.4 315.1,169.4 318.8,169.4 321.8,168.6 323.6,167 323.5,165.3 321.7,163.7 308.3,157.1" fill="none" stroke="#1b5488" stroke-width="3.28" stroke-linecap="round" stroke-linejoin="round"/>
<polyline points="313,149.8 331.8,159.2 334.7,160 338,160.1 340.8,159.3 342.4,157.9 342.3,156.3 340.6,154.8 326.8,148" fill="none" stroke="#1b5488" stroke-width="3.28" stroke-linecap="round" stroke-linejoin="round"/>
<polyline points="285.1,151.9 277.6,148.2 275.4,146.4 275.4,144.3 277.4,142.5 281,141.5 285.2,141.6 288.9,142.7 301.4,148.9" fill="none" stroke="#1b5488" stroke-width="3.28" stroke-linecap="round" stroke-linejoin="round"/>
<polyline points="292.7,135 311.1,144.2" fill="none" stroke="#1b5488" stroke-width="3.28" stroke-linecap="round" stroke-linejoin="round"/>
<polyline points="382.2,203.3 424,224.1 427.2,225 430.8,225 433.9,224.2 435.6,222.7 435.6,220.9 433.7,219.3 396.9,201.1" fill="none" stroke="#1b5488" stroke-width="3.28" stroke-linecap="round" stroke-linejoin="round"/>
<polyline points="401.6,193.8 443.4,214.6 446.5,215.5 450.1,215.6 453.2,214.7 455,213.2 454.9,211.4 453.1,209.8 416.3,191.6" fill="none" stroke="#1b5488" stroke-width="3.28" stroke-linecap="round" stroke-linejoin="round"/>
<polyline points="420.1,184.8 466.9,208" fill="none" stroke="#1b5488" stroke-width="3.28" stroke-linecap="round" stroke-linejoin="round"/>
<polyline points="432.7,147.3 390.9,126.5 389.1,125 389,123.2 390.7,121.7 393.8,120.8 397.4,120.9 400.6,121.8 447.4,145" fill="none" stroke="#1b5488" stroke-width="3.28" stroke-linecap="round" stroke-linejoin="round"/>
<polyline points="328.1,137.5 392.5,169.4 395.1,170.2 398.1,170.3 400.7,169.5 402.2,168.3 402.1,166.8 400.5,165.5 341.2,136" fill="none" stroke="#1b5488" stroke-width="3.28" stroke-linecap="round" stroke-linejoin="round"/>
<polyline points="410.3,117.1 378.1,101.1 376.4,99.7 376.3,98 377.9,96.6 380.8,95.9 384.1,95.9 387,96.8 424.2,115.2" fill="none" stroke="#1b5488" stroke-width="3.28" stroke-linecap="round" stroke-linejoin="round"/>
<polyline points="391.2,90.1 433,110.9" fill="none" stroke="#1b5488" stroke-width="3.28" stroke-linecap="round" stroke-linejoin="round"/>
<polyline points="425.3,124.5 467.5,145.5 470.4,146.4 473.7,146.4 476.6,145.6 478.2,144.2 478.1,142.6 476.4,141.2 439.2,122.7" fill="none" stroke="#1b5488" stroke-width="3.28" stroke-linecap="round" stroke-linejoin="round"/>
<polyline points="443.1,115.9 489.9,139.1" fill="none" stroke="#1b5488" stroke-width="3.28" stroke-linecap="round" stroke-linejoin="round"/>
<polyline points="285.9,195.2 302.6,203.5" fill="none" stroke="#1b5488" stroke-width="3.28" stroke-linecap="round" stroke-linejoin="round"/>
<polyline points="339.1,169.2 355.8,177.5" fill="none" stroke="#1b5488" stroke-width="3.28" stroke-linecap="round" stroke-linejoin="round"/>
<polyline points="321.8,213.1 336.9,220.5" fill="none" stroke="#1b5488" stroke-width="3.28" stroke-linecap="round" stroke-linejoin="round"/>
<polyline points="367.6,184.1 391,195.7" fill="none" stroke="#1b5488" stroke-width="3.28" stroke-linecap="round" stroke-linejoin="round"/>
<polyline points="197.6,184 240.3,205.2 243.4,206.1 247,206.1 250.1,205.3 251.9,203.8 251.8,202 249.9,200.4 212.3,181.8" fill="none" stroke="#d9d45a" stroke-width="1.89" stroke-linecap="round" stroke-linejoin="round"/>
<polyline points="217,174.5 259.6,195.7 262.8,196.6 266.4,196.7 269.5,195.8 271.2,194.3 271.2,192.5 269.3,191 231.7,172.3" fill="none" stroke="#d9d45a" stroke-width="1.89" stroke-linecap="round" stroke-linejoin="round"/>
<polyline points="235.5,165.5 283.2,189.1" fill="none" stroke="#d9d45a" stroke-width="1.89" stroke-linecap="round" stroke-linejoin="round"/>
<polyline points="352.2,259.2 313.8,240.1 311.9,238.5 311.8,236.7 313.6,235.2 316.7,234.4 320.3,234.4 323.5,235.3 366.9,256.9" fill="none" stroke="#d9d45a" stroke-width="1.89" stroke-linecap="round" stroke-linejoin="round"/>
<polyline points="371.6,249.7 332.7,230.4 331,229 331,227.3 332.6,225.9 335.4,225.2 338.7,225.2 341.6,226.1 385.5,247.8" fill="none" stroke="#d9d45a" stroke-width="1.89" stroke-linecap="round" stroke-linejoin="round"/>
<polyline points="506.3,183.8 467.8,164.7 466,163.2 465.9,161.4 467.7,159.9 470.7,159 474.4,159.1 477.5,160 521,181.6" fill="none" stroke="#d9d45a" stroke-width="1.89" stroke-linecap="round" stroke-linejoin="round"/>
<polyline points="525.6,174.3 486.8,155 485.1,153.6 485,152 486.6,150.6 489.4,149.8 492.8,149.9 495.6,150.7 539.5,172.5" fill="none" stroke="#d9d45a" stroke-width="1.89" stroke-linecap="round" stroke-linejoin="round"/>
<polyline points="499.9,144.1 548.4,168.2" fill="none" stroke="#d9d45a" stroke-width="1.89" stroke-linecap="round" stroke-linejoin="round"/>
<polyline points="293.6,159.3 312,168.4 315.1,169.4 318.8,169.4 321.8,168.6 323.6,167 323.5,165.3 321.7,163.7 308.3,157.1" fill="none" stroke="#d9d45a" stroke-width="1.89" stroke-linecap="round" stroke-linejoin="round"/>
<polyline points="313,149.8 331.8,159.2 334.7,160 338,160.1 340.8,159.3 342.4,157.9 342.3,156.3 340.6,154.8 326.8,148" fill="none" stroke="#d9d45a" stroke-width="1.89" stroke-linecap="round" stroke-linejoin="round"/>
<polyline points="285.1,151.9 277.6,148.2 275.4,146.4 275.4,144.3 277.4,142.5 281,141.5 285.2,141.6 288.9,142.7 301.4,148.9" fill="none" stroke="#d9d45a" stroke-width="1.89" stroke-linecap="round" stroke-linejoin="round"/>
<polyline points="292.7,135 311.1,144.2" fill="none" stroke="#d9d45a" stroke-width="1.89" stroke-linecap="round" stroke-linejoin="round"/>
<polyline points="382.2,203.3 424,224.1 427.2,225 430.8,225 433.9,224.2 435.6,222.7 435.6,220.9 433.7,219.3 396.9,201.1" fill="none" stroke="#d9d45a" stroke-width="1.89" stroke-linecap="round" stroke-linejoin="round"/>
<polyline points="401.6,193.8 443.4,214.6 446.5,215.5 450.1,215.6 453.2,214.7 455,213.2 454.9,211.4 453.1,209.8 416.3,191.6" fill="none" stroke="#d9d45a" stroke-width="1.89" stroke-linecap="round" stroke-linejoin="round"/>
<polyline points="420.1,184.8 466.9,208" fill="none" stroke="#d9d45a" stroke-width="1.89" stroke-linecap="round" stroke-linejoin="round"/>
<polyline points="432.7,147.3 390.9,126.5 389.1,125 389,123.2 390.7,121.7 393.8,120.8 397.4,120.9 400.6,121.8 447.4,145" fill="none" stroke="#d9d45a" stroke-width="1.89" stroke-linecap="round" stroke-linejoin="round"/>
<polyline points="328.1,137.5 392.5,169.4 395.1,170.2 398.1,170.3 400.7,169.5 402.2,168.3 402.1,166.8 400.5,165.5 341.2,136" fill="none" stroke="#d9d45a" stroke-width="1.89" stroke-linecap="round" stroke-linejoin="round"/>
<polyline points="410.3,117.1 378.1,101.1 376.4,99.7 376.3,98 377.9,96.6 380.8,95.9 384.1,95.9 387,96.8 424.2,115.2" fill="none" stroke="#d9d45a" stroke-width="1.89" stroke-linecap="round" stroke-linejoin="round"/>
<polyline points="391.2,90.1 433,110.9" fill="none" stroke="#d9d45a" stroke-width="1.89" stroke-linecap="round" stroke-linejoin="round"/>
<polyline points="425.3,124.5 467.5,145.5 470.4,146.4 473.7,146.4 476.6,145.6 478.2,144.2 478.1,142.6 476.4,141.2 439.2,122.7" fill="none" stroke="#d9d45a" stroke-width="1.89" stroke-linecap="round" stroke-linejoin="round"/>
<polyline points="443.1,115.9 489.9,139.1" fill="none" stroke="#d9d45a" stroke-width="1.89" stroke-linecap="round" stroke-linejoin="round"/>
<polyline points="285.9,195.2 302.6,203.5" fill="none" stroke="#d9d45a" stroke-width="1.89" stroke-linecap="round" stroke-linejoin="round"/>
<polyline points="339.1,169.2 355.8,177.5" fill="none" stroke="#d9d45a" stroke-width="1.89" stroke-linecap="round" stroke-linejoin="round"/>
<polyline points="321.8,213.1 336.9,220.5" fill="none" stroke="#d9d45a" stroke-width="1.89" stroke-linecap="round" stroke-linejoin="round"/>
<polyline points="367.6,184.1 391,195.7" fill="none" stroke="#d9d45a" stroke-width="1.89" stroke-linecap="round" stroke-linejoin="round"/>
<polyline points="300.2,205.5 306.7,202.4" fill="none" stroke="#1b5488" stroke-width="2.79" stroke-linecap="round" stroke-linejoin="round"/>
<polyline points="300.2,205.5 306.7,202.4" fill="none" stroke="#d9d45a" stroke-width="1.23" stroke-linecap="round" stroke-linejoin="round"/>
<polyline points="308.6,209.7 315,206.5" fill="none" stroke="#1b5488" stroke-width="2.79" stroke-linecap="round" stroke-linejoin="round"/>
<polyline points="308.6,209.7 315,206.5" fill="none" stroke="#d9d45a" stroke-width="1.23" stroke-linecap="round" stroke-linejoin="round"/>
<polyline points="356,181.5 364,177.6" fill="none" stroke="#1b5488" stroke-width="2.79" stroke-linecap="round" stroke-linejoin="round"/>
<polyline points="356,181.5 364,177.6" fill="none" stroke="#d9d45a" stroke-width="1.23" stroke-linecap="round" stroke-linejoin="round"/>
<polyline points="388.4,236.6 410.9,225.5" fill="none" stroke="#1b5488" stroke-width="2.79" stroke-linecap="round" stroke-linejoin="round"/>
<polyline points="388.4,236.6 410.9,225.5" fill="none" stroke="#d9d45a" stroke-width="1.23" stroke-linecap="round" stroke-linejoin="round"/>
<polyline points="309.7,129.2 324.3,122.1" fill="none" stroke="#1b5488" stroke-width="2.79" stroke-linecap="round" stroke-linejoin="round"/>
<polyline points="309.7,129.2 324.3,122.1" fill="none" stroke="#d9d45a" stroke-width="1.23" stroke-linecap="round" stroke-linejoin="round"/>
<polyline points="333.9,117.3 348.5,110.2" fill="none" stroke="#1b5488" stroke-width="2.79" stroke-linecap="round" stroke-linejoin="round"/>
<polyline points="333.9,117.3 348.5,110.2" fill="none" stroke="#d9d45a" stroke-width="1.23" stroke-linecap="round" stroke-linejoin="round"/>
<polyline points="359.8,104.7 374.3,97.6" fill="none" stroke="#1b5488" stroke-width="2.79" stroke-linecap="round" stroke-linejoin="round"/>
<polyline points="359.8,104.7 374.3,97.6" fill="none" stroke="#d9d45a" stroke-width="1.23" stroke-linecap="round" stroke-linejoin="round"/>
<polyline points="382.3,93.7 393.6,88.1" fill="none" stroke="#1b5488" stroke-width="2.79" stroke-linecap="round" stroke-linejoin="round"/>
<polyline points="382.3,93.7 393.6,88.1" fill="none" stroke="#d9d45a" stroke-width="1.23" stroke-linecap="round" stroke-linejoin="round"/>
<polyline points="432.5,187.7 440.6,183.8" fill="none" stroke="#1b5488" stroke-width="2.79" stroke-linecap="round" stroke-linejoin="round"/>
<polyline points="432.5,187.7 440.6,183.8" fill="none" stroke="#d9d45a" stroke-width="1.23" stroke-linecap="round" stroke-linejoin="round"/>
<polyline points="462.6,202.7 470.7,198.7" fill="none" stroke="#1b5488" stroke-width="2.79" stroke-linecap="round" stroke-linejoin="round"/>
<polyline points="462.6,202.7 470.7,198.7" fill="none" stroke="#d9d45a" stroke-width="1.23" stroke-linecap="round" stroke-linejoin="round"/>
<polyline points="226,217.9 203.4,229" fill="none" stroke="#1b5488" stroke-width="2.79" stroke-linecap="round" stroke-linejoin="round"/>
<polyline points="226,217.9 203.4,229" fill="none" stroke="#d9d45a" stroke-width="1.23" stroke-linecap="round" stroke-linejoin="round"/>
<polyline points="269.6,220.5 284.3,219.9" fill="none" stroke="#1b5488" stroke-width="2.79" stroke-linecap="round" stroke-linejoin="round"/>
<polyline points="269.6,220.5 284.3,219.9" fill="none" stroke="#d9d45a" stroke-width="1.23" stroke-linecap="round" stroke-linejoin="round"/>
<path d="M204,236 Q198,240 196.5,245.5 L192.6,248.5" fill="none" stroke="#2f86c6" stroke-width="1.60"/>
<polygon points="128.9,222 150.1,222 150.1,262 128.9,262" fill="#3a1a1a"/>
<polyline points="120.5,222 120.7,220.8 121.4,219.7 122.6,218.5 124.1,217.5 126.1,216.6 128.3,215.9 130.9,215.2 133.6,214.8 136.5,214.5 139.5,214.4 142.5,214.5 145.4,214.8 148.1,215.2 150.7,215.9 152.9,216.6 154.9,217.5 156.4,218.5 157.6,219.7 158.3,220.8 158.5,222" fill="none" stroke="#8f1414" stroke-width="3.00" stroke-linecap="butt" stroke-linejoin="round"/>
<polyline points="120.5,230 120.7,228.8 121.4,227.7 122.6,226.5 124.1,225.5 126.1,224.6 128.3,223.9 130.9,223.2 133.6,222.8 136.5,222.5 139.5,222.4 142.5,222.5 145.4,222.8 148.1,223.2 150.7,223.9 152.9,224.6 154.9,225.5 156.4,226.5 157.6,227.7 158.3,228.8 158.5,230" fill="none" stroke="#8f1414" stroke-width="3.00" stroke-linecap="butt" stroke-linejoin="round"/>
<polyline points="120.5,238 120.7,236.8 121.4,235.7 122.6,234.5 124.1,233.5 126.1,232.6 128.3,231.9 130.9,231.2 133.6,230.8 136.5,230.5 139.5,230.4 142.5,230.5 145.4,230.8 148.1,231.2 150.7,231.9 152.9,232.6 154.9,233.5 156.4,234.5 157.6,235.7 158.3,236.8 158.5,238" fill="none" stroke="#8f1414" stroke-width="3.00" stroke-linecap="butt" stroke-linejoin="round"/>
<polyline points="120.5,246 120.7,244.8 121.4,243.7 122.6,242.5 124.1,241.5 126.1,240.6 128.3,239.9 130.9,239.2 133.6,238.8 136.5,238.5 139.5,238.4 142.5,238.5 145.4,238.8 148.1,239.2 150.7,239.9 152.9,240.6 154.9,241.5 156.4,242.5 157.6,243.7 158.3,244.8 158.5,246" fill="none" stroke="#8f1414" stroke-width="3.00" stroke-linecap="butt" stroke-linejoin="round"/>
<polyline points="120.5,254 120.7,252.8 121.4,251.7 122.6,250.5 124.1,249.5 126.1,248.6 128.3,247.9 130.9,247.2 133.6,246.8 136.5,246.5 139.5,246.4 142.5,246.5 145.4,246.8 148.1,247.2 150.7,247.9 152.9,248.6 154.9,249.5 156.4,250.5 157.6,251.7 158.3,252.8 158.5,254" fill="none" stroke="#8f1414" stroke-width="3.00" stroke-linecap="butt" stroke-linejoin="round"/>
<polyline points="120.5,262 120.7,260.8 121.4,259.7 122.6,258.5 124.1,257.5 126.1,256.6 128.3,255.9 130.9,255.2 133.6,254.8 136.5,254.5 139.5,254.4 142.5,254.5 145.4,254.8 148.1,255.2 150.7,255.9 152.9,256.6 154.9,257.5 156.4,258.5 157.6,259.7 158.3,260.8 158.5,262" fill="none" stroke="#8f1414" stroke-width="3.00" stroke-linecap="butt" stroke-linejoin="round"/>
<polyline points="158.4,223.6 158.3,224.8 157.7,226 156.7,227.3 155.3,228.4 153.4,229.5 151.2,230.5 148.8,231.4 146.1,232.2 143.2,232.8 140.3,233.2 137.3,233.4 134.4,233.4 131.6,233.2 129,232.9 126.7,232.3 124.7,231.6 123,230.8 121.8,229.8 121,228.7 120.6,227.6" fill="none" stroke="#d3211f" stroke-width="3.80" stroke-linecap="butt" stroke-linejoin="round"/>
<polyline points="156.3,226.9 154.5,228.1 152.3,229.3 149.6,230.4 146.7,231.2 143.6,231.9 140.3,232.4 137,232.6 133.8,232.6 130.7,232.3 128,231.9 125.5,231.2 123.5,230.3" fill="none" stroke="#ef5a50" stroke-width="0.80" stroke-linecap="butt" stroke-linejoin="round"/>
<polyline points="158.4,231.6 158.3,232.8 157.7,234 156.7,235.3 155.3,236.4 153.4,237.5 151.2,238.5 148.8,239.4 146.1,240.2 143.2,240.8 140.3,241.2 137.3,241.4 134.4,241.4 131.6,241.2 129,240.9 126.7,240.3 124.7,239.6 123,238.8 121.8,237.8 121,236.7 120.6,235.6" fill="none" stroke="#d3211f" stroke-width="3.80" stroke-linecap="butt" stroke-linejoin="round"/>
<polyline points="156.3,234.9 154.5,236.1 152.3,237.3 149.6,238.4 146.7,239.2 143.6,239.9 140.3,240.4 137,240.6 133.8,240.6 130.7,240.3 128,239.9 125.5,239.2 123.5,238.3" fill="none" stroke="#ef5a50" stroke-width="0.80" stroke-linecap="butt" stroke-linejoin="round"/>
<polyline points="158.4,239.6 158.3,240.8 157.7,242 156.7,243.3 155.3,244.4 153.4,245.5 151.2,246.5 148.8,247.4 146.1,248.2 143.2,248.8 140.3,249.2 137.3,249.4 134.4,249.4 131.6,249.2 129,248.9 126.7,248.3 124.7,247.6 123,246.8 121.8,245.8 121,244.7 120.6,243.6" fill="none" stroke="#d3211f" stroke-width="3.80" stroke-linecap="butt" stroke-linejoin="round"/>
<polyline points="156.3,242.9 154.5,244.1 152.3,245.3 149.6,246.4 146.7,247.2 143.6,247.9 140.3,248.4 137,248.6 133.8,248.6 130.7,248.3 128,247.9 125.5,247.2 123.5,246.3" fill="none" stroke="#ef5a50" stroke-width="0.80" stroke-linecap="butt" stroke-linejoin="round"/>
<polyline points="158.4,247.6 158.3,248.8 157.7,250 156.7,251.3 155.3,252.4 153.4,253.5 151.2,254.5 148.8,255.4 146.1,256.2 143.2,256.8 140.3,257.2 137.3,257.4 134.4,257.4 131.6,257.2 129,256.9 126.7,256.3 124.7,255.6 123,254.8 121.8,253.8 121,252.7 120.6,251.6" fill="none" stroke="#d3211f" stroke-width="3.80" stroke-linecap="butt" stroke-linejoin="round"/>
<polyline points="156.3,250.9 154.5,252.1 152.3,253.3 149.6,254.4 146.7,255.2 143.6,255.9 140.3,256.4 137,256.6 133.8,256.6 130.7,256.3 128,255.9 125.5,255.2 123.5,254.3" fill="none" stroke="#ef5a50" stroke-width="0.80" stroke-linecap="butt" stroke-linejoin="round"/>
<polyline points="158.4,255.6 158.3,256.8 157.7,258 156.7,259.3 155.3,260.4 153.4,261.5 151.2,262.5 148.8,263.4 146.1,264.2 143.2,264.8 140.3,265.2 137.3,265.4 134.4,265.4 131.6,265.2 129,264.9 126.7,264.3 124.7,263.6 123,262.8 121.8,261.8 121,260.7 120.6,259.6" fill="none" stroke="#d3211f" stroke-width="3.80" stroke-linecap="butt" stroke-linejoin="round"/>
<polyline points="156.3,258.9 154.5,260.1 152.3,261.3 149.6,262.4 146.7,263.2 143.6,263.9 140.3,264.4 137,264.6 133.8,264.6 130.7,264.3 128,263.9 125.5,263.2 123.5,262.3" fill="none" stroke="#ef5a50" stroke-width="0.80" stroke-linecap="butt" stroke-linejoin="round"/>
<polyline points="158.4,263.6 158.3,264.8 157.7,266 156.7,267.3 155.3,268.4 153.4,269.5 151.2,270.5 148.8,271.4 146.1,272.2 143.2,272.8 140.3,273.2 137.3,273.4 134.4,273.4 131.6,273.2 129,272.9 126.7,272.3 124.7,271.6 123,270.8 121.8,269.8 121,268.7 120.6,267.6" fill="none" stroke="#d3211f" stroke-width="3.80" stroke-linecap="butt" stroke-linejoin="round"/>
<polyline points="156.3,266.9 154.5,268.1 152.3,269.3 149.6,270.4 146.7,271.2 143.6,271.9 140.3,272.4 137,272.6 133.8,272.6 130.7,272.3 128,271.9 125.5,271.2 123.5,270.3" fill="none" stroke="#ef5a50" stroke-width="0.80" stroke-linecap="butt" stroke-linejoin="round"/>
<ellipse cx="139.5" cy="215" rx="21.1" ry="9.6" fill="#1e1e1e"/>
<ellipse cx="139.5" cy="212" rx="27" ry="12" fill="#333" stroke="#161616" stroke-width="0.60"/>
<ellipse cx="139.5" cy="209" rx="26.2" ry="11" fill="#3d3d3d" stroke="#222" stroke-width="0.50"/>
<ellipse cx="139.5" cy="207" rx="17.8" ry="7.4" fill="#2c2c2c" stroke="#181818" stroke-width="0.50"/>
<ellipse cx="139.5" cy="206.5" rx="5.4" ry="2.9" fill="#b9b9b9" stroke="#555" stroke-width="0.50"/>
<ellipse cx="150.2" cy="208.1" rx="1.8" ry="1" fill="#0d0d0d"/>
<ellipse cx="139.1" cy="211.3" rx="1.8" ry="1" fill="#0d0d0d"/>
<ellipse cx="128.6" cy="207.8" rx="1.8" ry="1" fill="#0d0d0d"/>
<ellipse cx="133.2" cy="202.5" rx="1.8" ry="1" fill="#0d0d0d"/>
<ellipse cx="146.5" cy="202.7" rx="1.8" ry="1" fill="#0d0d0d"/>
<polygon points="604.1,101 624.9,101 624.9,126 604.1,126" fill="#3a1a1a"/>
<polyline points="596,101 596.2,99.8 596.9,98.7 598,97.6 599.5,96.7 601.4,95.8 603.6,95 606.1,94.4 608.8,94 611.6,93.7 614.5,93.6 617.4,93.7 620.2,94 622.9,94.4 625.4,95 627.6,95.8 629.5,96.7 631,97.6 632.1,98.7 632.8,99.8 633,101" fill="none" stroke="#8f1414" stroke-width="3.00" stroke-linecap="butt" stroke-linejoin="round"/>
<polyline points="596,109.3 596.2,108.2 596.9,107 598,106 599.5,105 601.4,104.1 603.6,103.3 606.1,102.7 608.8,102.3 611.6,102 614.5,101.9 617.4,102 620.2,102.3 622.9,102.7 625.4,103.3 627.6,104.1 629.5,105 631,106 632.1,107 632.8,108.2 633,109.3" fill="none" stroke="#8f1414" stroke-width="3.00" stroke-linecap="butt" stroke-linejoin="round"/>
<polyline points="596,117.7 596.2,116.5 596.9,115.4 598,114.3 599.5,113.3 601.4,112.4 603.6,111.7 606.1,111.1 608.8,110.6 611.6,110.4 614.5,110.3 617.4,110.4 620.2,110.6 622.9,111.1 625.4,111.7 627.6,112.4 629.5,113.3 631,114.3 632.1,115.4 632.8,116.5 633,117.7" fill="none" stroke="#8f1414" stroke-width="3.00" stroke-linecap="butt" stroke-linejoin="round"/>
<polyline points="596,126 596.2,124.8 596.9,123.7 598,122.6 599.5,121.7 601.4,120.8 603.6,120 606.1,119.4 608.8,119 611.6,118.7 614.5,118.6 617.4,118.7 620.2,119 622.9,119.4 625.4,120 627.6,120.8 629.5,121.7 631,122.6 632.1,123.7 632.8,124.8 633,126" fill="none" stroke="#8f1414" stroke-width="3.00" stroke-linecap="butt" stroke-linejoin="round"/>
<polyline points="632.9,102.8 632.8,104 632.2,105.2 631.2,106.4 629.8,107.5 628.1,108.6 625.9,109.6 623.5,110.4 620.9,111.2 618.1,111.7 615.3,112.1 612.4,112.3 609.6,112.3 606.8,112.2 604.3,111.8 602,111.3 600.1,110.6 598.5,109.8 597.2,108.9 596.4,107.8 596.1,106.7" fill="none" stroke="#d3211f" stroke-width="3.80" stroke-linecap="butt" stroke-linejoin="round"/>
<polyline points="630.8,106 629.1,107.2 626.9,108.3 624.4,109.4 621.5,110.2 618.5,110.9 615.3,111.3 612.1,111.5 608.9,111.5 606,111.3 603.3,110.8 600.9,110.2 599,109.3" fill="none" stroke="#ef5a50" stroke-width="0.80" stroke-linecap="butt" stroke-linejoin="round"/>
<polyline points="632.9,111.1 632.8,112.3 632.2,113.5 631.2,114.7 629.8,115.8 628.1,116.9 625.9,117.9 623.5,118.8 620.9,119.5 618.1,120 615.3,120.4 612.4,120.7 609.6,120.7 606.8,120.5 604.3,120.2 602,119.7 600.1,119 598.5,118.1 597.2,117.2 596.4,116.1 596.1,115" fill="none" stroke="#d3211f" stroke-width="3.80" stroke-linecap="butt" stroke-linejoin="round"/>
<polyline points="630.8,114.3 629.1,115.5 626.9,116.7 624.4,117.7 621.5,118.5 618.5,119.2 615.3,119.6 612.1,119.9 608.9,119.9 606,119.6 603.3,119.2 600.9,118.5 599,117.6" fill="none" stroke="#ef5a50" stroke-width="0.80" stroke-linecap="butt" stroke-linejoin="round"/>
<polyline points="632.9,119.5 632.8,120.7 632.2,121.9 631.2,123 629.8,124.2 628.1,125.3 625.9,126.2 623.5,127.1 620.9,127.8 618.1,128.4 615.3,128.8 612.4,129 609.6,129 606.8,128.9 604.3,128.5 602,128 600.1,127.3 598.5,126.5 597.2,125.5 596.4,124.5 596.1,123.4" fill="none" stroke="#d3211f" stroke-width="3.80" stroke-linecap="butt" stroke-linejoin="round"/>
<polyline points="630.8,122.6 629.1,123.9 626.9,125 624.4,126 621.5,126.9 618.5,127.5 615.3,128 612.1,128.2 608.9,128.2 606,128 603.3,127.5 600.9,126.8 599,126" fill="none" stroke="#ef5a50" stroke-width="0.80" stroke-linecap="butt" stroke-linejoin="round"/>
<polyline points="632.9,127.8 632.8,129 632.2,130.2 631.2,131.4 629.8,132.5 628.1,133.6 625.9,134.6 623.5,135.4 620.9,136.2 618.1,136.7 615.3,137.1 612.4,137.3 609.6,137.3 606.8,137.2 604.3,136.8 602,136.3 600.1,135.6 598.5,134.8 597.2,133.9 596.4,132.8 596.1,131.7" fill="none" stroke="#d3211f" stroke-width="3.80" stroke-linecap="butt" stroke-linejoin="round"/>
<polyline points="630.8,131 629.1,132.2 626.9,133.3 624.4,134.4 621.5,135.2 618.5,135.9 615.3,136.3 612.1,136.5 608.9,136.5 606,136.3 603.3,135.8 600.9,135.2 599,134.3" fill="none" stroke="#ef5a50" stroke-width="0.80" stroke-linecap="butt" stroke-linejoin="round"/>
<ellipse cx="614.5" cy="94" rx="21.1" ry="9.6" fill="#1e1e1e"/>
<ellipse cx="614.5" cy="91" rx="27" ry="12" fill="#333" stroke="#161616" stroke-width="0.60"/>
<ellipse cx="614.5" cy="88" rx="26.2" ry="11" fill="#3d3d3d" stroke="#222" stroke-width="0.50"/>
<ellipse cx="614.5" cy="86" rx="17.8" ry="7.4" fill="#2c2c2c" stroke="#181818" stroke-width="0.50"/>
<ellipse cx="614.5" cy="85.5" rx="5.4" ry="2.9" fill="#b9b9b9" stroke="#555" stroke-width="0.50"/>
<ellipse cx="625.2" cy="87.1" rx="1.8" ry="1" fill="#0d0d0d"/>
<ellipse cx="614.1" cy="90.3" rx="1.8" ry="1" fill="#0d0d0d"/>
<ellipse cx="603.6" cy="86.8" rx="1.8" ry="1" fill="#0d0d0d"/>
<ellipse cx="608.2" cy="81.5" rx="1.8" ry="1" fill="#0d0d0d"/>
<ellipse cx="621.5" cy="81.7" rx="1.8" ry="1" fill="#0d0d0d"/>
<g>
<polygon points="602.1,186.5 602.8,176.7 604.5,166.8 607.3,156.9 611,147.3 615.5,138.2 620.8,129.9 626.7,122.6 633.1,116.4 639.8,111.5 646.6,108 653.4,106 660,105.6 666.2,106.7 700.2,119.2 706,121.9 711.1,126 715.4,131.5 718.8,138.2 721.3,146 722.7,154.7 723.1,164 722.4,173.8 720.7,183.7 717.9,193.6 714.2,203.2 709.6,212.3 704.4,220.6 698.5,227.9 692.1,234.1 685.4,239 678.6,242.5 671.8,244.5 665.2,244.9 659,243.8 625,231.3 619.2,228.6 614.1,224.5 609.8,219 606.4,212.3 603.9,204.5 602.5,195.8" fill="#2f2f2f" stroke="#0c0c0c" stroke-width="0.70" stroke-linejoin="round"/>
<polyline points="639.3,231.7 646.4,236.6" fill="none" stroke="#090909" stroke-width="1.30" stroke-linecap="butt" stroke-linejoin="round" opacity="0.9"/>
<polyline points="656.6,240.4 671.9,243.7" fill="none" stroke="#090909" stroke-width="1.30" stroke-linecap="butt" stroke-linejoin="round" opacity="0.9"/>
<polyline points="648.5,237.1 656,239.8" fill="none" stroke="#121212" stroke-width="0.70" stroke-linecap="butt" stroke-linejoin="round" opacity="0.7"/>
<polyline points="634.4,232.4 641.6,236.6" fill="none" stroke="#090909" stroke-width="1.30" stroke-linecap="butt" stroke-linejoin="round" opacity="0.9"/>
<polyline points="651.8,240.3 667,244.4" fill="none" stroke="#090909" stroke-width="1.30" stroke-linecap="butt" stroke-linejoin="round" opacity="0.9"/>
<polyline points="643.7,237.1 651.2,239.9" fill="none" stroke="#121212" stroke-width="0.70" stroke-linecap="butt" stroke-linejoin="round" opacity="0.7"/>
<polyline points="629.6,232.3 637,235.7" fill="none" stroke="#090909" stroke-width="1.30" stroke-linecap="butt" stroke-linejoin="round" opacity="0.9"/>
<polyline points="647.2,239.5 662.3,244.3" fill="none" stroke="#090909" stroke-width="1.30" stroke-linecap="butt" stroke-linejoin="round" opacity="0.9"/>
<polyline points="639.1,236.4 646.5,239.1" fill="none" stroke="#121212" stroke-width="0.70" stroke-linecap="butt" stroke-linejoin="round" opacity="0.7"/>
<polyline points="625.1,231.3 632.7,234" fill="none" stroke="#090909" stroke-width="1.30" stroke-linecap="butt" stroke-linejoin="round" opacity="0.9"/>
<polyline points="642.9,237.7 657.7,243.3" fill="none" stroke="#090909" stroke-width="1.30" stroke-linecap="butt" stroke-linejoin="round" opacity="0.9"/>
<polyline points="634.7,234.8 642.2,237.5" fill="none" stroke="#121212" stroke-width="0.70" stroke-linecap="butt" stroke-linejoin="round" opacity="0.7"/>
<polyline points="620.8,229.5 628.7,231.5" fill="none" stroke="#090909" stroke-width="1.30" stroke-linecap="butt" stroke-linejoin="round" opacity="0.9"/>
<polyline points="638.9,235.2 653.4,241.5" fill="none" stroke="#090909" stroke-width="1.30" stroke-linecap="butt" stroke-linejoin="round" opacity="0.9"/>
<polyline points="630.7,232.4 638.1,235.1" fill="none" stroke="#121212" stroke-width="0.70" stroke-linecap="butt" stroke-linejoin="round" opacity="0.7"/>
<polyline points="616.8,226.9 625.1,228.2" fill="none" stroke="#090909" stroke-width="1.30" stroke-linecap="butt" stroke-linejoin="round" opacity="0.9"/>
<polyline points="635.3,231.9 649.5,238.9" fill="none" stroke="#090909" stroke-width="1.30" stroke-linecap="butt" stroke-linejoin="round" opacity="0.9"/>
<polyline points="627,229.2 634.5,232" fill="none" stroke="#121212" stroke-width="0.70" stroke-linecap="butt" stroke-linejoin="round" opacity="0.7"/>
<polyline points="613.2,223.6 621.9,224.1" fill="none" stroke="#090909" stroke-width="1.30" stroke-linecap="butt" stroke-linejoin="round" opacity="0.9"/>
<polyline points="632.1,227.9 645.9,235.6" fill="none" stroke="#090909" stroke-width="1.30" stroke-linecap="butt" stroke-linejoin="round" opacity="0.9"/>
<polyline points="623.8,225.3 631.2,228" fill="none" stroke="#121212" stroke-width="0.70" stroke-linecap="butt" stroke-linejoin="round" opacity="0.7"/>
<polyline points="610.1,219.5 619.2,219.4" fill="none" stroke="#090909" stroke-width="1.30" stroke-linecap="butt" stroke-linejoin="round" opacity="0.9"/>
<polyline points="629.4,223.2 642.7,231.5" fill="none" stroke="#090909" stroke-width="1.30" stroke-linecap="butt" stroke-linejoin="round" opacity="0.9"/>
<polyline points="621,220.7 628.4,223.4" fill="none" stroke="#121212" stroke-width="0.70" stroke-linecap="butt" stroke-linejoin="round" opacity="0.7"/>
<polyline points="607.4,214.7 617,214.1" fill="none" stroke="#090909" stroke-width="1.30" stroke-linecap="butt" stroke-linejoin="round" opacity="0.9"/>
<polyline points="627.2,217.8 640.1,226.7" fill="none" stroke="#090909" stroke-width="1.30" stroke-linecap="butt" stroke-linejoin="round" opacity="0.9"/>
<polyline points="618.7,215.4 626.2,218.2" fill="none" stroke="#121212" stroke-width="0.70" stroke-linecap="butt" stroke-linejoin="round" opacity="0.7"/>
<polyline points="605.3,209.3 615.4,208.2" fill="none" stroke="#090909" stroke-width="1.30" stroke-linecap="butt" stroke-linejoin="round" opacity="0.9"/>
<polyline points="625.6,212 637.9,221.3" fill="none" stroke="#090909" stroke-width="1.30" stroke-linecap="butt" stroke-linejoin="round" opacity="0.9"/>
<polyline points="616.9,209.6 624.4,212.4" fill="none" stroke="#121212" stroke-width="0.70" stroke-linecap="butt" stroke-linejoin="round" opacity="0.7"/>
<polyline points="603.7,203.4 614.2,201.9" fill="none" stroke="#090909" stroke-width="1.30" stroke-linecap="butt" stroke-linejoin="round" opacity="0.9"/>
<polyline points="624.4,205.6 636.3,215.4" fill="none" stroke="#090909" stroke-width="1.30" stroke-linecap="butt" stroke-linejoin="round" opacity="0.9"/>
<polyline points="615.7,203.3 623.2,206.1" fill="none" stroke="#121212" stroke-width="0.70" stroke-linecap="butt" stroke-linejoin="round" opacity="0.7"/>
<polyline points="602.6,197 613.7,195.1" fill="none" stroke="#090909" stroke-width="1.30" stroke-linecap="butt" stroke-linejoin="round" opacity="0.9"/>
<polyline points="623.9,198.9 635.2,209" fill="none" stroke="#090909" stroke-width="1.30" stroke-linecap="butt" stroke-linejoin="round" opacity="0.9"/>
<polyline points="615.1,196.7 622.6,199.4" fill="none" stroke="#121212" stroke-width="0.70" stroke-linecap="butt" stroke-linejoin="round" opacity="0.7"/>
<polyline points="602.1,190.2 613.7,188.1" fill="none" stroke="#090909" stroke-width="1.30" stroke-linecap="butt" stroke-linejoin="round" opacity="0.9"/>
<polyline points="623.9,191.9 634.8,202.2" fill="none" stroke="#090909" stroke-width="1.30" stroke-linecap="butt" stroke-linejoin="round" opacity="0.9"/>
<polyline points="615.1,189.7 622.5,192.5" fill="none" stroke="#121212" stroke-width="0.70" stroke-linecap="butt" stroke-linejoin="round" opacity="0.7"/>
<polyline points="602.2,183.2 614.4,180.9" fill="none" stroke="#090909" stroke-width="1.30" stroke-linecap="butt" stroke-linejoin="round" opacity="0.9"/>
<polyline points="624.6,184.7 634.9,195.2" fill="none" stroke="#090909" stroke-width="1.30" stroke-linecap="butt" stroke-linejoin="round" opacity="0.9"/>
<polyline points="615.6,182.5 623.1,185.3" fill="none" stroke="#121212" stroke-width="0.70" stroke-linecap="butt" stroke-linejoin="round" opacity="0.7"/>
<polyline points="602.9,176 615.6,173.6" fill="none" stroke="#090909" stroke-width="1.30" stroke-linecap="butt" stroke-linejoin="round" opacity="0.9"/>
<polyline points="625.8,177.4 635.5,188" fill="none" stroke="#090909" stroke-width="1.30" stroke-linecap="butt" stroke-linejoin="round" opacity="0.9"/>
<polyline points="616.7,175.2 624.2,178" fill="none" stroke="#121212" stroke-width="0.70" stroke-linecap="butt" stroke-linejoin="round" opacity="0.7"/>
<polyline points="604.1,168.7 617.3,166.3" fill="none" stroke="#090909" stroke-width="1.30" stroke-linecap="butt" stroke-linejoin="round" opacity="0.9"/>
<polyline points="627.5,170 636.8,180.7" fill="none" stroke="#090909" stroke-width="1.30" stroke-linecap="butt" stroke-linejoin="round" opacity="0.9"/>
<polyline points="618.4,167.9 625.8,170.6" fill="none" stroke="#121212" stroke-width="0.70" stroke-linecap="butt" stroke-linejoin="round" opacity="0.7"/>
<polyline points="605.9,161.4 619.6,159.1" fill="none" stroke="#090909" stroke-width="1.30" stroke-linecap="butt" stroke-linejoin="round" opacity="0.9"/>
<polyline points="629.8,162.8 638.6,173.4" fill="none" stroke="#090909" stroke-width="1.30" stroke-linecap="butt" stroke-linejoin="round" opacity="0.9"/>
<polyline points="620.6,160.6 628,163.4" fill="none" stroke="#121212" stroke-width="0.70" stroke-linecap="butt" stroke-linejoin="round" opacity="0.7"/>
<polyline points="608.3,154.1 622.4,152" fill="none" stroke="#090909" stroke-width="1.30" stroke-linecap="butt" stroke-linejoin="round" opacity="0.9"/>
<polyline points="632.6,155.8 640.9,166.1" fill="none" stroke="#090909" stroke-width="1.30" stroke-linecap="butt" stroke-linejoin="round" opacity="0.9"/>
<polyline points="623.3,153.6 630.7,156.3" fill="none" stroke="#121212" stroke-width="0.70" stroke-linecap="butt" stroke-linejoin="round" opacity="0.7"/>
<polyline points="611.1,147.1 625.6,145.3" fill="none" stroke="#090909" stroke-width="1.30" stroke-linecap="butt" stroke-linejoin="round" opacity="0.9"/>
<polyline points="635.8,149 643.7,159.1" fill="none" stroke="#090909" stroke-width="1.30" stroke-linecap="butt" stroke-linejoin="round" opacity="0.9"/>
<polyline points="626.4,146.8 633.9,149.5" fill="none" stroke="#121212" stroke-width="0.70" stroke-linecap="butt" stroke-linejoin="round" opacity="0.7"/>
<polyline points="614.4,140.4 629.3,138.9" fill="none" stroke="#090909" stroke-width="1.30" stroke-linecap="butt" stroke-linejoin="round" opacity="0.9"/>
<polyline points="639.5,142.6 647,152.4" fill="none" stroke="#090909" stroke-width="1.30" stroke-linecap="butt" stroke-linejoin="round" opacity="0.9"/>
<polyline points="630,140.3 637.5,143.1" fill="none" stroke="#121212" stroke-width="0.70" stroke-linecap="butt" stroke-linejoin="round" opacity="0.7"/>
<polyline points="618.1,134.1 633.3,133" fill="none" stroke="#090909" stroke-width="1.30" stroke-linecap="butt" stroke-linejoin="round" opacity="0.9"/>
<polyline points="643.5,136.7 650.7,146.1" fill="none" stroke="#090909" stroke-width="1.30" stroke-linecap="butt" stroke-linejoin="round" opacity="0.9"/>
<polyline points="634,134.3 641.5,137.1" fill="none" stroke="#121212" stroke-width="0.70" stroke-linecap="butt" stroke-linejoin="round" opacity="0.7"/>
<polyline points="622.1,128.2 637.6,127.6" fill="none" stroke="#090909" stroke-width="1.30" stroke-linecap="butt" stroke-linejoin="round" opacity="0.9"/>
<polyline points="647.8,131.3 654.8,140.2" fill="none" stroke="#090909" stroke-width="1.30" stroke-linecap="butt" stroke-linejoin="round" opacity="0.9"/>
<polyline points="638.3,128.9 645.8,131.6" fill="none" stroke="#121212" stroke-width="0.70" stroke-linecap="butt" stroke-linejoin="round" opacity="0.7"/>
<polyline points="626.5,122.9 642.3,122.8" fill="none" stroke="#090909" stroke-width="1.30" stroke-linecap="butt" stroke-linejoin="round" opacity="0.9"/>
<polyline points="652.5,126.6 659.1,134.9" fill="none" stroke="#090909" stroke-width="1.30" stroke-linecap="butt" stroke-linejoin="round" opacity="0.9"/>
<polyline points="642.9,124 650.4,126.7" fill="none" stroke="#121212" stroke-width="0.70" stroke-linecap="butt" stroke-linejoin="round" opacity="0.7"/>
<polyline points="631.1,118.1 647.1,118.7" fill="none" stroke="#090909" stroke-width="1.30" stroke-linecap="butt" stroke-linejoin="round" opacity="0.9"/>
<polyline points="657.3,122.5 663.8,130.1" fill="none" stroke="#090909" stroke-width="1.30" stroke-linecap="butt" stroke-linejoin="round" opacity="0.9"/>
<polyline points="647.7,119.8 655.2,122.5" fill="none" stroke="#121212" stroke-width="0.70" stroke-linecap="butt" stroke-linejoin="round" opacity="0.7"/>
<polyline points="636,114.1 652,115.3" fill="none" stroke="#090909" stroke-width="1.30" stroke-linecap="butt" stroke-linejoin="round" opacity="0.9"/>
<polyline points="662.2,119.1 668.6,126.1" fill="none" stroke="#090909" stroke-width="1.30" stroke-linecap="butt" stroke-linejoin="round" opacity="0.9"/>
<polyline points="652.6,116.3 660.1,119" fill="none" stroke="#121212" stroke-width="0.70" stroke-linecap="butt" stroke-linejoin="round" opacity="0.7"/>
<polyline points="640.9,110.8 657,112.7" fill="none" stroke="#090909" stroke-width="1.30" stroke-linecap="butt" stroke-linejoin="round" opacity="0.9"/>
<polyline points="667.2,116.5 673.6,122.8" fill="none" stroke="#090909" stroke-width="1.30" stroke-linecap="butt" stroke-linejoin="round" opacity="0.9"/>
<polyline points="657.6,113.6 665.1,116.3" fill="none" stroke="#121212" stroke-width="0.70" stroke-linecap="butt" stroke-linejoin="round" opacity="0.7"/>
<polyline points="645.9,108.3 662.1,110.9" fill="none" stroke="#090909" stroke-width="1.30" stroke-linecap="butt" stroke-linejoin="round" opacity="0.9"/>
<polyline points="672.3,114.7 678.6,120.3" fill="none" stroke="#090909" stroke-width="1.30" stroke-linecap="butt" stroke-linejoin="round" opacity="0.9"/>
<polyline points="662.7,111.6 670.1,114.4" fill="none" stroke="#121212" stroke-width="0.70" stroke-linecap="butt" stroke-linejoin="round" opacity="0.7"/>
<polyline points="651,106.6 667,110" fill="none" stroke="#090909" stroke-width="1.30" stroke-linecap="butt" stroke-linejoin="round" opacity="0.9"/>
<polyline points="677.2,113.7 683.6,118.6" fill="none" stroke="#090909" stroke-width="1.30" stroke-linecap="butt" stroke-linejoin="round" opacity="0.9"/>
<polyline points="667.6,110.6 675.1,113.3" fill="none" stroke="#121212" stroke-width="0.70" stroke-linecap="butt" stroke-linejoin="round" opacity="0.7"/>
<polyline points="655.9,105.7 671.8,109.8" fill="none" stroke="#090909" stroke-width="1.30" stroke-linecap="butt" stroke-linejoin="round" opacity="0.9"/>
<polyline points="682,113.6 688.5,117.7" fill="none" stroke="#090909" stroke-width="1.30" stroke-linecap="butt" stroke-linejoin="round" opacity="0.9"/>
<polyline points="672.5,110.3 679.9,113.1" fill="none" stroke="#121212" stroke-width="0.70" stroke-linecap="butt" stroke-linejoin="round" opacity="0.7"/>
<polyline points="660.7,105.6 676.5,110.6" fill="none" stroke="#090909" stroke-width="1.30" stroke-linecap="butt" stroke-linejoin="round" opacity="0.9"/>
<polyline points="686.7,114.3 693.3,117.6" fill="none" stroke="#090909" stroke-width="1.30" stroke-linecap="butt" stroke-linejoin="round" opacity="0.9"/>
<polyline points="677.1,110.9 684.6,113.7" fill="none" stroke="#121212" stroke-width="0.70" stroke-linecap="butt" stroke-linejoin="round" opacity="0.7"/>
<polyline points="664.2,238.3 659.8,239.5 655.6,240.1 651.5,240.1 647.5,239.4 643.7,238.2 640.1,236.3 636.8,233.8 633.8,230.7 631.1,227.1 628.8,223 626.8,218.4 625.3,213.5 624.2,208.1 623.5,202.5 623.2,196.5 623.3,190.4 623.9,184.2 624.9,177.9 626.3,171.5 628.2,165.3 630.4,159.1 633,153.1 635.9,147.3 639.1,141.9 642.6,136.8 646.3,132.1 650.3,127.8 654.4,124 658.6,120.8 662.9,118.1 667.2,115.9 671.6,114.4 675.8,113.5 680,113.3 684.1,113.7 688,114.7" fill="none" stroke="#070707" stroke-width="1.50" stroke-linecap="butt" stroke-linejoin="round" opacity="0.9"/>
<polyline points="655.3,235.1 651,236.3 646.8,236.9 642.6,236.9 638.6,236.2 634.8,234.9 631.3,233 628,230.5 625,227.5 622.3,223.9 620,219.7 618,215.2 616.5,210.2 615.3,204.9 614.6,199.2 614.3,193.3 614.5,187.2 615.1,180.9 616.1,174.6 617.5,168.3 619.3,162 621.5,155.8 624.1,149.8 627,144.1 630.3,138.6 633.7,133.5 637.5,128.8 641.4,124.5 645.5,120.8 649.7,117.5 654,114.8 658.4,112.7 662.7,111.2 667,110.3 671.2,110 675.3,110.4 679.1,111.4" fill="none" stroke="#070707" stroke-width="1.50" stroke-linecap="butt" stroke-linejoin="round" opacity="0.9"/>
<polyline points="659.7,236.7 655.4,237.9 651.2,238.5 647,238.5 643,237.8 639.2,236.5 635.7,234.6 632.4,232.1 629.4,229.1 626.7,225.5 624.4,221.4 622.4,216.8 620.9,211.8 619.7,206.5 619,200.8 618.8,194.9 618.9,188.8 619.5,182.6 620.5,176.2 621.9,169.9 623.8,163.6 626,157.5 628.5,151.5 631.5,145.7 634.7,140.3 638.2,135.1 641.9,130.4 645.8,126.2 649.9,122.4 654.2,119.1 658.5,116.4 662.8,114.3 667.1,112.8 671.4,111.9 675.6,111.7 679.7,112 683.6,113" fill="none" stroke="#474747" stroke-width="0.90" stroke-linecap="butt" stroke-linejoin="round" opacity="0.9"/>
<polyline points="648.2,232.4 643.9,233.7 639.6,234.3 635.5,234.2 631.5,233.6 627.7,232.3 624.1,230.4 620.8,227.9 617.8,224.8 615.1,221.2 612.8,217.1 610.9,212.6 609.3,207.6 608.2,202.2 607.5,196.6 607.2,190.7 607.3,184.6 607.9,178.3 608.9,172 610.4,165.7 612.2,159.4 614.4,153.2 617,147.2 619.9,141.5 623.1,136 626.6,130.9 630.3,126.2 634.3,121.9 638.4,118.1 642.6,114.9 646.9,112.2 651.2,110.1 655.6,108.6 659.9,107.7 664.1,107.4 668.1,107.8 672,108.8" fill="none" stroke="#444" stroke-width="0.70" stroke-linecap="butt" stroke-linejoin="round" opacity="0.9"/>
<polyline points="671.6,241.1 667.3,242.3 663.1,242.9 658.9,242.9 654.9,242.2 651.1,240.9 647.6,239 644.3,236.5 641.3,233.5 638.6,229.9 636.3,225.7 634.3,221.2 632.8,216.2 631.6,210.9 630.9,205.2 630.7,199.3 630.8,193.2 631.4,186.9 632.4,180.6 633.8,174.3 635.7,168 637.9,161.8 640.4,155.8 643.4,150.1 646.6,144.6 650.1,139.5 653.8,134.8 657.7,130.5 661.8,126.8 666.1,123.5 670.4,120.8 674.7,118.7 679,117.2 683.3,116.3 687.5,116 691.6,116.4 695.5,117.4" fill="none" stroke="#444" stroke-width="0.70" stroke-linecap="butt" stroke-linejoin="round" opacity="0.9"/>
<polygon points="723.1,164 722.4,173.8 720.7,183.7 717.9,193.6 714.2,203.2 709.7,212.3 704.4,220.6 698.5,227.9 692.1,234.1 685.4,239 678.6,242.5 671.8,244.5 665.2,244.9 659,243.8 653.2,241.1 648.1,237 643.8,231.5 640.4,224.8 637.9,217 636.5,208.3 636.1,199 636.8,189.2 638.5,179.3 641.3,169.4 645,159.8 649.5,150.7 654.8,142.4 660.7,135.1 667.1,128.9 673.8,124 680.6,120.5 687.4,118.5 694,118.1 700.2,119.2 706,121.9 711.1,126 715.4,131.5 718.8,138.2 721.3,146 722.7,154.7 723.1,164" fill="#2c2c2c" stroke="#505050" stroke-width="0.90" stroke-linejoin="round"/>
<polygon points="720.9,164.9 720.3,174.1 718.6,183.6 716,193 712.5,202.1 708.1,210.7 703.1,218.6 697.5,225.6 691.5,231.5 685.1,236.1 678.6,239.4 672.2,241.3 665.9,241.8 660,240.7 654.5,238.2 649.7,234.2 645.6,229 642.3,222.6 640,215.2 638.6,207 638.3,198.1 638.9,188.9 640.6,179.4 643.2,170 646.7,160.9 651.1,152.3 656.1,144.4 661.7,137.4 667.7,131.5 674.1,126.9 680.6,123.6 687,121.7 693.3,121.2 699.2,122.3 704.7,124.8 709.5,128.8 713.6,134 716.9,140.4 719.2,147.8 720.6,156 720.9,164.9" fill="#242424" stroke="#0e0e0e" stroke-width="0.60" stroke-linejoin="round"/>
<polygon points="718.5,165.8 717.9,174.6 716.4,183.5 713.9,192.3 710.6,200.9 706.5,209 701.8,216.5 696.5,223 690.8,228.6 684.8,233 678.7,236.1 672.6,237.9 666.7,238.3 661.1,237.3 656,234.9 651.4,231.2 647.6,226.3 644.5,220.2 642.3,213.3 641,205.5 640.7,197.2 641.3,188.4 642.8,179.5 645.3,170.7 648.6,162.1 652.7,154 657.4,146.5 662.7,140 668.4,134.4 674.4,130 680.5,126.9 686.6,125.1 692.5,124.7 698.1,125.7 703.2,128.1 707.8,131.8 711.6,136.7 714.7,142.8 716.9,149.7 718.2,157.5 718.5,165.8" fill="#a6a09b" stroke="#5d5a58" stroke-width="0.70" stroke-linejoin="round"/>
<clipPath id="clip_r"><polygon points="717.4,166.3 716.6,175.7 714.8,185.3 711.9,194.8 708,203.9 703.2,212.3 697.7,219.8 691.7,226.1 685.3,231 678.7,234.5 672.2,236.3 665.9,236.5 660,235 654.7,231.8 650.1,227.2 646.5,221.1 643.8,213.9 642.3,205.7 641.8,196.7 642.6,187.3 644.4,177.7 647.3,168.2 651.2,159.1 656,150.7 661.5,143.2 667.5,136.9 673.9,132 680.5,128.5 687,126.7 693.3,126.5 699.2,128 704.5,131.2 709.1,135.8 712.7,141.9 715.4,149.1 716.9,157.3 717.4,166.3"/></clipPath>
<g clip-path="url(#clip_r)">
<polygon points="676.8,181.9 649.2,193 649.8,159.7 677.4,148.6" fill="#3a3a3a" stroke="#1a1a1a" stroke-width="0.50" stroke-linejoin="round"/>
<polygon points="673,179.2 657.1,185.6 657.5,160.9 673.4,154.5" fill="#2c2c2c" stroke="#181818" stroke-width="0.50" stroke-linejoin="round"/>
<polygon points="670,176.7 660.7,180.5 660.9,164.3 670.3,160.6" fill="#8a9098" stroke="#1c1c1c" stroke-width="0.40" stroke-linejoin="round"/>
<polygon points="676.7,189.8 649.1,200.9 648.5,234.2 676.2,223" fill="#3a3a3a" stroke="#1a1a1a" stroke-width="0.50" stroke-linejoin="round"/>
<polygon points="672.7,195.6 656.8,202 656.4,226.7 672.3,220.4" fill="#2c2c2c" stroke="#181818" stroke-width="0.50" stroke-linejoin="round"/>
<polygon points="669.6,200.5 660.3,204.3 660,220.5 669.4,216.7" fill="#222" stroke="#1c1c1c" stroke-width="0.40" stroke-linejoin="round"/>
<polygon points="682.5,179.6 710.1,168.5 710.7,135.2 683,146.4" fill="#3a3a3a" stroke="#1a1a1a" stroke-width="0.50" stroke-linejoin="round"/>
<polygon points="686.5,173.8 702.4,167.4 702.8,142.7 686.9,149" fill="#2c2c2c" stroke="#181818" stroke-width="0.50" stroke-linejoin="round"/>
<polygon points="689.6,168.9 698.9,165.1 699.2,148.9 689.8,152.7" fill="#222" stroke="#1c1c1c" stroke-width="0.40" stroke-linejoin="round"/>
<polygon points="682.4,187.5 710,176.4 709.4,209.7 681.8,220.8" fill="#3a3a3a" stroke="#1a1a1a" stroke-width="0.50" stroke-linejoin="round"/>
<polygon points="686.2,190.2 702.1,183.8 701.7,208.5 685.8,214.9" fill="#2c2c2c" stroke="#181818" stroke-width="0.50" stroke-linejoin="round"/>
<polygon points="689.2,192.7 698.5,188.9 698.3,205.1 688.9,208.8" fill="#222" stroke="#1c1c1c" stroke-width="0.40" stroke-linejoin="round"/>
<ellipse cx="687.2" cy="169.5" rx="3.2" ry="4.2" fill="#8e1a1a"/>
<ellipse cx="686.4" cy="189.8" rx="2.8" ry="3.2" fill="#8e1a1a"/>
</g>
<ellipse cx="678.4" cy="179.7" rx="1.7" ry="1.7" fill="#8a8a8a" stroke="#1a1a1a" stroke-width="0.60"/>
<ellipse cx="683.1" cy="181.5" rx="1.7" ry="1.7" fill="#8a8a8a" stroke="#1a1a1a" stroke-width="0.60"/>
<ellipse cx="680.8" cy="189.7" rx="1.7" ry="1.7" fill="#8a8a8a" stroke="#1a1a1a" stroke-width="0.60"/>
<ellipse cx="676.1" cy="187.9" rx="1.7" ry="1.7" fill="#8a8a8a" stroke="#1a1a1a" stroke-width="0.60"/>
</g>
<polygon points="238,316 252,318 252,342 238,338" fill="#6d6d73" stroke="#3c3c40" stroke-width="0.40" stroke-linejoin="round"/>
<polygon points="242.9,281 264.1,281 264.1,319 242.9,319" fill="#3a1a1a"/>
<polyline points="234.5,281 234.7,279.8 235.4,278.7 236.6,277.5 238.1,276.5 240.1,275.6 242.3,274.9 244.9,274.2 247.6,273.8 250.5,273.5 253.5,273.4 256.5,273.5 259.4,273.8 262.1,274.2 264.7,274.9 266.9,275.6 268.9,276.5 270.4,277.5 271.6,278.7 272.3,279.8 272.5,281" fill="none" stroke="#8f1414" stroke-width="3.00" stroke-linecap="butt" stroke-linejoin="round"/>
<polyline points="234.5,288.6 234.7,287.4 235.4,286.3 236.6,285.1 238.1,284.1 240.1,283.2 242.3,282.5 244.9,281.8 247.6,281.4 250.5,281.1 253.5,281 256.5,281.1 259.4,281.4 262.1,281.8 264.7,282.5 266.9,283.2 268.9,284.1 270.4,285.1 271.6,286.3 272.3,287.4 272.5,288.6" fill="none" stroke="#8f1414" stroke-width="3.00" stroke-linecap="butt" stroke-linejoin="round"/>
<polyline points="234.5,296.2 234.7,295 235.4,293.9 236.6,292.7 238.1,291.7 240.1,290.8 242.3,290.1 244.9,289.4 247.6,289 250.5,288.7 253.5,288.6 256.5,288.7 259.4,289 262.1,289.4 264.7,290.1 266.9,290.8 268.9,291.7 270.4,292.7 271.6,293.9 272.3,295 272.5,296.2" fill="none" stroke="#8f1414" stroke-width="3.00" stroke-linecap="butt" stroke-linejoin="round"/>
<polyline points="234.5,303.8 234.7,302.6 235.4,301.5 236.6,300.3 238.1,299.3 240.1,298.4 242.3,297.7 244.9,297 247.6,296.6 250.5,296.3 253.5,296.2 256.5,296.3 259.4,296.6 262.1,297 264.7,297.7 266.9,298.4 268.9,299.3 270.4,300.3 271.6,301.5 272.3,302.6 272.5,303.8" fill="none" stroke="#8f1414" stroke-width="3.00" stroke-linecap="butt" stroke-linejoin="round"/>
<polyline points="234.5,311.4 234.7,310.2 235.4,309.1 236.6,307.9 238.1,306.9 240.1,306 242.3,305.3 244.9,304.6 247.6,304.2 250.5,303.9 253.5,303.8 256.5,303.9 259.4,304.2 262.1,304.6 264.7,305.3 266.9,306 268.9,306.9 270.4,307.9 271.6,309.1 272.3,310.2 272.5,311.4" fill="none" stroke="#8f1414" stroke-width="3.00" stroke-linecap="butt" stroke-linejoin="round"/>
<polyline points="234.5,319 234.7,317.8 235.4,316.7 236.6,315.5 238.1,314.5 240.1,313.6 242.3,312.9 244.9,312.2 247.6,311.8 250.5,311.5 253.5,311.4 256.5,311.5 259.4,311.8 262.1,312.2 264.7,312.9 266.9,313.6 268.9,314.5 270.4,315.5 271.6,316.7 272.3,317.8 272.5,319" fill="none" stroke="#8f1414" stroke-width="3.00" stroke-linecap="butt" stroke-linejoin="round"/>
<polyline points="272.4,282.4 272.3,283.6 271.7,284.9 270.7,286.1 269.3,287.3 267.4,288.4 265.2,289.4 262.8,290.3 260.1,291 257.2,291.6 254.3,292 251.3,292.2 248.4,292.2 245.6,292.1 243,291.7 240.7,291.2 238.7,290.5 237,289.6 235.8,288.6 235,287.6 234.6,286.4" fill="none" stroke="#d3211f" stroke-width="3.80" stroke-linecap="butt" stroke-linejoin="round"/>
<polyline points="270.3,285.7 268.5,287 266.3,288.1 263.6,289.2 260.7,290 257.6,290.7 254.3,291.2 251,291.4 247.8,291.4 244.7,291.2 242,290.7 239.5,290 237.5,289.1" fill="none" stroke="#ef5a50" stroke-width="0.80" stroke-linecap="butt" stroke-linejoin="round"/>
<polyline points="272.4,290 272.3,291.2 271.7,292.5 270.7,293.7 269.3,294.9 267.4,296 265.2,297 262.8,297.9 260.1,298.6 257.2,299.2 254.3,299.6 251.3,299.8 248.4,299.8 245.6,299.7 243,299.3 240.7,298.8 238.7,298.1 237,297.2 235.8,296.2 235,295.2 234.6,294" fill="none" stroke="#d3211f" stroke-width="3.80" stroke-linecap="butt" stroke-linejoin="round"/>
<polyline points="270.3,293.3 268.5,294.6 266.3,295.7 263.6,296.8 260.7,297.6 257.6,298.3 254.3,298.8 251,299 247.8,299 244.7,298.8 242,298.3 239.5,297.6 237.5,296.7" fill="none" stroke="#ef5a50" stroke-width="0.80" stroke-linecap="butt" stroke-linejoin="round"/>
<polyline points="272.4,297.6 272.3,298.8 271.7,300.1 270.7,301.3 269.3,302.5 267.4,303.6 265.2,304.6 262.8,305.5 260.1,306.2 257.2,306.8 254.3,307.2 251.3,307.4 248.4,307.4 245.6,307.3 243,306.9 240.7,306.4 238.7,305.7 237,304.8 235.8,303.8 235,302.8 234.6,301.6" fill="none" stroke="#d3211f" stroke-width="3.80" stroke-linecap="butt" stroke-linejoin="round"/>
<polyline points="270.3,300.9 268.5,302.2 266.3,303.3 263.6,304.4 260.7,305.2 257.6,305.9 254.3,306.4 251,306.6 247.8,306.6 244.7,306.4 242,305.9 239.5,305.2 237.5,304.3" fill="none" stroke="#ef5a50" stroke-width="0.80" stroke-linecap="butt" stroke-linejoin="round"/>
<polyline points="272.4,305.2 272.3,306.4 271.7,307.7 270.7,308.9 269.3,310.1 267.4,311.2 265.2,312.2 262.8,313.1 260.1,313.8 257.2,314.4 254.3,314.8 251.3,315 248.4,315 245.6,314.9 243,314.5 240.7,314 238.7,313.3 237,312.4 235.8,311.4 235,310.4 234.6,309.2" fill="none" stroke="#d3211f" stroke-width="3.80" stroke-linecap="butt" stroke-linejoin="round"/>
<polyline points="270.3,308.5 268.5,309.8 266.3,310.9 263.6,312 260.7,312.8 257.6,313.5 254.3,314 251,314.2 247.8,314.2 244.7,314 242,313.5 239.5,312.8 237.5,311.9" fill="none" stroke="#ef5a50" stroke-width="0.80" stroke-linecap="butt" stroke-linejoin="round"/>
<polyline points="272.4,312.8 272.3,314 271.7,315.3 270.7,316.5 269.3,317.7 267.4,318.8 265.2,319.8 262.8,320.7 260.1,321.4 257.2,322 254.3,322.4 251.3,322.6 248.4,322.6 245.6,322.5 243,322.1 240.7,321.6 238.7,320.9 237,320 235.8,319 235,318 234.6,316.8" fill="none" stroke="#d3211f" stroke-width="3.80" stroke-linecap="butt" stroke-linejoin="round"/>
<polyline points="270.3,316.1 268.5,317.4 266.3,318.5 263.6,319.6 260.7,320.4 257.6,321.1 254.3,321.6 251,321.8 247.8,321.8 244.7,321.6 242,321.1 239.5,320.4 237.5,319.5" fill="none" stroke="#ef5a50" stroke-width="0.80" stroke-linecap="butt" stroke-linejoin="round"/>
<polyline points="272.4,320.4 272.3,321.6 271.7,322.9 270.7,324.1 269.3,325.3 267.4,326.4 265.2,327.4 262.8,328.3 260.1,329 257.2,329.6 254.3,330 251.3,330.2 248.4,330.2 245.6,330.1 243,329.7 240.7,329.2 238.7,328.5 237,327.6 235.8,326.6 235,325.6 234.6,324.4" fill="none" stroke="#d3211f" stroke-width="3.80" stroke-linecap="butt" stroke-linejoin="round"/>
<polyline points="270.3,323.7 268.5,325 266.3,326.1 263.6,327.2 260.7,328 257.6,328.7 254.3,329.2 251,329.4 247.8,329.4 244.7,329.2 242,328.7 239.5,328 237.5,327.1" fill="none" stroke="#ef5a50" stroke-width="0.80" stroke-linecap="butt" stroke-linejoin="round"/>
<ellipse cx="253.5" cy="274" rx="21.1" ry="9.6" fill="#1e1e1e"/>
<ellipse cx="253.5" cy="271" rx="27" ry="12" fill="#333" stroke="#161616" stroke-width="0.60"/>
<ellipse cx="253.5" cy="268" rx="26.2" ry="11" fill="#3d3d3d" stroke="#222" stroke-width="0.50"/>
<ellipse cx="253.5" cy="266" rx="17.8" ry="7.4" fill="#2c2c2c" stroke="#181818" stroke-width="0.50"/>
<ellipse cx="253.5" cy="265.5" rx="5.4" ry="2.9" fill="#b9b9b9" stroke="#555" stroke-width="0.50"/>
<ellipse cx="264.2" cy="267.1" rx="1.8" ry="1" fill="#0d0d0d"/>
<ellipse cx="253.1" cy="270.3" rx="1.8" ry="1" fill="#0d0d0d"/>
<ellipse cx="242.6" cy="266.8" rx="1.8" ry="1" fill="#0d0d0d"/>
<ellipse cx="247.2" cy="261.5" rx="1.8" ry="1" fill="#0d0d0d"/>
<ellipse cx="260.5" cy="261.7" rx="1.8" ry="1" fill="#0d0d0d"/>
<g>
<polygon points="236.6,367 237.5,357.2 239.5,347.2 242.4,337.3 246.3,327.8 251.1,318.8 256.6,310.5 262.6,303.3 269.1,297.2 275.9,292.4 282.8,289.1 289.6,287.3 296.2,287 302.5,288.3 342.5,299.3 348.2,302.1 353.2,306.4 357.4,312.1 360.7,318.9 363,326.8 364.2,335.6 364.4,345 363.5,354.8 361.5,364.8 358.6,374.7 354.7,384.2 349.9,393.2 344.4,401.5 338.4,408.7 331.9,414.8 325.1,419.6 318.2,422.9 311.4,424.7 304.8,425 298.5,423.7 258.5,412.7 252.8,409.9 247.8,405.6 243.6,399.9 240.3,393.1 238,385.2 236.8,376.4" fill="#2f2f2f" stroke="#0c0c0c" stroke-width="0.70" stroke-linejoin="round"/>
<polyline points="272.9,413.5 282,417.8" fill="none" stroke="#090909" stroke-width="1.30" stroke-linecap="butt" stroke-linejoin="round" opacity="0.9"/>
<polyline points="294,421.1 311.3,424" fill="none" stroke="#090909" stroke-width="1.30" stroke-linecap="butt" stroke-linejoin="round" opacity="0.9"/>
<polyline points="284.3,418.2 293.1,420.6" fill="none" stroke="#121212" stroke-width="0.70" stroke-linecap="butt" stroke-linejoin="round" opacity="0.7"/>
<polyline points="267.9,414.1 277.2,417.6" fill="none" stroke="#090909" stroke-width="1.30" stroke-linecap="butt" stroke-linejoin="round" opacity="0.9"/>
<polyline points="289.2,420.9 306.3,424.6" fill="none" stroke="#090909" stroke-width="1.30" stroke-linecap="butt" stroke-linejoin="round" opacity="0.9"/>
<polyline points="279.5,418.1 288.3,420.6" fill="none" stroke="#121212" stroke-width="0.70" stroke-linecap="butt" stroke-linejoin="round" opacity="0.7"/>
<polyline points="263.2,413.8 272.6,416.6" fill="none" stroke="#090909" stroke-width="1.30" stroke-linecap="butt" stroke-linejoin="round" opacity="0.9"/>
<polyline points="284.6,419.9 301.6,424.4" fill="none" stroke="#090909" stroke-width="1.30" stroke-linecap="butt" stroke-linejoin="round" opacity="0.9"/>
<polyline points="274.9,417.3 283.7,419.7" fill="none" stroke="#121212" stroke-width="0.70" stroke-linecap="butt" stroke-linejoin="round" opacity="0.7"/>
<polyline points="258.6,412.7 268.3,414.8" fill="none" stroke="#090909" stroke-width="1.30" stroke-linecap="butt" stroke-linejoin="round" opacity="0.9"/>
<polyline points="280.3,418.1 297,423.3" fill="none" stroke="#090909" stroke-width="1.30" stroke-linecap="butt" stroke-linejoin="round" opacity="0.9"/>
<polyline points="270.6,415.5 279.4,418" fill="none" stroke="#121212" stroke-width="0.70" stroke-linecap="butt" stroke-linejoin="round" opacity="0.7"/>
<polyline points="254.4,410.8 264.4,412.1" fill="none" stroke="#090909" stroke-width="1.30" stroke-linecap="butt" stroke-linejoin="round" opacity="0.9"/>
<polyline points="276.4,415.4 292.8,421.4" fill="none" stroke="#090909" stroke-width="1.30" stroke-linecap="butt" stroke-linejoin="round" opacity="0.9"/>
<polyline points="266.6,413 275.4,415.4" fill="none" stroke="#121212" stroke-width="0.70" stroke-linecap="butt" stroke-linejoin="round" opacity="0.7"/>
<polyline points="250.5,408.1 260.9,408.7" fill="none" stroke="#090909" stroke-width="1.30" stroke-linecap="butt" stroke-linejoin="round" opacity="0.9"/>
<polyline points="272.9,412 288.9,418.7" fill="none" stroke="#090909" stroke-width="1.30" stroke-linecap="butt" stroke-linejoin="round" opacity="0.9"/>
<polyline points="263,409.7 271.8,412.1" fill="none" stroke="#121212" stroke-width="0.70" stroke-linecap="butt" stroke-linejoin="round" opacity="0.7"/>
<polyline points="247,404.6 257.8,404.6" fill="none" stroke="#090909" stroke-width="1.30" stroke-linecap="butt" stroke-linejoin="round" opacity="0.9"/>
<polyline points="269.8,407.9 285.4,415.2" fill="none" stroke="#090909" stroke-width="1.30" stroke-linecap="butt" stroke-linejoin="round" opacity="0.9"/>
<polyline points="259.8,405.7 268.6,408.1" fill="none" stroke="#121212" stroke-width="0.70" stroke-linecap="butt" stroke-linejoin="round" opacity="0.7"/>
<polyline points="243.9,400.4 255.2,399.7" fill="none" stroke="#090909" stroke-width="1.30" stroke-linecap="butt" stroke-linejoin="round" opacity="0.9"/>
<polyline points="267.2,403 282.3,411" fill="none" stroke="#090909" stroke-width="1.30" stroke-linecap="butt" stroke-linejoin="round" opacity="0.9"/>
<polyline points="257.1,400.9 265.9,403.4" fill="none" stroke="#121212" stroke-width="0.70" stroke-linecap="butt" stroke-linejoin="round" opacity="0.7"/>
<polyline points="241.3,395.5 253.1,394.3" fill="none" stroke="#090909" stroke-width="1.30" stroke-linecap="butt" stroke-linejoin="round" opacity="0.9"/>
<polyline points="265.1,397.6 279.7,406.1" fill="none" stroke="#090909" stroke-width="1.30" stroke-linecap="butt" stroke-linejoin="round" opacity="0.9"/>
<polyline points="255,395.6 263.8,398" fill="none" stroke="#121212" stroke-width="0.70" stroke-linecap="butt" stroke-linejoin="round" opacity="0.7"/>
<polyline points="239.3,390 251.5,388.4" fill="none" stroke="#090909" stroke-width="1.30" stroke-linecap="butt" stroke-linejoin="round" opacity="0.9"/>
<polyline points="263.5,391.7 277.7,400.6" fill="none" stroke="#090909" stroke-width="1.30" stroke-linecap="butt" stroke-linejoin="round" opacity="0.9"/>
<polyline points="253.3,389.7 262.1,392.2" fill="none" stroke="#121212" stroke-width="0.70" stroke-linecap="butt" stroke-linejoin="round" opacity="0.7"/>
<polyline points="237.8,384 250.5,381.9" fill="none" stroke="#090909" stroke-width="1.30" stroke-linecap="butt" stroke-linejoin="round" opacity="0.9"/>
<polyline points="262.5,385.2 276.2,394.6" fill="none" stroke="#090909" stroke-width="1.30" stroke-linecap="butt" stroke-linejoin="round" opacity="0.9"/>
<polyline points="252.3,383.4 261.1,385.8" fill="none" stroke="#121212" stroke-width="0.70" stroke-linecap="butt" stroke-linejoin="round" opacity="0.7"/>
<polyline points="236.9,377.6 250.1,375.2" fill="none" stroke="#090909" stroke-width="1.30" stroke-linecap="butt" stroke-linejoin="round" opacity="0.9"/>
<polyline points="262.1,378.5 275.3,388.1" fill="none" stroke="#090909" stroke-width="1.30" stroke-linecap="butt" stroke-linejoin="round" opacity="0.9"/>
<polyline points="251.8,376.6 260.6,379.1" fill="none" stroke="#121212" stroke-width="0.70" stroke-linecap="butt" stroke-linejoin="round" opacity="0.7"/>
<polyline points="236.5,370.8 250.3,368.1" fill="none" stroke="#090909" stroke-width="1.30" stroke-linecap="butt" stroke-linejoin="round" opacity="0.9"/>
<polyline points="262.3,371.4 274.9,381.3" fill="none" stroke="#090909" stroke-width="1.30" stroke-linecap="butt" stroke-linejoin="round" opacity="0.9"/>
<polyline points="251.9,369.6 260.7,372" fill="none" stroke="#121212" stroke-width="0.70" stroke-linecap="butt" stroke-linejoin="round" opacity="0.7"/>
<polyline points="236.8,363.7 251.1,360.9" fill="none" stroke="#090909" stroke-width="1.30" stroke-linecap="butt" stroke-linejoin="round" opacity="0.9"/>
<polyline points="263.1,364.2 275.2,374.2" fill="none" stroke="#090909" stroke-width="1.30" stroke-linecap="butt" stroke-linejoin="round" opacity="0.9"/>
<polyline points="252.6,362.4 261.4,364.8" fill="none" stroke="#121212" stroke-width="0.70" stroke-linecap="butt" stroke-linejoin="round" opacity="0.7"/>
<polyline points="237.6,356.4 252.5,353.5" fill="none" stroke="#090909" stroke-width="1.30" stroke-linecap="butt" stroke-linejoin="round" opacity="0.9"/>
<polyline points="264.5,356.8 276,367" fill="none" stroke="#090909" stroke-width="1.30" stroke-linecap="butt" stroke-linejoin="round" opacity="0.9"/>
<polyline points="253.8,355.1 262.6,357.5" fill="none" stroke="#121212" stroke-width="0.70" stroke-linecap="butt" stroke-linejoin="round" opacity="0.7"/>
<polyline points="239,349.1 254.4,346.2" fill="none" stroke="#090909" stroke-width="1.30" stroke-linecap="butt" stroke-linejoin="round" opacity="0.9"/>
<polyline points="266.4,349.5 277.4,359.7" fill="none" stroke="#090909" stroke-width="1.30" stroke-linecap="butt" stroke-linejoin="round" opacity="0.9"/>
<polyline points="255.6,347.7 264.4,350.2" fill="none" stroke="#121212" stroke-width="0.70" stroke-linecap="butt" stroke-linejoin="round" opacity="0.7"/>
<polyline points="241,341.8 256.8,339" fill="none" stroke="#090909" stroke-width="1.30" stroke-linecap="butt" stroke-linejoin="round" opacity="0.9"/>
<polyline points="268.8,342.3 279.4,352.3" fill="none" stroke="#090909" stroke-width="1.30" stroke-linecap="butt" stroke-linejoin="round" opacity="0.9"/>
<polyline points="258,340.5 266.8,342.9" fill="none" stroke="#121212" stroke-width="0.70" stroke-linecap="butt" stroke-linejoin="round" opacity="0.7"/>
<polyline points="243.4,334.6 259.7,332" fill="none" stroke="#090909" stroke-width="1.30" stroke-linecap="butt" stroke-linejoin="round" opacity="0.9"/>
<polyline points="271.7,335.3 281.8,345.1" fill="none" stroke="#090909" stroke-width="1.30" stroke-linecap="butt" stroke-linejoin="round" opacity="0.9"/>
<polyline points="260.8,333.4 269.6,335.9" fill="none" stroke="#121212" stroke-width="0.70" stroke-linecap="butt" stroke-linejoin="round" opacity="0.7"/>
<polyline points="246.4,327.6 263.1,325.2" fill="none" stroke="#090909" stroke-width="1.30" stroke-linecap="butt" stroke-linejoin="round" opacity="0.9"/>
<polyline points="275.1,328.5 284.8,338.1" fill="none" stroke="#090909" stroke-width="1.30" stroke-linecap="butt" stroke-linejoin="round" opacity="0.9"/>
<polyline points="264.2,326.7 273,329.1" fill="none" stroke="#121212" stroke-width="0.70" stroke-linecap="butt" stroke-linejoin="round" opacity="0.7"/>
<polyline points="249.8,320.9 266.9,318.9" fill="none" stroke="#090909" stroke-width="1.30" stroke-linecap="butt" stroke-linejoin="round" opacity="0.9"/>
<polyline points="278.9,322.2 288.2,331.5" fill="none" stroke="#090909" stroke-width="1.30" stroke-linecap="butt" stroke-linejoin="round" opacity="0.9"/>
<polyline points="267.9,320.3 276.7,322.7" fill="none" stroke="#121212" stroke-width="0.70" stroke-linecap="butt" stroke-linejoin="round" opacity="0.7"/>
<polyline points="253.7,314.6 271.1,313.1" fill="none" stroke="#090909" stroke-width="1.30" stroke-linecap="butt" stroke-linejoin="round" opacity="0.9"/>
<polyline points="283.1,316.4 292.1,325.2" fill="none" stroke="#090909" stroke-width="1.30" stroke-linecap="butt" stroke-linejoin="round" opacity="0.9"/>
<polyline points="272,314.3 280.8,316.8" fill="none" stroke="#121212" stroke-width="0.70" stroke-linecap="butt" stroke-linejoin="round" opacity="0.7"/>
<polyline points="257.9,308.8 275.5,307.7" fill="none" stroke="#090909" stroke-width="1.30" stroke-linecap="butt" stroke-linejoin="round" opacity="0.9"/>
<polyline points="287.5,311 296.3,319.4" fill="none" stroke="#090909" stroke-width="1.30" stroke-linecap="butt" stroke-linejoin="round" opacity="0.9"/>
<polyline points="276.5,309 285.3,311.4" fill="none" stroke="#121212" stroke-width="0.70" stroke-linecap="butt" stroke-linejoin="round" opacity="0.7"/>
<polyline points="262.4,303.5 280.3,303.1" fill="none" stroke="#090909" stroke-width="1.30" stroke-linecap="butt" stroke-linejoin="round" opacity="0.9"/>
<polyline points="292.3,306.4 300.8,314.1" fill="none" stroke="#090909" stroke-width="1.30" stroke-linecap="butt" stroke-linejoin="round" opacity="0.9"/>
<polyline points="281.1,304.2 289.9,306.6" fill="none" stroke="#121212" stroke-width="0.70" stroke-linecap="butt" stroke-linejoin="round" opacity="0.7"/>
<polyline points="267.1,298.9 285.2,299.1" fill="none" stroke="#090909" stroke-width="1.30" stroke-linecap="butt" stroke-linejoin="round" opacity="0.9"/>
<polyline points="297.2,302.4 305.5,309.5" fill="none" stroke="#090909" stroke-width="1.30" stroke-linecap="butt" stroke-linejoin="round" opacity="0.9"/>
<polyline points="286,300 294.8,302.5" fill="none" stroke="#121212" stroke-width="0.70" stroke-linecap="butt" stroke-linejoin="round" opacity="0.7"/>
<polyline points="272,295 290.2,295.8" fill="none" stroke="#090909" stroke-width="1.30" stroke-linecap="butt" stroke-linejoin="round" opacity="0.9"/>
<polyline points="302.2,299.1 310.4,305.5" fill="none" stroke="#090909" stroke-width="1.30" stroke-linecap="butt" stroke-linejoin="round" opacity="0.9"/>
<polyline points="291,296.7 299.8,299.1" fill="none" stroke="#121212" stroke-width="0.70" stroke-linecap="butt" stroke-linejoin="round" opacity="0.7"/>
<polyline points="277.1,291.8 295.3,293.3" fill="none" stroke="#090909" stroke-width="1.30" stroke-linecap="butt" stroke-linejoin="round" opacity="0.9"/>
<polyline points="307.3,296.6 315.5,302.3" fill="none" stroke="#090909" stroke-width="1.30" stroke-linecap="butt" stroke-linejoin="round" opacity="0.9"/>
<polyline points="296.1,294.1 304.9,296.5" fill="none" stroke="#121212" stroke-width="0.70" stroke-linecap="butt" stroke-linejoin="round" opacity="0.7"/>
<polyline points="282.1,289.4 300.3,291.6" fill="none" stroke="#090909" stroke-width="1.30" stroke-linecap="butt" stroke-linejoin="round" opacity="0.9"/>
<polyline points="312.3,294.9 320.5,299.9" fill="none" stroke="#090909" stroke-width="1.30" stroke-linecap="butt" stroke-linejoin="round" opacity="0.9"/>
<polyline points="301.2,292.2 310,294.7" fill="none" stroke="#121212" stroke-width="0.70" stroke-linecap="butt" stroke-linejoin="round" opacity="0.7"/>
<polyline points="287.2,287.8 305.3,290.8" fill="none" stroke="#090909" stroke-width="1.30" stroke-linecap="butt" stroke-linejoin="round" opacity="0.9"/>
<polyline points="317.3,294.1 325.6,298.3" fill="none" stroke="#090909" stroke-width="1.30" stroke-linecap="butt" stroke-linejoin="round" opacity="0.9"/>
<polyline points="306.2,291.3 315,293.7" fill="none" stroke="#121212" stroke-width="0.70" stroke-linecap="butt" stroke-linejoin="round" opacity="0.7"/>
<polyline points="292.2,287 310.1,290.8" fill="none" stroke="#090909" stroke-width="1.30" stroke-linecap="butt" stroke-linejoin="round" opacity="0.9"/>
<polyline points="322.1,294.1 330.6,297.6" fill="none" stroke="#090909" stroke-width="1.30" stroke-linecap="butt" stroke-linejoin="round" opacity="0.9"/>
<polyline points="311,291.2 319.8,293.6" fill="none" stroke="#121212" stroke-width="0.70" stroke-linecap="butt" stroke-linejoin="round" opacity="0.7"/>
<polyline points="297,287.1 314.7,291.6" fill="none" stroke="#090909" stroke-width="1.30" stroke-linecap="butt" stroke-linejoin="round" opacity="0.9"/>
<polyline points="326.7,294.9 335.4,297.6" fill="none" stroke="#090909" stroke-width="1.30" stroke-linecap="butt" stroke-linejoin="round" opacity="0.9"/>
<polyline points="315.7,291.9 324.5,294.3" fill="none" stroke="#121212" stroke-width="0.70" stroke-linecap="butt" stroke-linejoin="round" opacity="0.7"/>
<polyline points="301.5,419.3 297.1,420.4 292.9,420.9 288.7,420.7 284.7,420 281,418.6 277.4,416.6 274.2,414 271.2,410.8 268.6,407.1 266.4,402.9 264.6,398.3 263.1,393.2 262.1,387.8 261.5,382.1 261.3,376.1 261.6,370 262.3,363.7 263.5,357.4 265.1,351 267,344.8 269.4,338.6 272.1,332.6 275.1,326.9 278.4,321.5 282,316.4 285.9,311.8 289.9,307.6 294.1,303.9 298.4,300.7 302.7,298.1 307.1,296.1 311.5,294.7 315.8,293.9 320,293.8 324.1,294.2 327.9,295.4" fill="none" stroke="#070707" stroke-width="1.50" stroke-linecap="butt" stroke-linejoin="round" opacity="0.9"/>
<polyline points="291.1,416.4 286.7,417.5 282.5,418 278.3,417.9 274.3,417.1 270.6,415.7 267,413.7 263.8,411.1 260.8,407.9 258.2,404.2 256,400.1 254.2,395.4 252.7,390.4 251.7,384.9 251.1,379.2 250.9,373.3 251.2,367.1 251.9,360.8 253.1,354.5 254.7,348.2 256.6,341.9 259,335.7 261.7,329.8 264.7,324.1 268,318.6 271.6,313.6 275.5,308.9 279.5,304.7 283.7,301 288,297.9 292.3,295.3 296.7,293.2 301.1,291.8 305.4,291.1 309.6,290.9 313.7,291.4 317.5,292.5" fill="none" stroke="#070707" stroke-width="1.50" stroke-linecap="butt" stroke-linejoin="round" opacity="0.9"/>
<polyline points="296.3,417.8 291.9,419 287.7,419.4 283.5,419.3 279.5,418.5 275.8,417.1 272.2,415.1 269,412.5 266,409.4 263.4,405.7 261.2,401.5 259.4,396.8 257.9,391.8 256.9,386.4 256.3,380.7 256.1,374.7 256.4,368.6 257.1,362.3 258.3,355.9 259.9,349.6 261.8,343.3 264.2,337.2 266.9,331.2 269.9,325.5 273.2,320.1 276.8,315 280.7,310.4 284.7,306.2 288.9,302.5 293.2,299.3 297.5,296.7 301.9,294.7 306.3,293.3 310.6,292.5 314.8,292.3 318.9,292.8 322.7,293.9" fill="none" stroke="#474747" stroke-width="0.90" stroke-linecap="butt" stroke-linejoin="round" opacity="0.9"/>
<polyline points="282.7,414.1 278.3,415.2 274.1,415.7 269.9,415.6 265.9,414.8 262.2,413.4 258.6,411.4 255.4,408.8 252.4,405.6 249.8,401.9 247.6,397.7 245.8,393.1 244.3,388 243.3,382.6 242.7,376.9 242.5,371 242.8,364.8 243.5,358.5 244.7,352.2 246.3,345.9 248.2,339.6 250.6,333.4 253.3,327.5 256.3,321.7 259.6,316.3 263.2,311.3 267.1,306.6 271.1,302.4 275.3,298.7 279.6,295.6 283.9,292.9 288.3,290.9 292.7,289.5 297,288.7 301.2,288.6 305.3,289.1 309.1,290.2" fill="none" stroke="#444" stroke-width="0.70" stroke-linecap="butt" stroke-linejoin="round" opacity="0.9"/>
<polyline points="310.3,421.7 305.9,422.8 301.7,423.3 297.5,423.2 293.5,422.4 289.8,421 286.2,419 283,416.4 280,413.2 277.4,409.5 275.2,405.3 273.4,400.7 271.9,395.6 270.9,390.2 270.3,384.5 270.1,378.5 270.4,372.4 271.1,366.1 272.3,359.8 273.9,353.4 275.8,347.2 278.2,341 280.9,335.1 283.9,329.3 287.2,323.9 290.8,318.9 294.7,314.2 298.7,310 302.9,306.3 307.2,303.1 311.5,300.5 315.9,298.5 320.3,297.1 324.6,296.3 328.8,296.2 332.9,296.7 336.7,297.8" fill="none" stroke="#444" stroke-width="0.70" stroke-linecap="butt" stroke-linejoin="round" opacity="0.9"/>
<polygon points="364.4,345 363.5,354.8 361.5,364.8 358.6,374.7 354.7,384.2 349.9,393.2 344.4,401.5 338.4,408.7 331.9,414.8 325.1,419.6 318.2,422.9 311.4,424.7 304.7,425 298.5,423.7 292.8,420.9 287.8,416.6 283.6,410.9 280.3,404.1 278,396.2 276.8,387.4 276.6,378 277.5,368.2 279.5,358.2 282.4,348.3 286.3,338.8 291.1,329.8 296.6,321.5 302.6,314.3 309.1,308.2 315.9,303.4 322.8,300.1 329.6,298.3 336.3,298 342.5,299.3 348.2,302.1 353.2,306.4 357.4,312.1 360.7,318.9 363,326.8 364.2,335.6 364.4,345" fill="#2c2c2c" stroke="#505050" stroke-width="0.90" stroke-linejoin="round"/>
<polygon points="362.2,345.8 361.3,355.1 359.5,364.6 356.7,374 353,383.1 348.4,391.7 343.2,399.5 337.5,406.4 331.3,412.1 324.9,416.7 318.3,419.8 311.8,421.6 305.5,421.8 299.6,420.6 294.2,417.9 289.5,413.8 285.5,408.5 282.3,401.9 280.2,394.4 279,386.1 278.8,377.2 279.7,367.9 281.5,358.4 284.3,349 288,339.9 292.6,331.3 297.8,323.5 303.5,316.6 309.7,310.9 316.1,306.3 322.7,303.2 329.2,301.4 335.5,301.2 341.4,302.4 346.8,305.1 351.5,309.2 355.5,314.5 358.7,321.1 360.8,328.6 362,336.9 362.2,345.8" fill="#242424" stroke="#0e0e0e" stroke-width="0.60" stroke-linejoin="round"/>
<polygon points="359.8,346.7 359,355.5 357.2,364.4 354.6,373.3 351.1,381.9 346.8,389.9 341.9,397.3 336.5,403.8 330.7,409.2 324.6,413.5 318.4,416.5 312.3,418.1 306.4,418.3 300.8,417.2 295.7,414.6 291.3,410.8 287.5,405.7 284.6,399.6 282.5,392.5 281.4,384.7 281.2,376.3 282,367.5 283.8,358.6 286.4,349.7 289.9,341.1 294.2,333.1 299.1,325.7 304.5,319.2 310.3,313.8 316.4,309.5 322.6,306.5 328.7,304.9 334.6,304.7 340.2,305.8 345.3,308.4 349.7,312.2 353.5,317.3 356.4,323.4 358.5,330.5 359.6,338.3 359.8,346.7" fill="#a6a09b" stroke="#5d5a58" stroke-width="0.70" stroke-linejoin="round"/>
<clipPath id="clip_f"><polygon points="358.6,347.2 357.7,356.6 355.6,366.3 352.5,375.7 348.4,384.8 343.5,393.1 337.8,400.5 331.7,406.7 325.2,411.5 318.5,414.8 311.9,416.5 305.6,416.5 299.7,414.8 294.5,411.5 290,406.7 286.5,400.6 284,393.2 282.6,384.9 282.4,375.8 283.3,366.4 285.4,356.7 288.5,347.3 292.6,338.2 297.5,329.9 303.2,322.5 309.3,316.3 315.8,311.5 322.5,308.2 329.1,306.5 335.4,306.5 341.3,308.2 346.5,311.5 351,316.3 354.5,322.4 357,329.8 358.4,338.1 358.6,347.2"/></clipPath>
<g clip-path="url(#clip_f)">
<polygon points="317.8,361.8 289.9,372.3 291.2,338.8 319,328.3" fill="#3a3a3a" stroke="#1a1a1a" stroke-width="0.50" stroke-linejoin="round"/>
<polygon points="314,359 298,365 298.9,340.1 314.9,334.1" fill="#2c2c2c" stroke="#181818" stroke-width="0.50" stroke-linejoin="round"/>
<polygon points="311.1,356.4 301.6,360 302.2,343.7 311.7,340.2" fill="#8a9098" stroke="#1c1c1c" stroke-width="0.40" stroke-linejoin="round"/>
<polygon points="317.5,369.8 289.6,380.2 288.4,413.7 316.2,403.2" fill="#3a3a3a" stroke="#1a1a1a" stroke-width="0.50" stroke-linejoin="round"/>
<polygon points="313.4,375.5 297.4,381.6 296.4,406.4 312.5,400.4" fill="#2c2c2c" stroke="#181818" stroke-width="0.50" stroke-linejoin="round"/>
<polygon points="310.2,380.4 300.7,383.9 300.1,400.2 309.6,396.7" fill="#222" stroke="#1c1c1c" stroke-width="0.40" stroke-linejoin="round"/>
<polygon points="323.5,359.6 351.4,349.2 352.6,315.7 324.8,326.2" fill="#3a3a3a" stroke="#1a1a1a" stroke-width="0.50" stroke-linejoin="round"/>
<polygon points="327.6,353.9 343.6,347.8 344.6,323 328.5,329" fill="#2c2c2c" stroke="#181818" stroke-width="0.50" stroke-linejoin="round"/>
<polygon points="330.8,349 340.3,345.5 340.9,329.2 331.4,332.7" fill="#222" stroke="#1c1c1c" stroke-width="0.40" stroke-linejoin="round"/>
<polygon points="323.2,367.6 351.1,357.1 349.8,390.6 322,401.1" fill="#3a3a3a" stroke="#1a1a1a" stroke-width="0.50" stroke-linejoin="round"/>
<polygon points="327,370.4 343,364.4 342.1,389.3 326.1,395.3" fill="#2c2c2c" stroke="#181818" stroke-width="0.50" stroke-linejoin="round"/>
<polygon points="329.9,373 339.4,369.4 338.8,385.7 329.3,389.2" fill="#222" stroke="#1c1c1c" stroke-width="0.40" stroke-linejoin="round"/>
<ellipse cx="328.4" cy="349.6" rx="3.2" ry="4.2" fill="#8e1a1a"/>
<ellipse cx="327.2" cy="370" rx="2.8" ry="3.2" fill="#8e1a1a"/>
</g>
<ellipse cx="319.4" cy="359.7" rx="1.7" ry="1.7" fill="#8a8a8a" stroke="#1a1a1a" stroke-width="0.60"/>
<ellipse cx="324.1" cy="361.5" rx="1.7" ry="1.7" fill="#8a8a8a" stroke="#1a1a1a" stroke-width="0.60"/>
<ellipse cx="321.6" cy="369.7" rx="1.7" ry="1.7" fill="#8a8a8a" stroke="#1a1a1a" stroke-width="0.60"/>
<ellipse cx="316.9" cy="367.9" rx="1.7" ry="1.7" fill="#8a8a8a" stroke="#1a1a1a" stroke-width="0.60"/>
</g>
<polygon points="48.5,219.3 112.1,245.6 127.4,257.7 134,262 46,223" fill="#8f9098" stroke="#5c5d64" stroke-width="0.40" stroke-linejoin="round"/>
<polygon points="48.5,219.3 61.6,214.9 125.2,251.1 127.4,257.7 116.4,251 112.1,245.6" fill="#e3e4ea" stroke="#8a8c94" stroke-width="0.40" stroke-linejoin="round"/>
<polygon points="60,208 62.5,208 62.5,217 60,217" fill="#b5722e"/>
<polygon points="45,303 52,310.8 121.1,347.8 122.3,354 153.1,368.8 158.1,372.5 167.9,367.5 182,364 182,360" fill="#5d6066" stroke="#3a3c40" stroke-width="0.50" stroke-linejoin="round"/>
<polyline points="52,310.8 121.1,347.8 122.3,354 153.1,368.8" fill="none" stroke="#9a9da4" stroke-width="0.80" stroke-linecap="butt" stroke-linejoin="round"/>
<polygon points="158.1,372.5 167.9,367.5 181,364 181,367 168,371" fill="#c9cbd0"/>
<polygon points="57,314.5 60.5,316 60.5,323 57,321.5" fill="#c98a3a"/>
<polygon points="160.5,372.5 164,371 164,378.6 160.5,378.6" fill="#c98a3a"/>
<polygon points="46,222.5 180.3,285 181.6,365.6 44.4,304.7" fill="#141414" stroke="#6b4423" stroke-width="1.6" stroke-linejoin="round"/>
<polyline points="50.1,224.4 48.6,306.5" fill="none" stroke="#4a4a4a" stroke-width="1.30" stroke-linecap="butt" stroke-linejoin="round" opacity="0.9"/>
<polyline points="54.1,226.3 52.7,308.4" fill="none" stroke="#4a4a4a" stroke-width="1.30" stroke-linecap="butt" stroke-linejoin="round" opacity="0.9"/>
<polyline points="58.2,228.2 56.9,310.2" fill="none" stroke="#4a4a4a" stroke-width="1.30" stroke-linecap="butt" stroke-linejoin="round" opacity="0.9"/>
<polyline points="62.3,230.1 61,312.1" fill="none" stroke="#4a4a4a" stroke-width="1.30" stroke-linecap="butt" stroke-linejoin="round" opacity="0.9"/>
<polyline points="66.3,232 65.2,313.9" fill="none" stroke="#4a4a4a" stroke-width="1.30" stroke-linecap="butt" stroke-linejoin="round" opacity="0.9"/>
<polyline points="70.4,233.9 69.3,315.8" fill="none" stroke="#4a4a4a" stroke-width="1.30" stroke-linecap="butt" stroke-linejoin="round" opacity="0.9"/>
<polyline points="74.5,235.8 73.5,317.6" fill="none" stroke="#4a4a4a" stroke-width="1.30" stroke-linecap="butt" stroke-linejoin="round" opacity="0.9"/>
<polyline points="78.6,237.7 77.7,319.5" fill="none" stroke="#4a4a4a" stroke-width="1.30" stroke-linecap="butt" stroke-linejoin="round" opacity="0.9"/>
<polyline points="82.6,239.5 81.8,321.3" fill="none" stroke="#4a4a4a" stroke-width="1.30" stroke-linecap="butt" stroke-linejoin="round" opacity="0.9"/>
<polyline points="86.7,241.4 86,323.2" fill="none" stroke="#4a4a4a" stroke-width="1.30" stroke-linecap="butt" stroke-linejoin="round" opacity="0.9"/>
<polyline points="90.8,243.3 90.1,325" fill="none" stroke="#4a4a4a" stroke-width="1.30" stroke-linecap="butt" stroke-linejoin="round" opacity="0.9"/>
<polyline points="94.8,245.2 94.3,326.8" fill="none" stroke="#4a4a4a" stroke-width="1.30" stroke-linecap="butt" stroke-linejoin="round" opacity="0.9"/>
<polyline points="98.9,247.1 98.4,328.7" fill="none" stroke="#4a4a4a" stroke-width="1.30" stroke-linecap="butt" stroke-linejoin="round" opacity="0.9"/>
<polyline points="103,249 102.6,330.5" fill="none" stroke="#4a4a4a" stroke-width="1.30" stroke-linecap="butt" stroke-linejoin="round" opacity="0.9"/>
<polyline points="107,250.9 106.8,332.4" fill="none" stroke="#4a4a4a" stroke-width="1.30" stroke-linecap="butt" stroke-linejoin="round" opacity="0.9"/>
<polyline points="111.1,252.8 110.9,334.2" fill="none" stroke="#4a4a4a" stroke-width="1.30" stroke-linecap="butt" stroke-linejoin="round" opacity="0.9"/>
<polyline points="115.2,254.7 115.1,336.1" fill="none" stroke="#4a4a4a" stroke-width="1.30" stroke-linecap="butt" stroke-linejoin="round" opacity="0.9"/>
<polyline points="119.3,256.6 119.2,337.9" fill="none" stroke="#4a4a4a" stroke-width="1.30" stroke-linecap="butt" stroke-linejoin="round" opacity="0.9"/>
<polyline points="123.3,258.5 123.4,339.8" fill="none" stroke="#4a4a4a" stroke-width="1.30" stroke-linecap="butt" stroke-linejoin="round" opacity="0.9"/>
<polyline points="127.4,260.4 127.6,341.6" fill="none" stroke="#4a4a4a" stroke-width="1.30" stroke-linecap="butt" stroke-linejoin="round" opacity="0.9"/>
<polyline points="131.5,262.3 131.7,343.5" fill="none" stroke="#4a4a4a" stroke-width="1.30" stroke-linecap="butt" stroke-linejoin="round" opacity="0.9"/>
<polyline points="135.5,264.2 135.9,345.3" fill="none" stroke="#4a4a4a" stroke-width="1.30" stroke-linecap="butt" stroke-linejoin="round" opacity="0.9"/>
<polyline points="139.6,266.1 140,347.1" fill="none" stroke="#4a4a4a" stroke-width="1.30" stroke-linecap="butt" stroke-linejoin="round" opacity="0.9"/>
<polyline points="143.7,268 144.2,349" fill="none" stroke="#4a4a4a" stroke-width="1.30" stroke-linecap="butt" stroke-linejoin="round" opacity="0.9"/>
<polyline points="147.7,269.8 148.3,350.8" fill="none" stroke="#4a4a4a" stroke-width="1.30" stroke-linecap="butt" stroke-linejoin="round" opacity="0.9"/>
<polyline points="151.8,271.7 152.5,352.7" fill="none" stroke="#4a4a4a" stroke-width="1.30" stroke-linecap="butt" stroke-linejoin="round" opacity="0.9"/>
<polyline points="155.9,273.6 156.7,354.5" fill="none" stroke="#4a4a4a" stroke-width="1.30" stroke-linecap="butt" stroke-linejoin="round" opacity="0.9"/>
<polyline points="160,275.5 160.8,356.4" fill="none" stroke="#4a4a4a" stroke-width="1.30" stroke-linecap="butt" stroke-linejoin="round" opacity="0.9"/>
<polyline points="164,277.4 165,358.2" fill="none" stroke="#4a4a4a" stroke-width="1.30" stroke-linecap="butt" stroke-linejoin="round" opacity="0.9"/>
<polyline points="168.1,279.3 169.1,360.1" fill="none" stroke="#4a4a4a" stroke-width="1.30" stroke-linecap="butt" stroke-linejoin="round" opacity="0.9"/>
<polyline points="172.2,281.2 173.3,361.9" fill="none" stroke="#4a4a4a" stroke-width="1.30" stroke-linecap="butt" stroke-linejoin="round" opacity="0.9"/>
<polyline points="176.2,283.1 177.4,363.8" fill="none" stroke="#4a4a4a" stroke-width="1.30" stroke-linecap="butt" stroke-linejoin="round" opacity="0.9"/>
<polyline points="46,222.5 180.3,285" fill="none" stroke="#7a4a22" stroke-width="2.60" stroke-linecap="butt" stroke-linejoin="round"/>
<polyline points="44.4,304.7 181.6,365.6" fill="none" stroke="#6b3d1c" stroke-width="3.20" stroke-linecap="butt" stroke-linejoin="round"/>
<polyline points="180.3,285 181.6,365.6" fill="none" stroke="#8a5a2c" stroke-width="3.60" stroke-linecap="butt" stroke-linejoin="round"/>
<polyline points="46,222.5 44.4,304.7" fill="none" stroke="#5a3a1c" stroke-width="1.40" stroke-linecap="butt" stroke-linejoin="round"/>
<polygon points="172,279 181,283 181,289 172,285" fill="#a36a32"/>
<polyline points="129,256 170,277" fill="none" stroke="#b17a10" stroke-width="7.50" stroke-linecap="round" stroke-linejoin="round"/>
<polyline points="129,255 170,276" fill="none" stroke="#eeb21c" stroke-width="5.00" stroke-linecap="round" stroke-linejoin="round"/>
<polyline points="131,254 166,272" fill="none" stroke="#ffd968" stroke-width="1.40" stroke-linecap="round" stroke-linejoin="round"/>
<path d="M0,0 H53 a8,8 0 1 0 -6.55,-3.41 M8.7,-5.8 H31.5 a6.8,6.8 0 1 0 -5.57,-2.9 M8.8,5.8 H40.7 a6.8,6.8 0 1 1 -5.57,2.9" fill="none" stroke="#2bb6e2" stroke-width="2.67" stroke-linecap="round" transform="translate(6 335.2) rotate(-29.4) scale(0.750)"/>
<path d="M0,0 H53 a8,8 0 1 0 -6.55,-3.41 M8.7,-5.8 H31.5 a6.8,6.8 0 1 0 -5.57,-2.9 M8.8,5.8 H40.7 a6.8,6.8 0 1 1 -5.57,2.9" fill="none" stroke="#2bb6e2" stroke-width="2.71" stroke-linecap="round" transform="translate(43.7 366.1) rotate(-29.4) scale(0.960)"/>
<text x="365" y="497" font-size="34" fill="#111" font-weight="normal" font-family="&quot;Liberation Serif&quot;, serif" text-anchor="middle">(a)</text>
<text x="100.3" y="400" font-size="19.5" fill="#111" font-weight="bold" font-family="&quot;Liberation Sans&quot;, sans-serif" text-anchor="start" textLength="80.6" lengthAdjust="spacingAndGlyphs" stroke="#111" stroke-width="0.45">Radiator</text>
<text x="508.6" y="284.5" font-size="19.5" fill="#111" font-weight="bold" font-family="&quot;Liberation Sans&quot;, sans-serif" text-anchor="start" word-spacing="4" textLength="121" lengthAdjust="spacingAndGlyphs" stroke="#111" stroke-width="0.45">Battery Pack</text>
<text x="457" y="349" font-size="19.5" fill="#111" font-weight="bold" font-family="&quot;Liberation Sans&quot;, sans-serif" text-anchor="start" textLength="26.7" lengthAdjust="spacingAndGlyphs" stroke="#111" stroke-width="0.45">Air</text>
<polyline points="140,379 135.1,363.7" fill="none" stroke="#111" stroke-width="0.90" stroke-linecap="butt" stroke-linejoin="round"/>
<polygon points="133,357 137.6,362.9 132.6,364.5" fill="#111"/>
<polyline points="549,260 487.7,216.1" fill="none" stroke="#111" stroke-width="0.90" stroke-linecap="butt" stroke-linejoin="round"/>
<polygon points="482,212 489.2,214 486.2,218.2" fill="#111"/>
<polyline points="455,320 417,297.6" fill="none" stroke="#111" stroke-width="0.90" stroke-linecap="butt" stroke-linejoin="round"/>
<polygon points="411,294 418.3,295.3 415.7,299.8" fill="#111"/>
</svg></body></html>
